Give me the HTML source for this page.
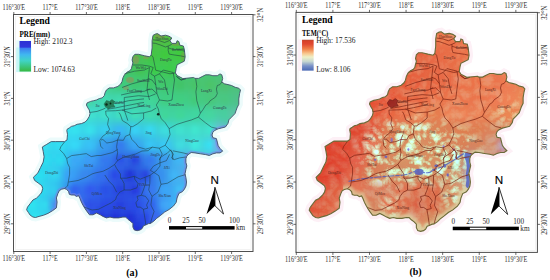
<!DOCTYPE html>
<html><head><meta charset="utf-8"><style>
html,body{margin:0;padding:0;background:#fff;}
svg{display:block;}
.t{font-family:"Liberation Serif",serif;font-size:7.2px;fill:#2a2a2a;}
.t2{font-family:"Liberation Serif",serif;font-size:7.4px;fill:#222;}
.fc rect{width:4px;height:4px;}
.lb{font-family:"Liberation Serif",serif;font-size:3.6px;}
</style></head><body>
<svg width="550" height="280" viewBox="0 0 550 280">
<defs>
<clipPath id="clipS"><rect x="60" y="182" width="140" height="60"/><rect x="170" y="150" width="30" height="40"/></clipPath>
<clipPath id="clipE"><rect x="176" y="125" width="60" height="90"/><rect x="50" y="186" width="40" height="30"/></clipPath>
<clipPath id="clipO"><path d="M153.0,35.4 L155.5,34.0 L157.5,33.6 L161.0,36.0 L165.5,35.2 L169.0,36.2 L171.8,38.0 L170.0,40.7 L171.8,43.4 L176.2,43.4 L177.1,40.7 L178.9,41.6 L179.8,45.2 L183.4,46.0 L184.3,49.6 L185.2,56.8 L184.3,61.2 L180.7,63.0 L177.1,64.8 L176.2,68.4 L175.4,72.9 L177.1,75.5 L182.9,78.6 L193.6,77.5 L195.0,78.4 L198.6,78.4 L202.1,76.6 L205.7,74.8 L209.3,74.8 L212.9,75.7 L217.3,75.7 L220.0,73.9 L221.8,74.8 L222.7,78.4 L221.8,82.0 L224.5,83.8 L228.0,84.6 L231.6,85.5 L235.2,87.3 L238.8,88.2 L240.5,90.0 L239.6,93.6 L238.8,98.9 L238.8,104.3 L237.0,107.9 L236.1,110.5 L235.0,113.6 L231.6,117.1 L228.9,119.8 L228.0,123.4 L225.4,127.0 L221.8,127.9 L218.2,128.8 L214.6,130.5 L212.9,132.3 L212.0,135.0 L212.9,137.7 L216.4,138.6 L217.3,142.1 L218.2,145.7 L220.0,148.4 L222.7,151.1 L220.0,152.9 L216.4,152.9 L212.9,153.8 L209.3,155.5 L205.7,154.6 L200.4,153.8 L195.0,152.9 L191.2,152.5 L188.6,154.3 L186.8,156.1 L185.9,158.8 L185.9,162.3 L186.8,165.9 L185.9,169.5 L185.0,173.9 L185.9,177.5 L186.5,182.0 L186.0,186.0 L184.5,189.0 L182.5,191.6 L178.9,193.4 L177.1,197.9 L176.2,202.3 L173.6,205.9 L169.1,209.5 L164.6,212.1 L160.2,215.7 L156.6,218.4 L153.9,221.1 L150.4,223.5 L148.6,223.6 L145.7,225.0 L143.6,225.7 L142.1,228.6 L140.0,230.0 L137.1,230.7 L134.3,230.0 L132.9,227.1 L132.9,223.6 L130.7,221.4 L127.9,219.3 L125.7,217.1 L122.9,217.1 L118.6,217.9 L113.6,217.9 L110.0,217.1 L106.4,217.9 L102.9,216.4 L100.2,214.8 L96.6,213.0 L93.0,214.8 L89.5,214.8 L86.8,211.2 L85.0,208.6 L82.9,205.0 L81.4,202.1 L80.0,198.6 L78.6,195.7 L76.4,196.4 L74.3,195.0 L71.4,195.0 L69.3,194.3 L68.6,191.4 L66.4,189.3 L64.3,188.6 L61.4,189.3 L59.3,190.7 L57.9,193.6 L56.4,197.9 L57.1,202.1 L56.4,207.9 L52.5,210.7 L48.0,213.4 L43.6,215.2 L39.1,216.4 L35.5,217.5 L32.9,217.0 L30.2,215.2 L28.4,212.5 L26.6,209.8 L27.5,207.1 L30.2,203.6 L32.9,200.0 L36.4,198.2 L40.0,194.6 L41.8,192.0 L42.7,188.4 L41.8,185.7 L38.2,183.0 L34.6,180.4 L33.4,177.3 L37.9,172.9 L40.5,167.5 L43.2,162.1 L44.1,156.8 L43.2,151.4 L42.3,147.0 L46.8,144.3 L51.2,141.6 L55.7,141.6 L64.5,141.6 L67.0,140.0 L67.2,137.9 L67.5,134.3 L66.8,130.7 L67.1,129.3 L69.3,127.9 L71.4,126.4 L74.3,125.7 L77.1,124.3 L81.4,123.6 L85.0,122.1 L87.1,120.0 L89.3,116.4 L90.0,113.6 L89.3,110.0 L87.9,107.9 L86.4,105.0 L87.1,102.9 L90.7,101.4 L93.6,100.7 L96.4,100.0 L99.3,98.6 L102.1,97.9 L104.3,95.7 L105.0,92.9 L106.4,90.0 L109.3,87.9 L113.6,87.9 L117.9,86.4 L120.7,84.0 L122.1,81.4 L122.9,77.9 L124.3,75.0 L127.1,72.1 L130.0,70.7 L131.4,68.6 L132.1,65.7 L132.9,62.9 L132.1,60.0 L132.9,56.4 L135.0,54.3 L138.6,54.3 L144.3,55.7 L149.5,56.8 L151.2,55.0 L152.1,47.9 L152.1,40.7 Z"/></clipPath>
<filter id="bl2" x="-5%" y="-5%" width="110%" height="110%"><feGaussianBlur stdDeviation="1.5"/></filter>
<filter id="tex" filterUnits="userSpaceOnUse" x="20" y="28" width="230" height="210" color-interpolation-filters="sRGB">
<feTurbulence type="turbulence" baseFrequency="0.09" numOctaves="3" seed="11" result="n"/>
<feColorMatrix in="n" type="matrix" values="-0.2 0 0 0 0.03  1.35 0 0 0 -0.25  1.35 0 0 0 -0.26  0 0 0 0 1" result="g"/>
<feComposite in="SourceGraphic" in2="g" operator="arithmetic" k1="0" k2="1" k3="1" k4="0"/>
</filter>
<filter id="bl4" x="-20%" y="-20%" width="140%" height="140%"><feGaussianBlur stdDeviation="12"/></filter>
<filter id="bl6" x="-30%" y="-30%" width="160%" height="160%"><feGaussianBlur stdDeviation="6"/></filter>
<filter id="bl15" x="-10%" y="-10%" width="120%" height="120%"><feGaussianBlur stdDeviation="1.5"/></filter>
<filter id="bl05"><feGaussianBlur stdDeviation="0.35"/></filter>
<mask id="mtex" maskUnits="userSpaceOnUse" x="0" y="0" width="260" height="260">
<rect x="0" y="0" width="260" height="260" fill="#303030"/>
<g filter="url(#bl6)" fill="#fff">
<path d="M80,135 L100,125 L130,120 L160,126 L190,138 L188,178 L160,182 L120,184 L90,184 L75,165 Z"/>
<ellipse cx="108" cy="208" rx="9" ry="14"/><ellipse cx="170" cy="195" rx="9" ry="16"/><ellipse cx="145" cy="226" rx="10" ry="6"/>
<ellipse cx="225" cy="115" rx="12" ry="12" opacity="0.6"/>
</g>
</mask>
<filter id="bl" x="-50%" y="-50%" width="200%" height="200%"><feGaussianBlur stdDeviation="9"/></filter>
<linearGradient id="gPre" x1="0" y1="0" x2="0" y2="1">
<stop offset="0" stop-color="#44bb48"/><stop offset="0.35" stop-color="#44c870"/><stop offset="0.55" stop-color="#40e0c8"/><stop offset="0.7" stop-color="#3090f0"/><stop offset="1" stop-color="#2440e0"/>
</linearGradient>
<linearGradient id="gPreBar" x1="0" y1="0" x2="0" y2="1">
<stop offset="0" stop-color="#2c30d4"/><stop offset="0.2" stop-color="#3038dc"/><stop offset="0.24" stop-color="#3c80f0"/><stop offset="0.45" stop-color="#40b8f0"/><stop offset="0.65" stop-color="#40d4c4"/><stop offset="1" stop-color="#38b840"/>
</linearGradient>
<linearGradient id="gTemBar" x1="0" y1="0" x2="0" y2="1">
<stop offset="0" stop-color="#b04830"/><stop offset="0.04" stop-color="#d84028"/><stop offset="0.14" stop-color="#e04830"/><stop offset="0.3" stop-color="#f08048"/><stop offset="0.45" stop-color="#f8c890"/><stop offset="0.56" stop-color="#eef0c8"/><stop offset="0.7" stop-color="#c8d8d0"/><stop offset="0.85" stop-color="#7890c8"/><stop offset="1" stop-color="#4a68b4"/>
</linearGradient>
</defs>
<rect width="550" height="280" fill="#fff"/>
<g id="L">
<rect x="13.5" y="14.5" width="239.5" height="237" fill="none" stroke="#505050" stroke-width="1"/>
<rect x="15.5" y="16.5" width="235.5" height="233" fill="none" stroke="#ececec" stroke-width="0.6"/>
<line x1="13.8" y1="12" x2="13.8" y2="14.5" stroke="#444" stroke-width="0.8"/>
<line x1="13.8" y1="251" x2="13.8" y2="254" stroke="#444" stroke-width="0.8"/>
<text x="13.8" y="10.2" class="t" text-anchor="middle" textLength="22.5" lengthAdjust="spacingAndGlyphs">116°30'E</text>
<text x="13.8" y="261.3" class="t" text-anchor="middle" textLength="22.5" lengthAdjust="spacingAndGlyphs">116°30'E</text>
<line x1="50.1" y1="12" x2="50.1" y2="14.5" stroke="#444" stroke-width="0.8"/>
<line x1="50.1" y1="251" x2="50.1" y2="254" stroke="#444" stroke-width="0.8"/>
<text x="50.1" y="10.2" class="t" text-anchor="middle" textLength="15" lengthAdjust="spacingAndGlyphs">117°E</text>
<text x="50.1" y="261.3" class="t" text-anchor="middle" textLength="15" lengthAdjust="spacingAndGlyphs">117°E</text>
<line x1="86.4" y1="12" x2="86.4" y2="14.5" stroke="#444" stroke-width="0.8"/>
<line x1="86.4" y1="251" x2="86.4" y2="254" stroke="#444" stroke-width="0.8"/>
<text x="86.4" y="10.2" class="t" text-anchor="middle" textLength="22.5" lengthAdjust="spacingAndGlyphs">117°30'E</text>
<text x="86.4" y="261.3" class="t" text-anchor="middle" textLength="22.5" lengthAdjust="spacingAndGlyphs">117°30'E</text>
<line x1="122.7" y1="12" x2="122.7" y2="14.5" stroke="#444" stroke-width="0.8"/>
<line x1="122.7" y1="251" x2="122.7" y2="254" stroke="#444" stroke-width="0.8"/>
<text x="122.7" y="10.2" class="t" text-anchor="middle" textLength="15" lengthAdjust="spacingAndGlyphs">118°E</text>
<text x="122.7" y="261.3" class="t" text-anchor="middle" textLength="15" lengthAdjust="spacingAndGlyphs">118°E</text>
<line x1="159.0" y1="12" x2="159.0" y2="14.5" stroke="#444" stroke-width="0.8"/>
<line x1="159.0" y1="251" x2="159.0" y2="254" stroke="#444" stroke-width="0.8"/>
<text x="159.0" y="10.2" class="t" text-anchor="middle" textLength="22.5" lengthAdjust="spacingAndGlyphs">118°30'E</text>
<text x="159.0" y="261.3" class="t" text-anchor="middle" textLength="22.5" lengthAdjust="spacingAndGlyphs">118°30'E</text>
<line x1="195.3" y1="12" x2="195.3" y2="14.5" stroke="#444" stroke-width="0.8"/>
<line x1="195.3" y1="251" x2="195.3" y2="254" stroke="#444" stroke-width="0.8"/>
<text x="195.3" y="10.2" class="t" text-anchor="middle" textLength="15" lengthAdjust="spacingAndGlyphs">119°E</text>
<text x="195.3" y="261.3" class="t" text-anchor="middle" textLength="15" lengthAdjust="spacingAndGlyphs">119°E</text>
<line x1="231.6" y1="12" x2="231.6" y2="14.5" stroke="#444" stroke-width="0.8"/>
<line x1="231.6" y1="251" x2="231.6" y2="254" stroke="#444" stroke-width="0.8"/>
<text x="231.6" y="10.2" class="t" text-anchor="middle" textLength="22.5" lengthAdjust="spacingAndGlyphs">119°30'E</text>
<text x="231.6" y="261.3" class="t" text-anchor="middle" textLength="22.5" lengthAdjust="spacingAndGlyphs">119°30'E</text>
<line x1="253" y1="14.8" x2="255.5" y2="14.8" stroke="#444" stroke-width="0.8"/>
<text transform="translate(262.6,14.8) rotate(-90)" class="t" text-anchor="middle" textLength="14" lengthAdjust="spacingAndGlyphs">32°N</text>
<line x1="11" y1="56.6" x2="13.5" y2="56.6" stroke="#444" stroke-width="0.8"/>
<text transform="translate(10.2,56.6) rotate(-90)" class="t" text-anchor="middle" textLength="20.7" lengthAdjust="spacingAndGlyphs">31°30'N</text>
<line x1="253" y1="56.6" x2="255.5" y2="56.6" stroke="#444" stroke-width="0.8"/>
<text transform="translate(262.6,56.6) rotate(-90)" class="t" text-anchor="middle" textLength="20.7" lengthAdjust="spacingAndGlyphs">31°30'N</text>
<line x1="11" y1="98.4" x2="13.5" y2="98.4" stroke="#444" stroke-width="0.8"/>
<text transform="translate(10.2,98.4) rotate(-90)" class="t" text-anchor="middle" textLength="14" lengthAdjust="spacingAndGlyphs">31°N</text>
<line x1="253" y1="98.4" x2="255.5" y2="98.4" stroke="#444" stroke-width="0.8"/>
<text transform="translate(262.6,98.4) rotate(-90)" class="t" text-anchor="middle" textLength="14" lengthAdjust="spacingAndGlyphs">31°N</text>
<line x1="11" y1="140.2" x2="13.5" y2="140.2" stroke="#444" stroke-width="0.8"/>
<text transform="translate(10.2,140.2) rotate(-90)" class="t" text-anchor="middle" textLength="20.7" lengthAdjust="spacingAndGlyphs">30°30'N</text>
<line x1="253" y1="140.2" x2="255.5" y2="140.2" stroke="#444" stroke-width="0.8"/>
<text transform="translate(262.6,140.2) rotate(-90)" class="t" text-anchor="middle" textLength="20.7" lengthAdjust="spacingAndGlyphs">30°30'N</text>
<line x1="11" y1="182.0" x2="13.5" y2="182.0" stroke="#444" stroke-width="0.8"/>
<text transform="translate(10.2,182.0) rotate(-90)" class="t" text-anchor="middle" textLength="14" lengthAdjust="spacingAndGlyphs">30°N</text>
<line x1="253" y1="182.0" x2="255.5" y2="182.0" stroke="#444" stroke-width="0.8"/>
<text transform="translate(262.6,182.0) rotate(-90)" class="t" text-anchor="middle" textLength="14" lengthAdjust="spacingAndGlyphs">30°N</text>
<line x1="11" y1="223.8" x2="13.5" y2="223.8" stroke="#444" stroke-width="0.8"/>
<text transform="translate(10.2,223.8) rotate(-90)" class="t" text-anchor="middle" textLength="20.7" lengthAdjust="spacingAndGlyphs">29°30'N</text>
<line x1="253" y1="223.8" x2="255.5" y2="223.8" stroke="#444" stroke-width="0.8"/>
<text transform="translate(262.6,223.8) rotate(-90)" class="t" text-anchor="middle" textLength="20.7" lengthAdjust="spacingAndGlyphs">29°30'N</text>
<path d="M153.0,35.4 L155.5,34.0 L157.5,33.6 L161.0,36.0 L165.5,35.2 L169.0,36.2 L171.8,38.0 L170.0,40.7 L171.8,43.4 L176.2,43.4 L177.1,40.7 L178.9,41.6 L179.8,45.2 L183.4,46.0 L184.3,49.6 L185.2,56.8 L184.3,61.2 L180.7,63.0 L177.1,64.8 L176.2,68.4 L175.4,72.9 L177.1,75.5 L182.9,78.6 L193.6,77.5 L195.0,78.4 L198.6,78.4 L202.1,76.6 L205.7,74.8 L209.3,74.8 L212.9,75.7 L217.3,75.7 L220.0,73.9 L221.8,74.8 L222.7,78.4 L221.8,82.0 L224.5,83.8 L228.0,84.6 L231.6,85.5 L235.2,87.3 L238.8,88.2 L240.5,90.0 L239.6,93.6 L238.8,98.9 L238.8,104.3 L237.0,107.9 L236.1,110.5 L235.0,113.6 L231.6,117.1 L228.9,119.8 L228.0,123.4 L225.4,127.0 L221.8,127.9 L218.2,128.8 L214.6,130.5 L212.9,132.3 L212.0,135.0 L212.9,137.7 L216.4,138.6 L217.3,142.1 L218.2,145.7 L220.0,148.4 L222.7,151.1 L220.0,152.9 L216.4,152.9 L212.9,153.8 L209.3,155.5 L205.7,154.6 L200.4,153.8 L195.0,152.9 L191.2,152.5 L188.6,154.3 L186.8,156.1 L185.9,158.8 L185.9,162.3 L186.8,165.9 L185.9,169.5 L185.0,173.9 L185.9,177.5 L186.5,182.0 L186.0,186.0 L184.5,189.0 L182.5,191.6 L178.9,193.4 L177.1,197.9 L176.2,202.3 L173.6,205.9 L169.1,209.5 L164.6,212.1 L160.2,215.7 L156.6,218.4 L153.9,221.1 L150.4,223.5 L148.6,223.6 L145.7,225.0 L143.6,225.7 L142.1,228.6 L140.0,230.0 L137.1,230.7 L134.3,230.0 L132.9,227.1 L132.9,223.6 L130.7,221.4 L127.9,219.3 L125.7,217.1 L122.9,217.1 L118.6,217.9 L113.6,217.9 L110.0,217.1 L106.4,217.9 L102.9,216.4 L100.2,214.8 L96.6,213.0 L93.0,214.8 L89.5,214.8 L86.8,211.2 L85.0,208.6 L82.9,205.0 L81.4,202.1 L80.0,198.6 L78.6,195.7 L76.4,196.4 L74.3,195.0 L71.4,195.0 L69.3,194.3 L68.6,191.4 L66.4,189.3 L64.3,188.6 L61.4,189.3 L59.3,190.7 L57.9,193.6 L56.4,197.9 L57.1,202.1 L56.4,207.9 L52.5,210.7 L48.0,213.4 L43.6,215.2 L39.1,216.4 L35.5,217.5 L32.9,217.0 L30.2,215.2 L28.4,212.5 L26.6,209.8 L27.5,207.1 L30.2,203.6 L32.9,200.0 L36.4,198.2 L40.0,194.6 L41.8,192.0 L42.7,188.4 L41.8,185.7 L38.2,183.0 L34.6,180.4 L33.4,177.3 L37.9,172.9 L40.5,167.5 L43.2,162.1 L44.1,156.8 L43.2,151.4 L42.3,147.0 L46.8,144.3 L51.2,141.6 L55.7,141.6 L64.5,141.6 L67.0,140.0 L67.2,137.9 L67.5,134.3 L66.8,130.7 L67.1,129.3 L69.3,127.9 L71.4,126.4 L74.3,125.7 L77.1,124.3 L81.4,123.6 L85.0,122.1 L87.1,120.0 L89.3,116.4 L90.0,113.6 L89.3,110.0 L87.9,107.9 L86.4,105.0 L87.1,102.9 L90.7,101.4 L93.6,100.7 L96.4,100.0 L99.3,98.6 L102.1,97.9 L104.3,95.7 L105.0,92.9 L106.4,90.0 L109.3,87.9 L113.6,87.9 L117.9,86.4 L120.7,84.0 L122.1,81.4 L122.9,77.9 L124.3,75.0 L127.1,72.1 L130.0,70.7 L131.4,68.6 L132.1,65.7 L132.9,62.9 L132.1,60.0 L132.9,56.4 L135.0,54.3 L138.6,54.3 L144.3,55.7 L149.5,56.8 L151.2,55.0 L152.1,47.9 L152.1,40.7 Z" fill="none" stroke="#ecfbfb" stroke-width="8" stroke-linejoin="miter"/>
<g clip-path="url(#clipO)"><g class="fc" shape-rendering="crispEdges" filter="url(#bl2)">
<rect x="148" y="30" fill="#51bd46"/><rect x="152" y="30" fill="#50bd46"/><rect x="156" y="30" fill="#51bd45"/><rect x="160" y="30" fill="#50be45"/><rect x="164" y="30" fill="#4fbf46"/><rect x="168" y="30" fill="#4ec045"/><rect x="172" y="30" fill="#4ec046"/><rect x="148" y="34" fill="#53bc40"/><rect x="152" y="34" fill="#52bc43"/><rect x="156" y="34" fill="#53bc41"/><rect x="160" y="34" fill="#53bc41"/><rect x="164" y="34" fill="#50bf42"/><rect x="168" y="34" fill="#4fc040"/><rect x="172" y="34" fill="#4ec043"/><rect x="176" y="34" fill="#4ec043"/><rect x="180" y="34" fill="#4fc040"/><rect x="148" y="38" fill="#53bc40"/><rect x="152" y="38" fill="#52bd43"/><rect x="156" y="38" fill="#53bc41"/><rect x="160" y="38" fill="#52bc41"/><rect x="164" y="38" fill="#4fbf43"/><rect x="168" y="38" fill="#4fc040"/><rect x="172" y="38" fill="#4ec043"/><rect x="176" y="38" fill="#4ec043"/><rect x="180" y="38" fill="#4fc040"/><rect x="184" y="38" fill="#4ec043"/><rect x="148" y="42" fill="#4ebe47"/><rect x="152" y="42" fill="#4ebf47"/><rect x="156" y="42" fill="#4ebf46"/><rect x="160" y="42" fill="#4dbf46"/><rect x="164" y="42" fill="#4cc146"/><rect x="168" y="42" fill="#4cc145"/><rect x="172" y="42" fill="#4bc247"/><rect x="176" y="42" fill="#4bc247"/><rect x="180" y="42" fill="#4cc246"/><rect x="184" y="42" fill="#4bc249"/><rect x="144" y="46" fill="#48c24c"/><rect x="148" y="46" fill="#48c249"/><rect x="152" y="46" fill="#48c24a"/><rect x="156" y="46" fill="#48c349"/><rect x="160" y="46" fill="#47c447"/><rect x="164" y="46" fill="#46c546"/><rect x="168" y="46" fill="#46c448"/><rect x="172" y="46" fill="#46c548"/><rect x="176" y="46" fill="#45c547"/><rect x="180" y="46" fill="#45c547"/><rect x="184" y="46" fill="#46c54c"/><rect x="188" y="46" fill="#46c453"/><rect x="128" y="50" fill="#4cbb52"/><rect x="132" y="50" fill="#4eb94a"/><rect x="136" y="50" fill="#4dba4c"/><rect x="140" y="50" fill="#49bf4f"/><rect x="144" y="50" fill="#45c448"/><rect x="148" y="50" fill="#44c542"/><rect x="152" y="50" fill="#44c546"/><rect x="156" y="50" fill="#44c548"/><rect x="160" y="50" fill="#41c842"/><rect x="164" y="50" fill="#40c93f"/><rect x="168" y="50" fill="#42c745"/><rect x="172" y="50" fill="#42c746"/><rect x="176" y="50" fill="#41c93f"/><rect x="180" y="50" fill="#40c93f"/><rect x="184" y="50" fill="#42c749"/><rect x="188" y="50" fill="#44c654"/><rect x="128" y="54" fill="#4cbb51"/><rect x="132" y="54" fill="#4fb848"/><rect x="136" y="54" fill="#4eb94a"/><rect x="140" y="54" fill="#48c04f"/><rect x="144" y="54" fill="#44c446"/><rect x="148" y="54" fill="#44c540"/><rect x="152" y="54" fill="#44c545"/><rect x="156" y="54" fill="#42c649"/><rect x="160" y="54" fill="#40c93f"/><rect x="164" y="54" fill="#40c93c"/><rect x="168" y="54" fill="#41c844"/><rect x="172" y="54" fill="#41c846"/><rect x="176" y="54" fill="#40c93d"/><rect x="180" y="54" fill="#40c93d"/><rect x="184" y="54" fill="#41c848"/><rect x="188" y="54" fill="#43c656"/><rect x="128" y="58" fill="#49be5a"/><rect x="132" y="58" fill="#4bbc52"/><rect x="136" y="58" fill="#4abd53"/><rect x="140" y="58" fill="#46c155"/><rect x="144" y="58" fill="#44c44f"/><rect x="148" y="58" fill="#43c54a"/><rect x="152" y="58" fill="#42c64c"/><rect x="156" y="58" fill="#41c74e"/><rect x="160" y="58" fill="#41c849"/><rect x="164" y="58" fill="#40c946"/><rect x="168" y="58" fill="#40c84b"/><rect x="172" y="58" fill="#41c84c"/><rect x="176" y="58" fill="#40c847"/><rect x="180" y="58" fill="#41c847"/><rect x="184" y="58" fill="#42c751"/><rect x="188" y="58" fill="#43c65c"/><rect x="124" y="62" fill="#44c365"/><rect x="128" y="62" fill="#45c262"/><rect x="132" y="62" fill="#46c25d"/><rect x="136" y="62" fill="#45c25a"/><rect x="140" y="62" fill="#44c359"/><rect x="144" y="62" fill="#43c557"/><rect x="148" y="62" fill="#41c753"/><rect x="152" y="62" fill="#3fc851"/><rect x="156" y="62" fill="#3fc951"/><rect x="160" y="62" fill="#40c851"/><rect x="164" y="62" fill="#3fc950"/><rect x="168" y="62" fill="#3ec94f"/><rect x="172" y="62" fill="#3fc951"/><rect x="176" y="62" fill="#40c853"/><rect x="180" y="62" fill="#41c856"/><rect x="184" y="62" fill="#42c75d"/><rect x="188" y="62" fill="#43c665"/><rect x="120" y="66" fill="#43c463"/><rect x="124" y="66" fill="#43c461"/><rect x="128" y="66" fill="#43c464"/><rect x="132" y="66" fill="#44c460"/><rect x="136" y="66" fill="#43c456"/><rect x="140" y="66" fill="#43c456"/><rect x="144" y="66" fill="#42c55a"/><rect x="148" y="66" fill="#3fc953"/><rect x="152" y="66" fill="#3ccb49"/><rect x="156" y="66" fill="#3dcb4d"/><rect x="160" y="66" fill="#3ec954"/><rect x="164" y="66" fill="#3dca4f"/><rect x="168" y="66" fill="#3ccb49"/><rect x="172" y="66" fill="#3dca4f"/><rect x="176" y="66" fill="#40c859"/><rect x="180" y="66" fill="#41c760"/><rect x="184" y="66" fill="#42c766"/><rect x="120" y="70" fill="#43c465"/><rect x="124" y="70" fill="#43c461"/><rect x="128" y="70" fill="#43c467"/><rect x="132" y="70" fill="#43c563"/><rect x="136" y="70" fill="#43c457"/><rect x="140" y="70" fill="#43c457"/><rect x="144" y="70" fill="#41c65d"/><rect x="148" y="70" fill="#3ec956"/><rect x="152" y="70" fill="#3ccb4a"/><rect x="156" y="70" fill="#3dcb4e"/><rect x="160" y="70" fill="#3ec958"/><rect x="164" y="70" fill="#3dca51"/><rect x="168" y="70" fill="#3ccb49"/><rect x="172" y="70" fill="#3dca51"/><rect x="176" y="70" fill="#40c85f"/><rect x="180" y="70" fill="#41c767"/><rect x="188" y="70" fill="#44c670"/><rect x="192" y="70" fill="#45c573"/><rect x="196" y="70" fill="#45c575"/><rect x="200" y="70" fill="#46c577"/><rect x="204" y="70" fill="#47c478"/><rect x="208" y="70" fill="#48c479"/><rect x="212" y="70" fill="#49c47b"/><rect x="216" y="70" fill="#49c37c"/><rect x="220" y="70" fill="#4ac37d"/><rect x="224" y="70" fill="#4bc27e"/><rect x="116" y="74" fill="#41c97c"/><rect x="120" y="74" fill="#42c773"/><rect x="124" y="74" fill="#42c66f"/><rect x="128" y="74" fill="#42c670"/><rect x="132" y="74" fill="#42c66d"/><rect x="136" y="74" fill="#42c666"/><rect x="140" y="74" fill="#42c665"/><rect x="144" y="74" fill="#41c766"/><rect x="148" y="74" fill="#3fc863"/><rect x="152" y="74" fill="#3ec95c"/><rect x="156" y="74" fill="#3ec95e"/><rect x="160" y="74" fill="#3fc961"/><rect x="164" y="74" fill="#3fc95f"/><rect x="168" y="74" fill="#3ec95b"/><rect x="172" y="74" fill="#3fc960"/><rect x="176" y="74" fill="#41c767"/><rect x="180" y="74" fill="#42c66c"/><rect x="184" y="74" fill="#43c670"/><rect x="188" y="74" fill="#44c672"/><rect x="192" y="74" fill="#45c572"/><rect x="196" y="74" fill="#46c574"/><rect x="200" y="74" fill="#47c575"/><rect x="204" y="74" fill="#48c475"/><rect x="208" y="74" fill="#49c475"/><rect x="212" y="74" fill="#4ac477"/><rect x="216" y="74" fill="#4ac379"/><rect x="220" y="74" fill="#4cc27a"/><rect x="224" y="74" fill="#4cc27a"/><rect x="116" y="78" fill="#40cb7f"/><rect x="120" y="78" fill="#40ca7c"/><rect x="124" y="78" fill="#41c97a"/><rect x="128" y="78" fill="#41c877"/><rect x="132" y="78" fill="#40c873"/><rect x="136" y="78" fill="#40c772"/><rect x="140" y="78" fill="#40c770"/><rect x="144" y="78" fill="#40c86d"/><rect x="148" y="78" fill="#40c86b"/><rect x="152" y="78" fill="#3fc86a"/><rect x="156" y="78" fill="#3fc86a"/><rect x="160" y="78" fill="#3fc86a"/><rect x="164" y="78" fill="#40c869"/><rect x="168" y="78" fill="#40c869"/><rect x="172" y="78" fill="#41c76b"/><rect x="176" y="78" fill="#42c56b"/><rect x="180" y="78" fill="#43c56c"/><rect x="184" y="78" fill="#44c570"/><rect x="188" y="78" fill="#45c570"/><rect x="192" y="78" fill="#46c46d"/><rect x="196" y="78" fill="#47c46f"/><rect x="200" y="78" fill="#48c573"/><rect x="204" y="78" fill="#49c471"/><rect x="208" y="78" fill="#4ac46e"/><rect x="212" y="78" fill="#4ac471"/><rect x="216" y="78" fill="#4bc376"/><rect x="220" y="78" fill="#4dc175"/><rect x="224" y="78" fill="#4ec074"/><rect x="228" y="78" fill="#4ec178"/><rect x="232" y="78" fill="#4ec17c"/><rect x="104" y="82" fill="#43cf8c"/><rect x="108" y="82" fill="#43cf88"/><rect x="112" y="82" fill="#42ce87"/><rect x="116" y="82" fill="#40cc7a"/><rect x="120" y="82" fill="#40cb79"/><rect x="124" y="82" fill="#40ca7e"/><rect x="128" y="82" fill="#40c979"/><rect x="132" y="82" fill="#40c870"/><rect x="136" y="82" fill="#40c872"/><rect x="140" y="82" fill="#40c876"/><rect x="144" y="82" fill="#40c86e"/><rect x="148" y="82" fill="#40c868"/><rect x="152" y="82" fill="#40c86c"/><rect x="156" y="82" fill="#40c870"/><rect x="160" y="82" fill="#40c86a"/><rect x="164" y="82" fill="#40c868"/><rect x="168" y="82" fill="#40c86d"/><rect x="172" y="82" fill="#42c66e"/><rect x="176" y="82" fill="#43c469"/><rect x="180" y="82" fill="#43c469"/><rect x="184" y="82" fill="#44c570"/><rect x="188" y="82" fill="#46c56e"/><rect x="192" y="82" fill="#47c468"/><rect x="196" y="82" fill="#47c46a"/><rect x="200" y="82" fill="#48c571"/><rect x="204" y="82" fill="#4ac46c"/><rect x="208" y="82" fill="#4bc468"/><rect x="212" y="82" fill="#4bc46d"/><rect x="216" y="82" fill="#4cc375"/><rect x="220" y="82" fill="#4fc071"/><rect x="224" y="82" fill="#4fc070"/><rect x="228" y="82" fill="#4ec076"/><rect x="232" y="82" fill="#4ec07b"/><rect x="236" y="82" fill="#4fc078"/><rect x="240" y="82" fill="#4fc078"/><rect x="100" y="86" fill="#42cf9c"/><rect x="104" y="86" fill="#42cf90"/><rect x="108" y="86" fill="#43cf8a"/><rect x="112" y="86" fill="#42ce8a"/><rect x="116" y="86" fill="#40cc7f"/><rect x="120" y="86" fill="#40cc7e"/><rect x="124" y="86" fill="#40cc85"/><rect x="128" y="86" fill="#40ca7f"/><rect x="132" y="86" fill="#40c875"/><rect x="136" y="86" fill="#40c978"/><rect x="140" y="86" fill="#40ca7c"/><rect x="144" y="86" fill="#40c974"/><rect x="148" y="86" fill="#40c86c"/><rect x="152" y="86" fill="#40c972"/><rect x="156" y="86" fill="#40c976"/><rect x="160" y="86" fill="#40c86f"/><rect x="164" y="86" fill="#40c86b"/><rect x="168" y="86" fill="#40c872"/><rect x="172" y="86" fill="#42c773"/><rect x="176" y="86" fill="#43c56c"/><rect x="180" y="86" fill="#43c56c"/><rect x="184" y="86" fill="#44c673"/><rect x="188" y="86" fill="#45c672"/><rect x="192" y="86" fill="#47c46b"/><rect x="196" y="86" fill="#47c56e"/><rect x="200" y="86" fill="#47c574"/><rect x="204" y="86" fill="#4ac570"/><rect x="208" y="86" fill="#4bc46b"/><rect x="212" y="86" fill="#4bc471"/><rect x="216" y="86" fill="#4bc377"/><rect x="220" y="86" fill="#4ec174"/><rect x="224" y="86" fill="#4fc072"/><rect x="228" y="86" fill="#4ec178"/><rect x="232" y="86" fill="#4ec17d"/><rect x="236" y="86" fill="#4fc07a"/><rect x="240" y="86" fill="#4fc07a"/><rect x="96" y="90" fill="#42d2aa"/><rect x="100" y="90" fill="#42d2a6"/><rect x="104" y="90" fill="#42d2a0"/><rect x="108" y="90" fill="#42d19a"/><rect x="112" y="90" fill="#41d097"/><rect x="116" y="90" fill="#40d095"/><rect x="120" y="90" fill="#40cf94"/><rect x="124" y="90" fill="#40ce93"/><rect x="128" y="90" fill="#40cd8f"/><rect x="132" y="90" fill="#3fcd8b"/><rect x="136" y="90" fill="#3fcd8a"/><rect x="140" y="90" fill="#3fcd89"/><rect x="144" y="90" fill="#3fcc86"/><rect x="148" y="90" fill="#40cc82"/><rect x="152" y="90" fill="#40cc82"/><rect x="156" y="90" fill="#40cb81"/><rect x="160" y="90" fill="#40cb7d"/><rect x="164" y="90" fill="#40ca7b"/><rect x="168" y="90" fill="#40ca7c"/><rect x="172" y="90" fill="#41ca7c"/><rect x="176" y="90" fill="#42c97a"/><rect x="180" y="90" fill="#42c97a"/><rect x="184" y="90" fill="#43c97c"/><rect x="188" y="90" fill="#44c87b"/><rect x="192" y="90" fill="#45c878"/><rect x="196" y="90" fill="#46c779"/><rect x="200" y="90" fill="#46c77b"/><rect x="204" y="90" fill="#48c67a"/><rect x="208" y="90" fill="#49c678"/><rect x="212" y="90" fill="#49c67a"/><rect x="216" y="90" fill="#4ac57d"/><rect x="220" y="90" fill="#4bc47d"/><rect x="224" y="90" fill="#4cc37d"/><rect x="228" y="90" fill="#4cc380"/><rect x="232" y="90" fill="#4dc282"/><rect x="236" y="90" fill="#4ec182"/><rect x="240" y="90" fill="#4ec182"/><rect x="84" y="94" fill="#46d6a4"/><rect x="88" y="94" fill="#46d6a5"/><rect x="92" y="94" fill="#43d4ab"/><rect x="96" y="94" fill="#42d4ae"/><rect x="100" y="94" fill="#42d7ae"/><rect x="104" y="94" fill="#43d8ad"/><rect x="108" y="94" fill="#41d5a9"/><rect x="112" y="94" fill="#40d4a6"/><rect x="116" y="94" fill="#40d7a9"/><rect x="120" y="94" fill="#3fd7a8"/><rect x="124" y="94" fill="#3fd2a1"/><rect x="128" y="94" fill="#3fd29d"/><rect x="132" y="94" fill="#3fd49d"/><rect x="136" y="94" fill="#3fd39a"/><rect x="140" y="94" fill="#3fd096"/><rect x="144" y="94" fill="#3fd294"/><rect x="148" y="94" fill="#3fd494"/><rect x="152" y="94" fill="#3fd190"/><rect x="156" y="94" fill="#40ce8a"/><rect x="160" y="94" fill="#40ce84"/><rect x="164" y="94" fill="#40ce82"/><rect x="168" y="94" fill="#40cd83"/><rect x="172" y="94" fill="#40cc83"/><rect x="176" y="94" fill="#40cd81"/><rect x="180" y="94" fill="#40cd81"/><rect x="184" y="94" fill="#42cb82"/><rect x="188" y="94" fill="#43ca7f"/><rect x="192" y="94" fill="#44cb7b"/><rect x="196" y="94" fill="#44ca7c"/><rect x="200" y="94" fill="#46c97f"/><rect x="204" y="94" fill="#47c87d"/><rect x="208" y="94" fill="#48c77b"/><rect x="212" y="94" fill="#48c77e"/><rect x="216" y="94" fill="#49c782"/><rect x="220" y="94" fill="#49c782"/><rect x="224" y="94" fill="#49c781"/><rect x="228" y="94" fill="#4ac584"/><rect x="232" y="94" fill="#4dc287"/><rect x="236" y="94" fill="#4fc088"/><rect x="240" y="94" fill="#4fc088"/><rect x="80" y="98" fill="#44d5ab"/><rect x="84" y="98" fill="#47d7a1"/><rect x="88" y="98" fill="#47d7a1"/><rect x="92" y="98" fill="#44d5ab"/><rect x="96" y="98" fill="#42d6b1"/><rect x="100" y="98" fill="#43dab0"/><rect x="104" y="98" fill="#43dbb0"/><rect x="108" y="98" fill="#42d7af"/><rect x="112" y="98" fill="#40d6ae"/><rect x="116" y="98" fill="#3fdbaf"/><rect x="120" y="98" fill="#3fdbaf"/><rect x="124" y="98" fill="#3fd5a9"/><rect x="128" y="98" fill="#3fd4a2"/><rect x="132" y="98" fill="#3fd7a0"/><rect x="136" y="98" fill="#3fd69f"/><rect x="140" y="98" fill="#3fd29d"/><rect x="144" y="98" fill="#3fd599"/><rect x="148" y="98" fill="#3fd798"/><rect x="152" y="98" fill="#3fd496"/><rect x="156" y="98" fill="#3fd08f"/><rect x="160" y="98" fill="#40cf83"/><rect x="164" y="98" fill="#40cf80"/><rect x="168" y="98" fill="#40ce86"/><rect x="172" y="98" fill="#40ce86"/><rect x="176" y="98" fill="#40cf80"/><rect x="180" y="98" fill="#40cf80"/><rect x="184" y="98" fill="#41cd85"/><rect x="188" y="98" fill="#43cc80"/><rect x="192" y="98" fill="#43cb78"/><rect x="196" y="98" fill="#44cb7b"/><rect x="200" y="98" fill="#45ca82"/><rect x="204" y="98" fill="#47c87d"/><rect x="208" y="98" fill="#47c878"/><rect x="212" y="98" fill="#48c87d"/><rect x="216" y="98" fill="#48c885"/><rect x="220" y="98" fill="#48c781"/><rect x="224" y="98" fill="#48c780"/><rect x="228" y="98" fill="#4ac685"/><rect x="232" y="98" fill="#4dc28a"/><rect x="236" y="98" fill="#4fc088"/><rect x="240" y="98" fill="#4fc088"/><rect x="80" y="102" fill="#43d4b3"/><rect x="84" y="102" fill="#45d6a9"/><rect x="88" y="102" fill="#45d6a9"/><rect x="92" y="102" fill="#42d5b3"/><rect x="96" y="102" fill="#41d6b7"/><rect x="100" y="102" fill="#42d8b4"/><rect x="104" y="102" fill="#42d9b3"/><rect x="108" y="102" fill="#41d6b4"/><rect x="112" y="102" fill="#40d5b3"/><rect x="116" y="102" fill="#3fd8b1"/><rect x="120" y="102" fill="#3fd8b0"/><rect x="124" y="102" fill="#3fd4ae"/><rect x="128" y="102" fill="#3fd4a8"/><rect x="132" y="102" fill="#3fd5a3"/><rect x="136" y="102" fill="#3fd4a3"/><rect x="140" y="102" fill="#3fd2a3"/><rect x="144" y="102" fill="#3fd39e"/><rect x="148" y="102" fill="#3fd59b"/><rect x="152" y="102" fill="#3fd39a"/><rect x="156" y="102" fill="#3fd096"/><rect x="160" y="102" fill="#3fcf8b"/><rect x="164" y="102" fill="#40cf87"/><rect x="168" y="102" fill="#40cf8c"/><rect x="172" y="102" fill="#40ce8d"/><rect x="176" y="102" fill="#40cf87"/><rect x="180" y="102" fill="#40cf87"/><rect x="184" y="102" fill="#41ce8b"/><rect x="188" y="102" fill="#42cd88"/><rect x="192" y="102" fill="#43cc80"/><rect x="196" y="102" fill="#44cc83"/><rect x="200" y="102" fill="#45cc89"/><rect x="204" y="102" fill="#46ca85"/><rect x="208" y="102" fill="#47c980"/><rect x="212" y="102" fill="#47c986"/><rect x="216" y="102" fill="#48c98b"/><rect x="220" y="102" fill="#48c888"/><rect x="224" y="102" fill="#49c786"/><rect x="228" y="102" fill="#4bc68c"/><rect x="232" y="102" fill="#4ec38f"/><rect x="236" y="102" fill="#4fc18c"/><rect x="240" y="102" fill="#4fc08b"/><rect x="80" y="106" fill="#40d5c1"/><rect x="84" y="106" fill="#41d8bf"/><rect x="88" y="106" fill="#41d9c1"/><rect x="92" y="106" fill="#40d8c2"/><rect x="96" y="106" fill="#40d7c1"/><rect x="100" y="106" fill="#40d8c0"/><rect x="104" y="106" fill="#40d8bf"/><rect x="108" y="106" fill="#3fd6bd"/><rect x="112" y="106" fill="#3fd5bb"/><rect x="116" y="106" fill="#3fd6b9"/><rect x="120" y="106" fill="#3fd6b8"/><rect x="124" y="106" fill="#3fd4b5"/><rect x="128" y="106" fill="#3fd4b2"/><rect x="132" y="106" fill="#3fd5b0"/><rect x="136" y="106" fill="#3fd4ae"/><rect x="140" y="106" fill="#3fd3ac"/><rect x="144" y="106" fill="#3fd3a9"/><rect x="148" y="106" fill="#3fd4a7"/><rect x="152" y="106" fill="#3fd2a4"/><rect x="156" y="106" fill="#3fd19f"/><rect x="160" y="106" fill="#3fd199"/><rect x="164" y="106" fill="#3fd197"/><rect x="168" y="106" fill="#40d097"/><rect x="172" y="106" fill="#40d097"/><rect x="176" y="106" fill="#40d195"/><rect x="180" y="106" fill="#40d195"/><rect x="184" y="106" fill="#41d095"/><rect x="188" y="106" fill="#42d095"/><rect x="192" y="106" fill="#42d095"/><rect x="196" y="106" fill="#43d095"/><rect x="200" y="106" fill="#44cf95"/><rect x="204" y="106" fill="#45ce95"/><rect x="208" y="106" fill="#46ce94"/><rect x="212" y="106" fill="#47cd95"/><rect x="216" y="106" fill="#48cb96"/><rect x="220" y="106" fill="#49ca96"/><rect x="224" y="106" fill="#4bc997"/><rect x="228" y="106" fill="#4fc699"/><rect x="232" y="106" fill="#53c39b"/><rect x="236" y="106" fill="#53c299"/><rect x="240" y="106" fill="#52c296"/><rect x="84" y="110" fill="#3fddcd"/><rect x="88" y="110" fill="#3fe1ce"/><rect x="92" y="110" fill="#3fddcc"/><rect x="96" y="110" fill="#3fd9c9"/><rect x="100" y="110" fill="#3fdeca"/><rect x="104" y="110" fill="#3fe0ca"/><rect x="108" y="110" fill="#3fd9c6"/><rect x="112" y="110" fill="#3ed6c2"/><rect x="116" y="110" fill="#3fdbc0"/><rect x="120" y="110" fill="#3fdbbf"/><rect x="124" y="110" fill="#3ed5bc"/><rect x="128" y="110" fill="#3ed7b9"/><rect x="132" y="110" fill="#3fdcb7"/><rect x="136" y="110" fill="#3fdab7"/><rect x="140" y="110" fill="#3ed4b4"/><rect x="144" y="110" fill="#3fd6b0"/><rect x="148" y="110" fill="#3fd9af"/><rect x="152" y="110" fill="#3fd6ad"/><rect x="156" y="110" fill="#3fd3a6"/><rect x="160" y="110" fill="#3fd59d"/><rect x="164" y="110" fill="#3fd69a"/><rect x="168" y="110" fill="#3fd39d"/><rect x="172" y="110" fill="#40d39d"/><rect x="176" y="110" fill="#40d59a"/><rect x="180" y="110" fill="#40d599"/><rect x="184" y="110" fill="#40d39d"/><rect x="188" y="110" fill="#41d39e"/><rect x="192" y="110" fill="#40d69f"/><rect x="196" y="110" fill="#41d59f"/><rect x="200" y="110" fill="#43d29f"/><rect x="204" y="110" fill="#44d39f"/><rect x="208" y="110" fill="#44d69f"/><rect x="212" y="110" fill="#46d29f"/><rect x="216" y="110" fill="#48ce9f"/><rect x="220" y="110" fill="#49cd9f"/><rect x="224" y="110" fill="#49ce9f"/><rect x="228" y="110" fill="#52c7a1"/><rect x="232" y="110" fill="#5cc1a6"/><rect x="236" y="110" fill="#5bc1a4"/><rect x="240" y="110" fill="#56c2a0"/><rect x="80" y="114" fill="#3cd8d3"/><rect x="84" y="114" fill="#3fdfd0"/><rect x="88" y="114" fill="#3fe3d0"/><rect x="92" y="114" fill="#3fdecf"/><rect x="96" y="114" fill="#3ed9ce"/><rect x="100" y="114" fill="#3fe0cc"/><rect x="104" y="114" fill="#3fe3cc"/><rect x="108" y="114" fill="#3edacb"/><rect x="112" y="114" fill="#3ed6c6"/><rect x="116" y="114" fill="#3fdec0"/><rect x="120" y="114" fill="#3fdec0"/><rect x="124" y="114" fill="#3ed5c1"/><rect x="128" y="114" fill="#3ed7bd"/><rect x="132" y="114" fill="#3fdfb8"/><rect x="136" y="114" fill="#3fdcb9"/><rect x="140" y="114" fill="#3ed5ba"/><rect x="144" y="114" fill="#3fd7b3"/><rect x="148" y="114" fill="#3fdbb0"/><rect x="152" y="114" fill="#3fd7b1"/><rect x="156" y="114" fill="#3fd3ac"/><rect x="160" y="114" fill="#3fd69d"/><rect x="164" y="114" fill="#3fd798"/><rect x="168" y="114" fill="#3fd4a1"/><rect x="172" y="114" fill="#3fd4a2"/><rect x="176" y="114" fill="#40d799"/><rect x="180" y="114" fill="#40d799"/><rect x="184" y="114" fill="#40d4a1"/><rect x="188" y="114" fill="#40d5a3"/><rect x="192" y="114" fill="#40d7a0"/><rect x="196" y="114" fill="#40d6a1"/><rect x="200" y="114" fill="#43d4a5"/><rect x="204" y="114" fill="#44d5a2"/><rect x="208" y="114" fill="#44d7a0"/><rect x="212" y="114" fill="#45d4a2"/><rect x="216" y="114" fill="#49cea5"/><rect x="220" y="114" fill="#49cea1"/><rect x="224" y="114" fill="#48cfa0"/><rect x="228" y="114" fill="#52c7a4"/><rect x="232" y="114" fill="#5fc0a7"/><rect x="236" y="114" fill="#5ec0a7"/><rect x="72" y="118" fill="#38d6e3"/><rect x="76" y="118" fill="#39d5df"/><rect x="80" y="118" fill="#3bd6db"/><rect x="84" y="118" fill="#3cdad6"/><rect x="88" y="118" fill="#3ddcd4"/><rect x="92" y="118" fill="#3dd9d5"/><rect x="96" y="118" fill="#3cd5d4"/><rect x="100" y="118" fill="#3dd8d2"/><rect x="104" y="118" fill="#3dd9d1"/><rect x="108" y="118" fill="#3dd3d1"/><rect x="112" y="118" fill="#3dcfce"/><rect x="116" y="118" fill="#3dd3ca"/><rect x="120" y="118" fill="#3dd2c9"/><rect x="124" y="118" fill="#3dceca"/><rect x="128" y="118" fill="#3dd0c7"/><rect x="132" y="118" fill="#3ed5c2"/><rect x="136" y="118" fill="#3dd4c3"/><rect x="140" y="118" fill="#3dd1c4"/><rect x="144" y="118" fill="#3dd3bf"/><rect x="148" y="118" fill="#3ed5ba"/><rect x="152" y="118" fill="#3ed4bb"/><rect x="156" y="118" fill="#3ed2b7"/><rect x="160" y="118" fill="#3ed4ae"/><rect x="164" y="118" fill="#3fd4a9"/><rect x="168" y="118" fill="#3fd3ae"/><rect x="172" y="118" fill="#3fd4ad"/><rect x="176" y="118" fill="#40d5a7"/><rect x="180" y="118" fill="#40d6a7"/><rect x="184" y="118" fill="#40d5ac"/><rect x="188" y="118" fill="#41d5ac"/><rect x="192" y="118" fill="#41d6a9"/><rect x="196" y="118" fill="#41d6ab"/><rect x="200" y="118" fill="#43d5ae"/><rect x="204" y="118" fill="#45d5ac"/><rect x="208" y="118" fill="#45d5aa"/><rect x="212" y="118" fill="#49d2ad"/><rect x="216" y="118" fill="#4dccb0"/><rect x="220" y="118" fill="#4dcbaa"/><rect x="224" y="118" fill="#4dcba7"/><rect x="228" y="118" fill="#53c7a7"/><rect x="232" y="118" fill="#59c2a8"/><rect x="236" y="118" fill="#5ac2a7"/><rect x="64" y="122" fill="#35dcee"/><rect x="68" y="122" fill="#36dbec"/><rect x="72" y="122" fill="#36dcea"/><rect x="76" y="122" fill="#37dae8"/><rect x="80" y="122" fill="#38d7e3"/><rect x="84" y="122" fill="#39d8e1"/><rect x="88" y="122" fill="#3adae1"/><rect x="92" y="122" fill="#3ad6df"/><rect x="96" y="122" fill="#3ad1de"/><rect x="100" y="122" fill="#3ad0e0"/><rect x="104" y="122" fill="#3acfe1"/><rect x="108" y="122" fill="#3acbdd"/><rect x="112" y="122" fill="#3ac5dc"/><rect x="116" y="122" fill="#3ac2df"/><rect x="120" y="122" fill="#3ac2de"/><rect x="124" y="122" fill="#3ac5d9"/><rect x="128" y="122" fill="#3acad9"/><rect x="132" y="122" fill="#3acedd"/><rect x="136" y="122" fill="#3aced9"/><rect x="140" y="122" fill="#3bced4"/><rect x="144" y="122" fill="#3bd1d4"/><rect x="148" y="122" fill="#3bd3d7"/><rect x="152" y="122" fill="#3bd2d1"/><rect x="156" y="122" fill="#3cd2c9"/><rect x="160" y="122" fill="#3dd5c8"/><rect x="164" y="122" fill="#3dd6c7"/><rect x="168" y="122" fill="#3ed5c2"/><rect x="172" y="122" fill="#3fd5be"/><rect x="176" y="122" fill="#3fd8be"/><rect x="180" y="122" fill="#40d9be"/><rect x="184" y="122" fill="#40d7bb"/><rect x="188" y="122" fill="#41d9bc"/><rect x="192" y="122" fill="#41dcbf"/><rect x="196" y="122" fill="#42dabd"/><rect x="200" y="122" fill="#43d8bb"/><rect x="204" y="122" fill="#44d8bd"/><rect x="208" y="122" fill="#46d9c0"/><rect x="212" y="122" fill="#4dd1c0"/><rect x="216" y="122" fill="#58c7c3"/><rect x="220" y="122" fill="#5bc3c1"/><rect x="224" y="122" fill="#56c5b8"/><rect x="228" y="122" fill="#54c5b1"/><rect x="232" y="122" fill="#55c4ad"/><rect x="60" y="126" fill="#34e1f2"/><rect x="64" y="126" fill="#34e3f3"/><rect x="68" y="126" fill="#35dfef"/><rect x="72" y="126" fill="#36e2ef"/><rect x="76" y="126" fill="#36e0ed"/><rect x="80" y="126" fill="#37d8e8"/><rect x="84" y="126" fill="#38dce8"/><rect x="88" y="126" fill="#38e2eb"/><rect x="92" y="126" fill="#38dae7"/><rect x="96" y="126" fill="#39cfe6"/><rect x="100" y="126" fill="#38d0ee"/><rect x="104" y="126" fill="#38d2f1"/><rect x="108" y="126" fill="#39c9e9"/><rect x="112" y="126" fill="#39bee7"/><rect x="116" y="126" fill="#38b9f3"/><rect x="120" y="126" fill="#38b9f3"/><rect x="124" y="126" fill="#39bee6"/><rect x="128" y="126" fill="#39c8e8"/><rect x="132" y="126" fill="#38d2f4"/><rect x="136" y="126" fill="#38d0ef"/><rect x="140" y="126" fill="#39cce1"/><rect x="144" y="126" fill="#39d4e7"/><rect x="148" y="126" fill="#38daf1"/><rect x="152" y="126" fill="#39d5e5"/><rect x="156" y="126" fill="#3bd3d7"/><rect x="160" y="126" fill="#3cdbda"/><rect x="164" y="126" fill="#3cdedd"/><rect x="168" y="126" fill="#3dd8d2"/><rect x="172" y="126" fill="#3fd8ca"/><rect x="176" y="126" fill="#3fe1cd"/><rect x="180" y="126" fill="#40e1cd"/><rect x="184" y="126" fill="#40dbc7"/><rect x="188" y="126" fill="#40dec8"/><rect x="192" y="126" fill="#40e6ce"/><rect x="196" y="126" fill="#40e3cb"/><rect x="200" y="126" fill="#43dcc6"/><rect x="204" y="126" fill="#43dfca"/><rect x="208" y="126" fill="#41e6cf"/><rect x="212" y="126" fill="#4dd7cd"/><rect x="216" y="126" fill="#69bcd4"/><rect x="220" y="126" fill="#6bbad4"/><rect x="224" y="126" fill="#60c0c8"/><rect x="228" y="126" fill="#58c3bc"/><rect x="60" y="130" fill="#34e0f2"/><rect x="64" y="130" fill="#34e2f3"/><rect x="68" y="130" fill="#35def0"/><rect x="72" y="130" fill="#36e2ef"/><rect x="76" y="130" fill="#36dfee"/><rect x="80" y="130" fill="#37d7ea"/><rect x="84" y="130" fill="#38dbea"/><rect x="88" y="130" fill="#38e2eb"/><rect x="92" y="130" fill="#38d8e9"/><rect x="96" y="130" fill="#38cbe9"/><rect x="100" y="130" fill="#38ceef"/><rect x="104" y="130" fill="#38d1f2"/><rect x="108" y="130" fill="#38c5eb"/><rect x="112" y="130" fill="#38b9ea"/><rect x="116" y="130" fill="#38b7f4"/><rect x="120" y="130" fill="#38b7f4"/><rect x="124" y="130" fill="#38b9ea"/><rect x="128" y="130" fill="#38c4eb"/><rect x="132" y="130" fill="#38d1f5"/><rect x="136" y="130" fill="#38cef1"/><rect x="140" y="130" fill="#39c9e6"/><rect x="144" y="130" fill="#38d2ea"/><rect x="148" y="130" fill="#38daf2"/><rect x="152" y="130" fill="#39d4e8"/><rect x="156" y="130" fill="#3bd1dc"/><rect x="160" y="130" fill="#3cdadd"/><rect x="164" y="130" fill="#3cdede"/><rect x="168" y="130" fill="#3dd7d6"/><rect x="172" y="130" fill="#3ed8cf"/><rect x="176" y="130" fill="#3fe1cf"/><rect x="180" y="130" fill="#40e1cf"/><rect x="184" y="130" fill="#40dbcb"/><rect x="188" y="130" fill="#40decc"/><rect x="192" y="130" fill="#40e6cf"/><rect x="196" y="130" fill="#40e3ce"/><rect x="200" y="130" fill="#43dccb"/><rect x="204" y="130" fill="#43dfcd"/><rect x="208" y="130" fill="#41e5cf"/><rect x="212" y="130" fill="#4dd6cf"/><rect x="216" y="130" fill="#6abbd5"/><rect x="220" y="130" fill="#6cbad5"/><rect x="224" y="130" fill="#62becd"/><rect x="228" y="130" fill="#5ac1c4"/><rect x="48" y="134" fill="#35d5ec"/><rect x="52" y="134" fill="#34d5ed"/><rect x="56" y="134" fill="#33d8ef"/><rect x="60" y="134" fill="#34daf0"/><rect x="64" y="134" fill="#34dbf0"/><rect x="68" y="134" fill="#35d9ef"/><rect x="72" y="134" fill="#36d9ef"/><rect x="76" y="134" fill="#36d6ee"/><rect x="80" y="134" fill="#37d0ec"/><rect x="84" y="134" fill="#37cfeb"/><rect x="88" y="134" fill="#38d0eb"/><rect x="92" y="134" fill="#38c9ea"/><rect x="96" y="134" fill="#38c1e9"/><rect x="100" y="134" fill="#38beeb"/><rect x="104" y="134" fill="#38bdeb"/><rect x="108" y="134" fill="#38b5e9"/><rect x="112" y="134" fill="#37aee9"/><rect x="116" y="134" fill="#37abeb"/><rect x="120" y="134" fill="#37abeb"/><rect x="124" y="134" fill="#37aee8"/><rect x="128" y="134" fill="#38b6e9"/><rect x="132" y="134" fill="#38beec"/><rect x="136" y="134" fill="#38bfea"/><rect x="140" y="134" fill="#38c0e6"/><rect x="144" y="134" fill="#39c6e7"/><rect x="148" y="134" fill="#39cbe8"/><rect x="152" y="134" fill="#39cae5"/><rect x="156" y="134" fill="#3acae0"/><rect x="160" y="134" fill="#3bcfde"/><rect x="164" y="134" fill="#3cd1dd"/><rect x="168" y="134" fill="#3dd0d9"/><rect x="172" y="134" fill="#3ed3d4"/><rect x="176" y="134" fill="#3fd8d2"/><rect x="180" y="134" fill="#40d9d1"/><rect x="184" y="134" fill="#40d8d0"/><rect x="188" y="134" fill="#41dacf"/><rect x="192" y="134" fill="#41ded0"/><rect x="196" y="134" fill="#42ddd0"/><rect x="200" y="134" fill="#43d9d0"/><rect x="204" y="134" fill="#44d9d2"/><rect x="208" y="134" fill="#47d7d4"/><rect x="212" y="134" fill="#51cdd5"/><rect x="216" y="134" fill="#5fc1d5"/><rect x="220" y="134" fill="#63bdd4"/><rect x="40" y="138" fill="#36daee"/><rect x="44" y="138" fill="#36dbee"/><rect x="48" y="138" fill="#35d8ee"/><rect x="52" y="138" fill="#33d7ef"/><rect x="56" y="138" fill="#32daf1"/><rect x="60" y="138" fill="#32daf1"/><rect x="64" y="138" fill="#33d6f0"/><rect x="68" y="138" fill="#35d5f1"/><rect x="72" y="138" fill="#36d5f3"/><rect x="76" y="138" fill="#36d2f1"/><rect x="80" y="138" fill="#37caef"/><rect x="84" y="138" fill="#37c5f0"/><rect x="88" y="138" fill="#37c3f1"/><rect x="92" y="138" fill="#37beee"/><rect x="96" y="138" fill="#37b4eb"/><rect x="100" y="138" fill="#37a8ec"/><rect x="104" y="138" fill="#37a3ec"/><rect x="108" y="138" fill="#37a3ea"/><rect x="112" y="138" fill="#369ce9"/><rect x="116" y="138" fill="#3590eb"/><rect x="120" y="138" fill="#3590eb"/><rect x="124" y="138" fill="#369de9"/><rect x="128" y="138" fill="#37a8eb"/><rect x="132" y="138" fill="#37abef"/><rect x="136" y="138" fill="#38aeed"/><rect x="140" y="138" fill="#38b5e9"/><rect x="144" y="138" fill="#38beeb"/><rect x="148" y="138" fill="#38c3ee"/><rect x="152" y="138" fill="#39c3ea"/><rect x="156" y="138" fill="#3ac4e6"/><rect x="160" y="138" fill="#3ac8e9"/><rect x="164" y="138" fill="#3acaea"/><rect x="168" y="138" fill="#3ccbe2"/><rect x="172" y="138" fill="#3ed0db"/><rect x="176" y="138" fill="#3fd6da"/><rect x="180" y="138" fill="#40d8d9"/><rect x="184" y="138" fill="#41d6d6"/><rect x="188" y="138" fill="#41dbd6"/><rect x="192" y="138" fill="#41e1d9"/><rect x="196" y="138" fill="#41dfd8"/><rect x="200" y="138" fill="#42d9d8"/><rect x="204" y="138" fill="#41d8df"/><rect x="208" y="138" fill="#43d6e5"/><rect x="212" y="138" fill="#55c6e2"/><rect x="216" y="138" fill="#69b3e0"/><rect x="220" y="138" fill="#68b4dc"/><rect x="36" y="142" fill="#36d8ed"/><rect x="40" y="142" fill="#37deef"/><rect x="44" y="142" fill="#37dfef"/><rect x="48" y="142" fill="#36dbef"/><rect x="52" y="142" fill="#32d9f0"/><rect x="56" y="142" fill="#30def3"/><rect x="60" y="142" fill="#30def3"/><rect x="64" y="142" fill="#33d6f1"/><rect x="68" y="142" fill="#35d5f3"/><rect x="72" y="142" fill="#36dbf7"/><rect x="76" y="142" fill="#36d7f6"/><rect x="80" y="142" fill="#37c8f1"/><rect x="84" y="142" fill="#37c2f4"/><rect x="88" y="142" fill="#37c3f7"/><rect x="92" y="142" fill="#37bdf3"/><rect x="96" y="142" fill="#37aced"/><rect x="100" y="142" fill="#379bee"/><rect x="104" y="142" fill="#3798ef"/><rect x="108" y="142" fill="#3799ec"/><rect x="112" y="142" fill="#358eeb"/><rect x="116" y="142" fill="#347bef"/><rect x="120" y="142" fill="#347bef"/><rect x="124" y="142" fill="#358feb"/><rect x="128" y="142" fill="#37a1ef"/><rect x="132" y="142" fill="#37a7f7"/><rect x="136" y="142" fill="#37a7f4"/><rect x="140" y="142" fill="#37aeed"/><rect x="144" y="142" fill="#38bff1"/><rect x="148" y="142" fill="#38c7f7"/><rect x="152" y="142" fill="#38c2f1"/><rect x="156" y="142" fill="#39c0eb"/><rect x="160" y="142" fill="#38c9f3"/><rect x="164" y="142" fill="#38cbf7"/><rect x="168" y="142" fill="#3ac8eb"/><rect x="172" y="142" fill="#3ecfe0"/><rect x="176" y="142" fill="#3fdddf"/><rect x="180" y="142" fill="#40dedf"/><rect x="184" y="142" fill="#41d6db"/><rect x="188" y="142" fill="#41dedc"/><rect x="192" y="142" fill="#40ebdf"/><rect x="196" y="142" fill="#40e7de"/><rect x="200" y="142" fill="#41dbde"/><rect x="204" y="142" fill="#3bdceb"/><rect x="208" y="142" fill="#34e3f3"/><rect x="212" y="142" fill="#58c2ea"/><rect x="216" y="142" fill="#7fa0e7"/><rect x="220" y="142" fill="#74a9e3"/><rect x="36" y="146" fill="#35d8ed"/><rect x="40" y="146" fill="#36ddef"/><rect x="44" y="146" fill="#37deef"/><rect x="48" y="146" fill="#35d9ef"/><rect x="52" y="146" fill="#32d8f0"/><rect x="56" y="146" fill="#30dcf2"/><rect x="60" y="146" fill="#30dbf2"/><rect x="64" y="146" fill="#33d2f1"/><rect x="68" y="146" fill="#35d0f3"/><rect x="72" y="146" fill="#36d6f6"/><rect x="76" y="146" fill="#36d1f5"/><rect x="80" y="146" fill="#37c2f2"/><rect x="84" y="146" fill="#37bef3"/><rect x="88" y="146" fill="#37c0f6"/><rect x="92" y="146" fill="#37b7f2"/><rect x="96" y="146" fill="#37a6ee"/><rect x="100" y="146" fill="#379bee"/><rect x="104" y="146" fill="#3798ee"/><rect x="108" y="146" fill="#3694eb"/><rect x="112" y="146" fill="#358aea"/><rect x="116" y="146" fill="#347eed"/><rect x="120" y="146" fill="#347ded"/><rect x="124" y="146" fill="#348aea"/><rect x="128" y="146" fill="#3598ed"/><rect x="132" y="146" fill="#37a3f4"/><rect x="136" y="146" fill="#37a2f1"/><rect x="140" y="146" fill="#36a5ec"/><rect x="144" y="146" fill="#37b6ef"/><rect x="148" y="146" fill="#37c1f4"/><rect x="152" y="146" fill="#38bbef"/><rect x="156" y="146" fill="#39b9eb"/><rect x="160" y="146" fill="#39c3f1"/><rect x="164" y="146" fill="#38c7f3"/><rect x="168" y="146" fill="#3bc4ea"/><rect x="172" y="146" fill="#3ecae2"/><rect x="176" y="146" fill="#40d7e0"/><rect x="180" y="146" fill="#40d8df"/><rect x="184" y="146" fill="#42d0de"/><rect x="188" y="146" fill="#42d8dd"/><rect x="192" y="146" fill="#40e6df"/><rect x="196" y="146" fill="#41e2de"/><rect x="200" y="146" fill="#42d8df"/><rect x="204" y="146" fill="#3dd9e9"/><rect x="208" y="146" fill="#3addf0"/><rect x="212" y="146" fill="#57c2e9"/><rect x="216" y="146" fill="#77a6e6"/><rect x="220" y="146" fill="#71abe3"/><rect x="224" y="146" fill="#64b4db"/><rect x="36" y="150" fill="#32d6ed"/><rect x="40" y="150" fill="#32d8ee"/><rect x="44" y="150" fill="#32d9ee"/><rect x="48" y="150" fill="#32d6ee"/><rect x="52" y="150" fill="#31d4ef"/><rect x="56" y="150" fill="#31d4f0"/><rect x="60" y="150" fill="#31d2f0"/><rect x="64" y="150" fill="#33cbf0"/><rect x="68" y="150" fill="#35c4f1"/><rect x="72" y="150" fill="#37c1f3"/><rect x="76" y="150" fill="#37bdf2"/><rect x="80" y="150" fill="#37b6f1"/><rect x="84" y="150" fill="#38b1f1"/><rect x="88" y="150" fill="#38aef2"/><rect x="92" y="150" fill="#37a8f0"/><rect x="96" y="150" fill="#369ded"/><rect x="100" y="150" fill="#3694ec"/><rect x="104" y="150" fill="#3590ec"/><rect x="108" y="150" fill="#358bea"/><rect x="112" y="150" fill="#3383e9"/><rect x="116" y="150" fill="#327be9"/><rect x="120" y="150" fill="#327ae8"/><rect x="124" y="150" fill="#327fe7"/><rect x="128" y="150" fill="#3283e8"/><rect x="132" y="150" fill="#3386e9"/><rect x="136" y="150" fill="#338ae9"/><rect x="140" y="150" fill="#3493e8"/><rect x="144" y="150" fill="#369dea"/><rect x="148" y="150" fill="#36a3ec"/><rect x="152" y="150" fill="#37a6eb"/><rect x="156" y="150" fill="#39abea"/><rect x="160" y="150" fill="#3ab1eb"/><rect x="164" y="150" fill="#3bb4eb"/><rect x="168" y="150" fill="#3db7e8"/><rect x="172" y="150" fill="#3fbde6"/><rect x="176" y="150" fill="#41c3e5"/><rect x="180" y="150" fill="#44c3e4"/><rect x="184" y="150" fill="#48c1e2"/><rect x="188" y="150" fill="#48c6e0"/><rect x="192" y="150" fill="#45d0de"/><rect x="196" y="150" fill="#44d2dd"/><rect x="200" y="150" fill="#44d0de"/><rect x="204" y="150" fill="#44d0e2"/><rect x="208" y="150" fill="#47cee5"/><rect x="212" y="150" fill="#54c3e4"/><rect x="216" y="150" fill="#62b6e2"/><rect x="220" y="150" fill="#63b4de"/><rect x="224" y="150" fill="#5db7d9"/><rect x="36" y="154" fill="#30d6ee"/><rect x="40" y="154" fill="#2edbef"/><rect x="44" y="154" fill="#2ddcef"/><rect x="48" y="154" fill="#2fd7ef"/><rect x="52" y="154" fill="#30d4ef"/><rect x="56" y="154" fill="#2fd6ef"/><rect x="60" y="154" fill="#30d4ef"/><rect x="64" y="154" fill="#33c7f0"/><rect x="68" y="154" fill="#37b8f2"/><rect x="72" y="154" fill="#3aaef5"/><rect x="76" y="154" fill="#39adf4"/><rect x="80" y="154" fill="#38abf2"/><rect x="84" y="154" fill="#39a3f3"/><rect x="88" y="154" fill="#3a9ff5"/><rect x="92" y="154" fill="#399cf2"/><rect x="96" y="154" fill="#3693ee"/><rect x="100" y="154" fill="#3484ed"/><rect x="104" y="154" fill="#347fed"/><rect x="108" y="154" fill="#337feb"/><rect x="112" y="154" fill="#3175e8"/><rect x="116" y="154" fill="#2e62e7"/><rect x="120" y="154" fill="#2e61e7"/><rect x="124" y="154" fill="#2f6de5"/><rect x="128" y="154" fill="#2e68e3"/><rect x="132" y="154" fill="#2b57e2"/><rect x="136" y="154" fill="#2d62e3"/><rect x="140" y="154" fill="#327ce6"/><rect x="144" y="154" fill="#3485ea"/><rect x="148" y="154" fill="#3483ed"/><rect x="152" y="154" fill="#368eeb"/><rect x="156" y="154" fill="#399cea"/><rect x="160" y="154" fill="#3b9fec"/><rect x="164" y="154" fill="#3c9fed"/><rect x="168" y="154" fill="#3da9ea"/><rect x="172" y="154" fill="#40b4eb"/><rect x="176" y="154" fill="#42b7ef"/><rect x="180" y="154" fill="#47b6ee"/><rect x="184" y="154" fill="#54b0e8"/><rect x="188" y="154" fill="#53b3e5"/><rect x="192" y="154" fill="#4cbde1"/><rect x="196" y="154" fill="#48c4df"/><rect x="200" y="154" fill="#46c7de"/><rect x="204" y="154" fill="#47c8de"/><rect x="208" y="154" fill="#4ac6df"/><rect x="212" y="154" fill="#50c2de"/><rect x="216" y="154" fill="#56bcdd"/><rect x="220" y="154" fill="#58bada"/><rect x="224" y="154" fill="#56bad6"/><rect x="36" y="158" fill="#2ed7ee"/><rect x="40" y="158" fill="#2cdeef"/><rect x="44" y="158" fill="#2cdfef"/><rect x="48" y="158" fill="#2ed9ef"/><rect x="52" y="158" fill="#2fd4ef"/><rect x="56" y="158" fill="#2edaef"/><rect x="60" y="158" fill="#2edaef"/><rect x="64" y="158" fill="#32c7f0"/><rect x="68" y="158" fill="#38b1f4"/><rect x="72" y="158" fill="#3ba8f7"/><rect x="76" y="158" fill="#3ba8f6"/><rect x="80" y="158" fill="#39a5f3"/><rect x="84" y="158" fill="#3a9df5"/><rect x="88" y="158" fill="#3b9cf7"/><rect x="92" y="158" fill="#3a99f4"/><rect x="96" y="158" fill="#368cef"/><rect x="100" y="158" fill="#347bef"/><rect x="104" y="158" fill="#3478ef"/><rect x="108" y="158" fill="#3379ec"/><rect x="112" y="158" fill="#306ae8"/><rect x="116" y="158" fill="#2c52e7"/><rect x="120" y="158" fill="#2c52e7"/><rect x="124" y="158" fill="#2e61e5"/><rect x="128" y="158" fill="#2b57e2"/><rect x="132" y="158" fill="#2840e0"/><rect x="136" y="158" fill="#294be0"/><rect x="140" y="158" fill="#306ee5"/><rect x="144" y="158" fill="#337bec"/><rect x="148" y="158" fill="#3478ef"/><rect x="152" y="158" fill="#3581ed"/><rect x="156" y="158" fill="#3894eb"/><rect x="160" y="158" fill="#3b99ee"/><rect x="164" y="158" fill="#3c98ef"/><rect x="168" y="158" fill="#3da2ec"/><rect x="172" y="158" fill="#40b0ee"/><rect x="176" y="158" fill="#40b7f6"/><rect x="180" y="158" fill="#42b6f5"/><rect x="184" y="158" fill="#5fa8e8"/><rect x="188" y="158" fill="#5baae7"/><rect x="200" y="158" fill="#48bfde"/><rect x="204" y="158" fill="#48c1dd"/><rect x="208" y="158" fill="#4ac1dc"/><rect x="212" y="158" fill="#4dbfdb"/><rect x="36" y="162" fill="#2ed6ee"/><rect x="40" y="162" fill="#2ddaef"/><rect x="44" y="162" fill="#2ddbef"/><rect x="48" y="162" fill="#2ed5ef"/><rect x="52" y="162" fill="#30d1ef"/><rect x="56" y="162" fill="#2fd4ef"/><rect x="60" y="162" fill="#30d1ef"/><rect x="64" y="162" fill="#33c0f0"/><rect x="68" y="162" fill="#37aff3"/><rect x="72" y="162" fill="#3aa9f5"/><rect x="76" y="162" fill="#39a6f4"/><rect x="80" y="162" fill="#38a0f2"/><rect x="84" y="162" fill="#399bf3"/><rect x="88" y="162" fill="#3a99f4"/><rect x="92" y="162" fill="#3894f1"/><rect x="96" y="162" fill="#3588ee"/><rect x="100" y="162" fill="#347ded"/><rect x="104" y="162" fill="#3379ed"/><rect x="108" y="162" fill="#3275ea"/><rect x="112" y="162" fill="#306ae7"/><rect x="116" y="162" fill="#2d5ce7"/><rect x="120" y="162" fill="#2d5ae6"/><rect x="124" y="162" fill="#2d5fe4"/><rect x="128" y="162" fill="#2c5ae1"/><rect x="132" y="162" fill="#2a4fe0"/><rect x="136" y="162" fill="#2b57e1"/><rect x="140" y="162" fill="#2f6be4"/><rect x="144" y="162" fill="#3277e9"/><rect x="148" y="162" fill="#347bec"/><rect x="152" y="162" fill="#3584eb"/><rect x="156" y="162" fill="#3891ea"/><rect x="160" y="162" fill="#3b98ec"/><rect x="164" y="162" fill="#3c9bed"/><rect x="168" y="162" fill="#3da3ec"/><rect x="172" y="162" fill="#40adee"/><rect x="176" y="162" fill="#42b3f1"/><rect x="180" y="162" fill="#47b2f0"/><rect x="184" y="162" fill="#55ace9"/><rect x="188" y="162" fill="#55ade7"/><rect x="32" y="166" fill="#2ed4ed"/><rect x="36" y="166" fill="#2ed7ee"/><rect x="40" y="166" fill="#2ed7ee"/><rect x="44" y="166" fill="#2ed5ee"/><rect x="48" y="166" fill="#30d1ee"/><rect x="52" y="166" fill="#30cfef"/><rect x="56" y="166" fill="#31cbef"/><rect x="60" y="166" fill="#33c2f0"/><rect x="64" y="166" fill="#35b4f1"/><rect x="68" y="166" fill="#37aaf2"/><rect x="72" y="166" fill="#38a5f2"/><rect x="76" y="166" fill="#389ff1"/><rect x="80" y="166" fill="#3797f0"/><rect x="84" y="166" fill="#3792f0"/><rect x="88" y="166" fill="#3790ef"/><rect x="92" y="166" fill="#3689ee"/><rect x="96" y="166" fill="#347fed"/><rect x="100" y="166" fill="#337aec"/><rect x="104" y="166" fill="#3276eb"/><rect x="108" y="166" fill="#306de9"/><rect x="112" y="166" fill="#2f62e7"/><rect x="116" y="166" fill="#2e5fe6"/><rect x="120" y="166" fill="#2d5de4"/><rect x="124" y="166" fill="#2b59e1"/><rect x="128" y="166" fill="#2954df"/><rect x="132" y="166" fill="#2a57e0"/><rect x="136" y="166" fill="#2c5ee1"/><rect x="140" y="166" fill="#2e63e3"/><rect x="144" y="166" fill="#2f69e4"/><rect x="148" y="166" fill="#3276e7"/><rect x="152" y="166" fill="#3584e9"/><rect x="156" y="166" fill="#388feb"/><rect x="160" y="166" fill="#3996eb"/><rect x="164" y="166" fill="#3b9dec"/><rect x="168" y="166" fill="#3ea6ed"/><rect x="172" y="166" fill="#41adef"/><rect x="176" y="166" fill="#44afef"/><rect x="180" y="166" fill="#49afed"/><rect x="184" y="166" fill="#4eadeb"/><rect x="188" y="166" fill="#4fade9"/><rect x="28" y="170" fill="#2fd2ed"/><rect x="32" y="170" fill="#2dd8ee"/><rect x="36" y="170" fill="#2cddef"/><rect x="40" y="170" fill="#2cdcef"/><rect x="44" y="170" fill="#2ed5ef"/><rect x="48" y="170" fill="#30d2ef"/><rect x="52" y="170" fill="#30d4ef"/><rect x="56" y="170" fill="#31cfef"/><rect x="60" y="170" fill="#34bcf0"/><rect x="64" y="170" fill="#38a9f4"/><rect x="68" y="170" fill="#3aa1f6"/><rect x="72" y="170" fill="#399ff4"/><rect x="76" y="170" fill="#3797f0"/><rect x="80" y="170" fill="#378cef"/><rect x="84" y="170" fill="#3789ef"/><rect x="88" y="170" fill="#3688ee"/><rect x="92" y="170" fill="#347fed"/><rect x="96" y="170" fill="#3474ee"/><rect x="100" y="170" fill="#3372ee"/><rect x="104" y="170" fill="#326feb"/><rect x="108" y="170" fill="#2f5fe8"/><rect x="112" y="170" fill="#2c4ee7"/><rect x="116" y="170" fill="#2c52e6"/><rect x="120" y="170" fill="#2b56e2"/><rect x="124" y="170" fill="#2647dd"/><rect x="128" y="170" fill="#2238d9"/><rect x="132" y="170" fill="#2647dc"/><rect x="136" y="170" fill="#2b56e0"/><rect x="140" y="170" fill="#2a4fe1"/><rect x="144" y="170" fill="#2a4ae1"/><rect x="148" y="170" fill="#2f65e4"/><rect x="152" y="170" fill="#3581e9"/><rect x="156" y="170" fill="#378eee"/><rect x="160" y="170" fill="#3891ee"/><rect x="164" y="170" fill="#3b9bed"/><rect x="168" y="170" fill="#3eaaf0"/><rect x="172" y="170" fill="#40b4f5"/><rect x="176" y="170" fill="#42b2f3"/><rect x="180" y="170" fill="#4dacef"/><rect x="184" y="170" fill="#55a9ef"/><rect x="188" y="170" fill="#52aaed"/><rect x="28" y="174" fill="#2fd2ed"/><rect x="32" y="174" fill="#2dd9ee"/><rect x="36" y="174" fill="#2cdfef"/><rect x="40" y="174" fill="#2cdeef"/><rect x="44" y="174" fill="#2ed5ef"/><rect x="48" y="174" fill="#30d2ef"/><rect x="52" y="174" fill="#30d7ef"/><rect x="56" y="174" fill="#30d2ef"/><rect x="60" y="174" fill="#34baf0"/><rect x="64" y="174" fill="#39a4f5"/><rect x="68" y="174" fill="#3ba0f7"/><rect x="72" y="174" fill="#399df5"/><rect x="76" y="174" fill="#3792f0"/><rect x="80" y="174" fill="#3789ef"/><rect x="84" y="174" fill="#3787ef"/><rect x="88" y="174" fill="#3684ee"/><rect x="92" y="174" fill="#3479ed"/><rect x="96" y="174" fill="#3370ef"/><rect x="100" y="174" fill="#3370ef"/><rect x="104" y="174" fill="#316beb"/><rect x="108" y="174" fill="#2e59e8"/><rect x="112" y="174" fill="#2c48e7"/><rect x="116" y="174" fill="#2c4ce7"/><rect x="120" y="174" fill="#2a52e2"/><rect x="124" y="174" fill="#243fdb"/><rect x="128" y="174" fill="#2030d8"/><rect x="132" y="174" fill="#243fdb"/><rect x="136" y="174" fill="#2a52e0"/><rect x="140" y="174" fill="#2948e0"/><rect x="144" y="174" fill="#2841e0"/><rect x="148" y="174" fill="#2e5de3"/><rect x="152" y="174" fill="#3581ea"/><rect x="156" y="174" fill="#378fef"/><rect x="160" y="174" fill="#3890ef"/><rect x="164" y="174" fill="#3a9aee"/><rect x="168" y="174" fill="#3eacf2"/><rect x="172" y="174" fill="#40b7f7"/><rect x="176" y="174" fill="#41b4f5"/><rect x="180" y="174" fill="#4fabef"/><rect x="184" y="174" fill="#57a8ef"/><rect x="188" y="174" fill="#53a9ee"/><rect x="28" y="178" fill="#2fd1ed"/><rect x="32" y="178" fill="#2ed6ee"/><rect x="36" y="178" fill="#2dd9ef"/><rect x="40" y="178" fill="#2dd8ef"/><rect x="44" y="178" fill="#2fd2ee"/><rect x="48" y="178" fill="#30ceef"/><rect x="52" y="178" fill="#31ceef"/><rect x="56" y="178" fill="#31c8ef"/><rect x="60" y="178" fill="#34b6f0"/><rect x="64" y="178" fill="#37a4f2"/><rect x="68" y="178" fill="#389cf4"/><rect x="72" y="178" fill="#3794f2"/><rect x="76" y="178" fill="#358bef"/><rect x="80" y="178" fill="#3586ee"/><rect x="84" y="178" fill="#3583ee"/><rect x="88" y="178" fill="#347ced"/><rect x="92" y="178" fill="#3375ec"/><rect x="96" y="178" fill="#3271ed"/><rect x="100" y="178" fill="#326dec"/><rect x="104" y="178" fill="#3067e9"/><rect x="108" y="178" fill="#2e5de7"/><rect x="112" y="178" fill="#2d53e6"/><rect x="116" y="178" fill="#2c53e5"/><rect x="120" y="178" fill="#2b53e2"/><rect x="124" y="178" fill="#284ade"/><rect x="128" y="178" fill="#2543dc"/><rect x="132" y="178" fill="#284bde"/><rect x="136" y="178" fill="#2b55e1"/><rect x="140" y="178" fill="#2c55e2"/><rect x="144" y="178" fill="#2c57e3"/><rect x="148" y="178" fill="#316ae6"/><rect x="152" y="178" fill="#357fea"/><rect x="156" y="178" fill="#378ced"/><rect x="160" y="178" fill="#3892ee"/><rect x="164" y="178" fill="#3b9bee"/><rect x="168" y="178" fill="#3da7f0"/><rect x="172" y="178" fill="#40aff3"/><rect x="176" y="178" fill="#42b0f2"/><rect x="180" y="178" fill="#49adef"/><rect x="184" y="178" fill="#4faaee"/><rect x="188" y="178" fill="#4eaaed"/><rect x="28" y="182" fill="#2fd1ed"/><rect x="32" y="182" fill="#2ed5ee"/><rect x="36" y="182" fill="#2ed8ef"/><rect x="40" y="182" fill="#2ed6ef"/><rect x="44" y="182" fill="#30d0ee"/><rect x="48" y="182" fill="#32ccef"/><rect x="52" y="182" fill="#32c8ef"/><rect x="56" y="182" fill="#33c0ee"/><rect x="60" y="182" fill="#34b0ef"/><rect x="64" y="182" fill="#349eef"/><rect x="68" y="182" fill="#348cf0"/><rect x="72" y="182" fill="#337cef"/><rect x="76" y="182" fill="#337aee"/><rect x="80" y="182" fill="#337aee"/><rect x="84" y="182" fill="#3273ed"/><rect x="88" y="182" fill="#316bed"/><rect x="92" y="182" fill="#316bec"/><rect x="96" y="182" fill="#3069ea"/><rect x="100" y="182" fill="#2f62e9"/><rect x="104" y="182" fill="#2e5de7"/><rect x="108" y="182" fill="#2d5be6"/><rect x="112" y="182" fill="#2c56e4"/><rect x="116" y="182" fill="#2b50e2"/><rect x="120" y="182" fill="#2a4fe1"/><rect x="124" y="182" fill="#2a4fe0"/><rect x="128" y="182" fill="#2a4de0"/><rect x="132" y="182" fill="#2a4be0"/><rect x="136" y="182" fill="#2b52e1"/><rect x="140" y="182" fill="#2e5ee4"/><rect x="144" y="182" fill="#326ae7"/><rect x="148" y="182" fill="#3474ea"/><rect x="152" y="182" fill="#367eeb"/><rect x="156" y="182" fill="#388ced"/><rect x="160" y="182" fill="#3a98f0"/><rect x="164" y="182" fill="#3b9ff1"/><rect x="168" y="182" fill="#3da4f1"/><rect x="172" y="182" fill="#3facf1"/><rect x="176" y="182" fill="#40b2f2"/><rect x="180" y="182" fill="#43b3f2"/><rect x="184" y="182" fill="#46afef"/><rect x="188" y="182" fill="#47adec"/><rect x="32" y="186" fill="#2ed8ee"/><rect x="36" y="186" fill="#2cdeef"/><rect x="40" y="186" fill="#2cddef"/><rect x="44" y="186" fill="#30d2ef"/><rect x="48" y="186" fill="#33ceef"/><rect x="52" y="186" fill="#33cdef"/><rect x="56" y="186" fill="#33c1ee"/><rect x="60" y="186" fill="#34adee"/><rect x="64" y="186" fill="#3395ee"/><rect x="68" y="186" fill="#3177ef"/><rect x="72" y="186" fill="#3063ef"/><rect x="76" y="186" fill="#3067ef"/><rect x="80" y="186" fill="#316fed"/><rect x="84" y="186" fill="#3063ee"/><rect x="88" y="186" fill="#3059ef"/><rect x="92" y="186" fill="#305fed"/><rect x="96" y="186" fill="#2f61e9"/><rect x="100" y="186" fill="#2c55e8"/><rect x="104" y="186" fill="#2c51e7"/><rect x="108" y="186" fill="#2c56e6"/><rect x="112" y="186" fill="#2b51e3"/><rect x="116" y="186" fill="#2844e0"/><rect x="120" y="186" fill="#2843e0"/><rect x="124" y="186" fill="#2a4ce1"/><rect x="128" y="186" fill="#2a47e0"/><rect x="132" y="186" fill="#283be0"/><rect x="136" y="186" fill="#2942e1"/><rect x="140" y="186" fill="#2f5de5"/><rect x="144" y="186" fill="#3572ec"/><rect x="148" y="186" fill="#3777ef"/><rect x="152" y="186" fill="#377cee"/><rect x="156" y="186" fill="#388def"/><rect x="160" y="186" fill="#3ba1f5"/><rect x="164" y="186" fill="#3ba6f7"/><rect x="168" y="186" fill="#3ca5f3"/><rect x="172" y="186" fill="#3eaff3"/><rect x="176" y="186" fill="#3fbcf6"/><rect x="180" y="186" fill="#40bdf6"/><rect x="184" y="186" fill="#41b5f2"/><rect x="188" y="186" fill="#43afed"/><rect x="32" y="190" fill="#2ed8ee"/><rect x="36" y="190" fill="#2cddef"/><rect x="40" y="190" fill="#2cddef"/><rect x="44" y="190" fill="#31d1ef"/><rect x="48" y="190" fill="#33ceef"/><rect x="52" y="190" fill="#34cdef"/><rect x="56" y="190" fill="#34beee"/><rect x="60" y="190" fill="#34aaed"/><rect x="64" y="190" fill="#3391ed"/><rect x="68" y="190" fill="#3174ee"/><rect x="72" y="190" fill="#3062ef"/><rect x="76" y="190" fill="#3066ef"/><rect x="80" y="190" fill="#316bed"/><rect x="84" y="190" fill="#3060ee"/><rect x="88" y="190" fill="#3059ef"/><rect x="92" y="190" fill="#2f5ded"/><rect x="96" y="190" fill="#2e5de9"/><rect x="100" y="190" fill="#2c54e7"/><rect x="104" y="190" fill="#2c51e7"/><rect x="108" y="190" fill="#2c54e6"/><rect x="112" y="190" fill="#2b4fe2"/><rect x="116" y="190" fill="#2843e0"/><rect x="120" y="190" fill="#2843e0"/><rect x="124" y="190" fill="#2a4be1"/><rect x="128" y="190" fill="#2a47e1"/><rect x="132" y="190" fill="#283be0"/><rect x="136" y="190" fill="#2942e1"/><rect x="140" y="190" fill="#2f5de6"/><rect x="144" y="190" fill="#3572ec"/><rect x="148" y="190" fill="#3777ef"/><rect x="152" y="190" fill="#377bee"/><rect x="156" y="190" fill="#388def"/><rect x="160" y="190" fill="#3ba1f5"/><rect x="164" y="190" fill="#3ba6f7"/><rect x="168" y="190" fill="#3ca5f4"/><rect x="172" y="190" fill="#3eaff3"/><rect x="176" y="190" fill="#3fbcf6"/><rect x="180" y="190" fill="#3fbdf6"/><rect x="184" y="190" fill="#40b5f2"/><rect x="188" y="190" fill="#41afee"/><rect x="28" y="194" fill="#2fd6ee"/><rect x="32" y="194" fill="#2fd7ee"/><rect x="36" y="194" fill="#2ed7ef"/><rect x="40" y="194" fill="#2fd4ef"/><rect x="44" y="194" fill="#32cdee"/><rect x="48" y="194" fill="#34c5ee"/><rect x="52" y="194" fill="#36beee"/><rect x="56" y="194" fill="#37b3ed"/><rect x="60" y="194" fill="#36a6ed"/><rect x="64" y="194" fill="#3494ec"/><rect x="68" y="194" fill="#327fed"/><rect x="72" y="194" fill="#3171ed"/><rect x="76" y="194" fill="#316eed"/><rect x="80" y="194" fill="#316ceb"/><rect x="84" y="194" fill="#3064eb"/><rect x="88" y="194" fill="#305feb"/><rect x="92" y="194" fill="#2f5eea"/><rect x="96" y="194" fill="#2e5ce8"/><rect x="100" y="194" fill="#2d57e7"/><rect x="104" y="194" fill="#2c55e6"/><rect x="108" y="194" fill="#2c54e5"/><rect x="112" y="194" fill="#2b51e3"/><rect x="116" y="194" fill="#2a4ce1"/><rect x="120" y="194" fill="#2a4be1"/><rect x="124" y="194" fill="#2b4ee1"/><rect x="128" y="194" fill="#2b4ee2"/><rect x="132" y="194" fill="#2b4be2"/><rect x="136" y="194" fill="#2c51e4"/><rect x="140" y="194" fill="#2f5fe6"/><rect x="144" y="194" fill="#336cea"/><rect x="148" y="194" fill="#3573ec"/><rect x="152" y="194" fill="#367bed"/><rect x="156" y="194" fill="#3889ef"/><rect x="160" y="194" fill="#3a98f2"/><rect x="164" y="194" fill="#3ba0f3"/><rect x="168" y="194" fill="#3ca4f3"/><rect x="172" y="194" fill="#3dabf3"/><rect x="176" y="194" fill="#3eb2f3"/><rect x="180" y="194" fill="#3fb4f3"/><rect x="184" y="194" fill="#3fb0f0"/><rect x="24" y="198" fill="#2fd9ee"/><rect x="28" y="198" fill="#2eddef"/><rect x="32" y="198" fill="#2fdcef"/><rect x="36" y="198" fill="#30d6ee"/><rect x="40" y="198" fill="#31d3ef"/><rect x="44" y="198" fill="#32cfee"/><rect x="48" y="198" fill="#38bced"/><rect x="52" y="198" fill="#3fa5ec"/><rect x="56" y="198" fill="#3ea1ec"/><rect x="60" y="198" fill="#3aa1ec"/><rect x="64" y="198" fill="#3697ec"/><rect x="68" y="198" fill="#3389eb"/><rect x="72" y="198" fill="#327deb"/><rect x="76" y="198" fill="#3174eb"/><rect x="80" y="198" fill="#306ae9"/><rect x="84" y="198" fill="#305ee9"/><rect x="88" y="198" fill="#2f58e8"/><rect x="92" y="198" fill="#2f59e8"/><rect x="96" y="198" fill="#2d58e7"/><rect x="100" y="198" fill="#2c52e6"/><rect x="104" y="198" fill="#2c4fe6"/><rect x="108" y="198" fill="#2b50e4"/><rect x="112" y="198" fill="#2a4ee2"/><rect x="116" y="198" fill="#2949e1"/><rect x="120" y="198" fill="#2949e1"/><rect x="124" y="198" fill="#2a4de2"/><rect x="128" y="198" fill="#2b4fe4"/><rect x="132" y="198" fill="#2c4ee5"/><rect x="136" y="198" fill="#2d52e6"/><rect x="140" y="198" fill="#2f5de7"/><rect x="144" y="198" fill="#3165eb"/><rect x="148" y="198" fill="#3168ed"/><rect x="152" y="198" fill="#3372ed"/><rect x="156" y="198" fill="#3886ef"/><rect x="160" y="198" fill="#3c99f3"/><rect x="164" y="198" fill="#3da1f4"/><rect x="168" y="198" fill="#3da6f4"/><rect x="172" y="198" fill="#3eaff5"/><rect x="176" y="198" fill="#3eb0f4"/><rect x="180" y="198" fill="#3eaef2"/><rect x="24" y="202" fill="#2eddef"/><rect x="28" y="202" fill="#2ee3ef"/><rect x="32" y="202" fill="#2ee2ef"/><rect x="36" y="202" fill="#2fd9ef"/><rect x="40" y="202" fill="#30d9ef"/><rect x="44" y="202" fill="#30dbef"/><rect x="48" y="202" fill="#3ab8ed"/><rect x="52" y="202" fill="#4791ec"/><rect x="56" y="202" fill="#4595ec"/><rect x="60" y="202" fill="#3d9dec"/><rect x="76" y="202" fill="#3174e9"/><rect x="80" y="202" fill="#3065e8"/><rect x="84" y="202" fill="#2f56e8"/><rect x="88" y="202" fill="#2f50e7"/><rect x="92" y="202" fill="#2f53e7"/><rect x="96" y="202" fill="#2d53e6"/><rect x="100" y="202" fill="#2c4ae7"/><rect x="104" y="202" fill="#2b48e7"/><rect x="108" y="202" fill="#2b4ce5"/><rect x="112" y="202" fill="#2949e1"/><rect x="116" y="202" fill="#2841e0"/><rect x="120" y="202" fill="#2841e0"/><rect x="124" y="202" fill="#2949e1"/><rect x="128" y="202" fill="#2b4ce5"/><rect x="132" y="202" fill="#2c48e7"/><rect x="136" y="202" fill="#2c4be7"/><rect x="140" y="202" fill="#2e59e8"/><rect x="144" y="202" fill="#3061ed"/><rect x="148" y="202" fill="#3060ef"/><rect x="152" y="202" fill="#3168ee"/><rect x="156" y="202" fill="#3885f0"/><rect x="160" y="202" fill="#3ea2f6"/><rect x="164" y="202" fill="#3fa7f7"/><rect x="168" y="202" fill="#3eaaf5"/><rect x="172" y="202" fill="#3fb7f7"/><rect x="176" y="202" fill="#3fb5f6"/><rect x="180" y="202" fill="#3eadf3"/><rect x="24" y="206" fill="#2fdcee"/><rect x="28" y="206" fill="#2ee1ef"/><rect x="32" y="206" fill="#2ee0ef"/><rect x="36" y="206" fill="#2fd9ef"/><rect x="40" y="206" fill="#30d7ef"/><rect x="44" y="206" fill="#31d6ef"/><rect x="48" y="206" fill="#39baed"/><rect x="52" y="206" fill="#4498ec"/><rect x="56" y="206" fill="#4399ec"/><rect x="60" y="206" fill="#3d9feb"/><rect x="76" y="206" fill="#3175e8"/><rect x="80" y="206" fill="#3066e7"/><rect x="84" y="206" fill="#2f57e7"/><rect x="88" y="206" fill="#2f51e7"/><rect x="92" y="206" fill="#2e53e6"/><rect x="96" y="206" fill="#2b4fe4"/><rect x="100" y="206" fill="#2b4ae5"/><rect x="104" y="206" fill="#2b49e6"/><rect x="108" y="206" fill="#2a4ae3"/><rect x="112" y="206" fill="#2847e0"/><rect x="116" y="206" fill="#2843e0"/><rect x="120" y="206" fill="#2843e0"/><rect x="124" y="206" fill="#2948e0"/><rect x="128" y="206" fill="#2a4ae3"/><rect x="132" y="206" fill="#2b49e6"/><rect x="136" y="206" fill="#2c4de6"/><rect x="140" y="206" fill="#2e57e7"/><rect x="144" y="206" fill="#305feb"/><rect x="148" y="206" fill="#3061ee"/><rect x="152" y="206" fill="#3269ee"/><rect x="156" y="206" fill="#3780ef"/><rect x="160" y="206" fill="#3d9cf4"/><rect x="164" y="206" fill="#3fa4f6"/><rect x="168" y="206" fill="#3ea8f5"/><rect x="172" y="206" fill="#3fb3f6"/><rect x="176" y="206" fill="#3fb2f6"/><rect x="24" y="210" fill="#2fd9ee"/><rect x="28" y="210" fill="#2fdcef"/><rect x="32" y="210" fill="#2fddef"/><rect x="36" y="210" fill="#2fdaef"/><rect x="40" y="210" fill="#31d5ee"/><rect x="44" y="210" fill="#32d1ee"/><rect x="48" y="210" fill="#34c7ee"/><rect x="52" y="210" fill="#3ab4ed"/><rect x="56" y="210" fill="#3ba9ec"/><rect x="60" y="210" fill="#39a5eb"/><rect x="80" y="210" fill="#2f69e6"/><rect x="84" y="210" fill="#2e5de6"/><rect x="88" y="210" fill="#2d56e5"/><rect x="92" y="210" fill="#2a4ee2"/><rect x="96" y="210" fill="#2745df"/><rect x="100" y="210" fill="#2744df"/><rect x="104" y="210" fill="#2847e1"/><rect x="108" y="210" fill="#2745df"/><rect x="112" y="210" fill="#2540dd"/><rect x="116" y="210" fill="#2641dd"/><rect x="120" y="210" fill="#2744de"/><rect x="124" y="210" fill="#2643de"/><rect x="128" y="210" fill="#2642de"/><rect x="132" y="210" fill="#2847e1"/><rect x="136" y="210" fill="#2b4de3"/><rect x="140" y="210" fill="#2d52e5"/><rect x="144" y="210" fill="#2e56e7"/><rect x="148" y="210" fill="#3160ea"/><rect x="152" y="210" fill="#3469ed"/><rect x="156" y="210" fill="#3674ee"/><rect x="160" y="210" fill="#3988f0"/><rect x="164" y="210" fill="#3b96f2"/><rect x="168" y="210" fill="#3c9ef2"/><rect x="172" y="210" fill="#3da6f3"/><rect x="24" y="214" fill="#2fd8ee"/><rect x="28" y="214" fill="#2edeef"/><rect x="32" y="214" fill="#2ee3ef"/><rect x="36" y="214" fill="#2ee0ef"/><rect x="40" y="214" fill="#30d8ef"/><rect x="44" y="214" fill="#30d9ef"/><rect x="48" y="214" fill="#30d8ef"/><rect x="52" y="214" fill="#33c9ee"/><rect x="80" y="214" fill="#2f6de5"/><rect x="84" y="214" fill="#2d61e4"/><rect x="88" y="214" fill="#2a55e1"/><rect x="92" y="214" fill="#2644dd"/><rect x="96" y="214" fill="#2134d9"/><rect x="100" y="214" fill="#2133d9"/><rect x="104" y="214" fill="#243fdc"/><rect x="108" y="214" fill="#233cdb"/><rect x="112" y="214" fill="#2032d8"/><rect x="116" y="214" fill="#2136d9"/><rect x="120" y="214" fill="#243fdc"/><rect x="124" y="214" fill="#2339da"/><rect x="128" y="214" fill="#2031d8"/><rect x="132" y="214" fill="#243bdb"/><rect x="136" y="214" fill="#2948e1"/><rect x="140" y="214" fill="#2c48e4"/><rect x="144" y="214" fill="#2c46e4"/><rect x="148" y="214" fill="#315ae9"/><rect x="152" y="214" fill="#3767ef"/><rect x="156" y="214" fill="#376aee"/><rect x="160" y="214" fill="#3778ee"/><rect x="164" y="214" fill="#3987ee"/><rect x="168" y="214" fill="#3a92ef"/><rect x="24" y="218" fill="#2fd8ee"/><rect x="28" y="218" fill="#2edeef"/><rect x="32" y="218" fill="#2ee3ef"/><rect x="36" y="218" fill="#2ee0ef"/><rect x="40" y="218" fill="#30d8ef"/><rect x="44" y="218" fill="#30daef"/><rect x="84" y="218" fill="#2c63e2"/><rect x="88" y="218" fill="#2954e0"/><rect x="92" y="218" fill="#2442dc"/><rect x="96" y="218" fill="#2033d8"/><rect x="100" y="218" fill="#2033d8"/><rect x="104" y="218" fill="#233ddb"/><rect x="108" y="218" fill="#233ada"/><rect x="112" y="218" fill="#2031d8"/><rect x="116" y="218" fill="#2135d9"/><rect x="120" y="218" fill="#243edb"/><rect x="124" y="218" fill="#2238da"/><rect x="128" y="218" fill="#2031d8"/><rect x="132" y="218" fill="#2339da"/><rect x="136" y="218" fill="#2845df"/><rect x="140" y="218" fill="#2b47e3"/><rect x="144" y="218" fill="#2c46e4"/><rect x="148" y="218" fill="#3158e9"/><rect x="152" y="218" fill="#3767ef"/><rect x="156" y="218" fill="#3769ee"/><rect x="160" y="218" fill="#3672ed"/><rect x="164" y="218" fill="#377eec"/><rect x="124" y="222" fill="#243fdb"/><rect x="128" y="222" fill="#233bda"/><rect x="132" y="222" fill="#233bdb"/><rect x="136" y="222" fill="#243cdb"/><rect x="140" y="222" fill="#2845e0"/><rect x="144" y="222" fill="#2c4de3"/><rect x="148" y="222" fill="#3059e7"/><rect x="152" y="222" fill="#3464eb"/><rect x="156" y="222" fill="#356aec"/><rect x="128" y="226" fill="#243edb"/><rect x="132" y="226" fill="#2133d8"/><rect x="136" y="226" fill="#2030d8"/><rect x="140" y="226" fill="#243cdb"/><rect x="144" y="226" fill="#2a4de1"/><rect x="148" y="226" fill="#2e59e5"/><rect x="152" y="226" fill="#3263e7"/><rect x="128" y="230" fill="#2440db"/><rect x="132" y="230" fill="#2136d9"/><rect x="136" y="230" fill="#2133d8"/><rect x="140" y="230" fill="#243ddb"/><rect x="144" y="230" fill="#294ddf"/>
</g>
<g clip-path="url(#clipE)"><path d="M153.0,35.4 L155.5,34.0 L157.5,33.6 L161.0,36.0 L165.5,35.2 L169.0,36.2 L171.8,38.0 L170.0,40.7 L171.8,43.4 L176.2,43.4 L177.1,40.7 L178.9,41.6 L179.8,45.2 L183.4,46.0 L184.3,49.6 L185.2,56.8 L184.3,61.2 L180.7,63.0 L177.1,64.8 L176.2,68.4 L175.4,72.9 L177.1,75.5 L182.9,78.6 L193.6,77.5 L195.0,78.4 L198.6,78.4 L202.1,76.6 L205.7,74.8 L209.3,74.8 L212.9,75.7 L217.3,75.7 L220.0,73.9 L221.8,74.8 L222.7,78.4 L221.8,82.0 L224.5,83.8 L228.0,84.6 L231.6,85.5 L235.2,87.3 L238.8,88.2 L240.5,90.0 L239.6,93.6 L238.8,98.9 L238.8,104.3 L237.0,107.9 L236.1,110.5 L235.0,113.6 L231.6,117.1 L228.9,119.8 L228.0,123.4 L225.4,127.0 L221.8,127.9 L218.2,128.8 L214.6,130.5 L212.9,132.3 L212.0,135.0 L212.9,137.7 L216.4,138.6 L217.3,142.1 L218.2,145.7 L220.0,148.4 L222.7,151.1 L220.0,152.9 L216.4,152.9 L212.9,153.8 L209.3,155.5 L205.7,154.6 L200.4,153.8 L195.0,152.9 L191.2,152.5 L188.6,154.3 L186.8,156.1 L185.9,158.8 L185.9,162.3 L186.8,165.9 L185.9,169.5 L185.0,173.9 L185.9,177.5 L186.5,182.0 L186.0,186.0 L184.5,189.0 L182.5,191.6 L178.9,193.4 L177.1,197.9 L176.2,202.3 L173.6,205.9 L169.1,209.5 L164.6,212.1 L160.2,215.7 L156.6,218.4 L153.9,221.1 L150.4,223.5 L148.6,223.6 L145.7,225.0 L143.6,225.7 L142.1,228.6 L140.0,230.0 L137.1,230.7 L134.3,230.0 L132.9,227.1 L132.9,223.6 L130.7,221.4 L127.9,219.3 L125.7,217.1 L122.9,217.1 L118.6,217.9 L113.6,217.9 L110.0,217.1 L106.4,217.9 L102.9,216.4 L100.2,214.8 L96.6,213.0 L93.0,214.8 L89.5,214.8 L86.8,211.2 L85.0,208.6 L82.9,205.0 L81.4,202.1 L80.0,198.6 L78.6,195.7 L76.4,196.4 L74.3,195.0 L71.4,195.0 L69.3,194.3 L68.6,191.4 L66.4,189.3 L64.3,188.6 L61.4,189.3 L59.3,190.7 L57.9,193.6 L56.4,197.9 L57.1,202.1 L56.4,207.9 L52.5,210.7 L48.0,213.4 L43.6,215.2 L39.1,216.4 L35.5,217.5 L32.9,217.0 L30.2,215.2 L28.4,212.5 L26.6,209.8 L27.5,207.1 L30.2,203.6 L32.9,200.0 L36.4,198.2 L40.0,194.6 L41.8,192.0 L42.7,188.4 L41.8,185.7 L38.2,183.0 L34.6,180.4 L33.4,177.3 L37.9,172.9 L40.5,167.5 L43.2,162.1 L44.1,156.8 L43.2,151.4 L42.3,147.0 L46.8,144.3 L51.2,141.6 L55.7,141.6 L64.5,141.6 L67.0,140.0 L67.2,137.9 L67.5,134.3 L66.8,130.7 L67.1,129.3 L69.3,127.9 L71.4,126.4 L74.3,125.7 L77.1,124.3 L81.4,123.6 L85.0,122.1 L87.1,120.0 L89.3,116.4 L90.0,113.6 L89.3,110.0 L87.9,107.9 L86.4,105.0 L87.1,102.9 L90.7,101.4 L93.6,100.7 L96.4,100.0 L99.3,98.6 L102.1,97.9 L104.3,95.7 L105.0,92.9 L106.4,90.0 L109.3,87.9 L113.6,87.9 L117.9,86.4 L120.7,84.0 L122.1,81.4 L122.9,77.9 L124.3,75.0 L127.1,72.1 L130.0,70.7 L131.4,68.6 L132.1,65.7 L132.9,62.9 L132.1,60.0 L132.9,56.4 L135.0,54.3 L138.6,54.3 L144.3,55.7 L149.5,56.8 L151.2,55.0 L152.1,47.9 L152.1,40.7 Z" fill="none" stroke="#7a84e4" stroke-width="4" opacity="0.55" filter="url(#bl05)"/></g>
<g filter="url(#bl05)">
<path d="M104,104 L106.5,100.5 L109.5,101.5 L112,99.5 L114.5,101.5 L113.5,104.5 L115,107 L111,107.5 L108.5,109 L105.5,107 Z" fill="#1c5a34" opacity="0.7" stroke="#0a2a18" stroke-width="0.4"/>
<circle cx="106.5" cy="104.5" r="1.2" fill="#0a2a18"/><circle cx="110.5" cy="103.5" r="0.9" fill="#0a2a18"/>
<circle cx="158.2" cy="114.3" r="1.3" fill="#102a20"/>
<ellipse cx="130" cy="80" rx="4" ry="3" fill="#a08858" opacity="0.55"/>
<ellipse cx="126" cy="88" rx="3" ry="2" fill="#a08858" opacity="0.45"/>
<ellipse cx="136" cy="60" rx="3" ry="4" fill="#98905a" opacity="0.5"/>
<ellipse cx="146" cy="57.5" rx="3" ry="1.6" fill="#98905a" opacity="0.45"/>
<ellipse cx="160" cy="36" rx="5" ry="2.2" fill="#889048" opacity="0.5"/>
<ellipse cx="176" cy="44" rx="4" ry="2" fill="#889048" opacity="0.45"/>
<ellipse cx="183" cy="57" rx="2" ry="5" fill="#889048" opacity="0.4"/>
</g>

</g>
<path d="M153.0,39.8 L159.3,40.7 L164.6,42.5 L169.1,40.7 L171.8,38.0 M152.5,43.0 L155.7,43.4 L161.0,45.2 L165.5,47.0 L168.2,46.0 L171.8,44.3 M168.2,46.0 L168.2,47.9 L173.6,49.6 L178.9,49.6 L183.6,48.8 M168.2,47.9 L168.2,50.5 L169.1,54.1 L174.5,55.0 L180.7,55.9 L184.8,56.8 M151.2,55.0 L153.0,56.8 L154.8,65.7 L155.7,70.2 M155.7,70.2 L162.9,72.0 L170.0,73.8 L175.4,72.9 M132.5,65.0 L142.0,65.0 L149.5,66.2 L153.2,67.5 M124.5,73.8 L134.5,71.2 L144.5,70.0 L149.5,67.5 M122.0,87.5 L132.0,83.8 L142.0,81.2 L149.5,78.8 M121.0,95.0 L132.0,92.5 L144.5,91.2 L149.5,88.8 M149.5,67.5 L148.2,78.8 L147.0,90.0 L149.5,100.0 M153.2,67.5 L150.8,73.8 L154.5,76.2 L159.5,73.8 L163.2,70.0 L173.2,72.5 M154.5,76.2 L155.8,85.0 L157.0,93.8 L159.5,100.0 M159.5,73.8 L164.5,80.0 L165.8,87.5 L168.2,95.0 M173.2,72.5 L174.5,80.0 L173.2,90.0 L172.0,100.0 L167.5,101.0 L159.5,100.0 L156.3,105.0 M147.0,90.0 L152.0,89.0 L157.0,93.8 M148.2,78.8 L152.0,80.0 L155.8,85.0 M176.4,76.4 L181.0,80.0 L186.0,78.6 M124.3,97.5 L138.6,95.7 L149.0,96.5 L155.6,93.9 M124.3,97.5 L124.3,110.0 L127.9,120.7 M176.4,76.4 L181.0,80.0 L186.0,78.6 M195.7,78.4 L196.8,86.4 L195.9,91.8 L196.8,100.7 L199.5,109.6 L200.4,113.2 M221.8,82.0 L220.0,84.6 L217.3,85.5 L216.4,89.1 L217.3,93.6 L215.5,97.1 L212.9,98.9 L210.2,100.7 L208.4,103.4 L205.7,105.2 L203.0,109.6 L200.4,113.2 M198.4,117.1 L202.0,120.0 L205.6,122.9 L211.3,127.1 L217.0,128.5 M89.5,112.5 L97.1,111.4 L102.9,109.3 L105.5,108.0 M107.1,109.3 L115.7,107.9 L122.9,106.4 L130.0,105.0 L140.0,103.0 L144.0,102.5 M105.7,111.0 L115.7,110.7 L122.9,110.0 L130.0,108.6 L140.0,106.4 L144.0,105.5 M114.3,103.6 L122.9,102.1 L128.6,100.7 L140.0,99.3 L144.0,98.9 M105.7,111.0 L106.0,115.0 L108.6,118.6 L107.6,124.5 L109.6,129.4 L106.7,133.4 L102.7,136.3 L99.8,140.3 L100.7,146.2 L103.0,148.7 M119.0,112.5 L120.4,114.7 L122.4,120.6 L127.3,123.5 L130.8,126.6 M129.8,134.5 L125.4,136.3 L123.4,140.3 L117.6,140.0 M130.8,126.6 L129.8,134.5 L131.8,139.4 L135.7,143.3 L138.7,147.2 L145.5,149.2 L152.4,147.2 L159.3,148.2 L165.2,145.3 L168.1,139.4 L170.1,134.5 L169.1,128.6 L165.2,122.7 L161.3,118.8 L159.3,113.8 L158.3,108.9 L156.3,105.0 M122.0,110.0 L131.8,113.8 L143.6,112.9 L151.4,110.9 L156.3,108.0 M143.6,112.9 L143.6,118.8 L137.7,123.7 L132.8,126.6 L130.8,126.6 M169.1,128.6 L177.0,124.3 L186.0,121.5 L191.3,120.0 L198.4,117.1 L200.4,113.2 M159.3,148.2 L162.2,154.1 L159.3,160.0 M165.2,145.3 L172.1,152.2 L173.0,160.0 M64.5,142.0 L60.8,146.8 L59.8,149.7 L63.7,153.6 L66.7,158.5 L67.6,163.4 L69.6,167.4 L69.6,174.2 L68.6,180.1 L67.6,186.0 L64.3,188.6 M66.7,158.5 L71.6,155.6 L79.4,154.6 L86.3,153.6 L91.2,156.6 L97.1,155.5 L100.9,155.5 L106.8,154.0 L112.7,152.5 L117.6,149.5 M101.0,140.0 L102.9,139.5 L106.8,143.0 L112.7,142.0 L117.6,140.0 L119.6,135.0 M117.6,139.9 L116.6,146.8 L117.6,152.7 L116.6,158.6 L117.6,160.5 M68.6,182.0 L78.0,180.5 L86.0,177.3 L92.0,174.0 L95.0,173.0 L102.9,171.3 L108.8,168.4 L114.6,164.5 L117.6,160.5 L124.0,157.0 L130.0,155.5 L135.7,154.0 L142.0,151.0 L148.0,150.7 L152.4,147.2 M114.6,164.5 L116.6,168.4 L120.5,174.0 L120.5,178.2 L126.4,178.2 L134.3,176.3 L140.2,179.2 L145.1,177.2 L150.0,175.3 L156.0,171.0 L160.0,166.0 L160.0,157.9 M104.8,175.0 L109.1,181.4 L113.4,185.7 L116.6,192.1 M84.0,207.0 L92.0,210.0 L98.4,209.3 L104.8,206.0 L111.3,202.8 L115.6,199.6 L116.6,196.4 L119.8,192.1 L124.1,190.0 L124.1,183.6 L122.0,179.3 L120.5,178.2 M124.1,190.0 L130.5,190.0 L137.0,187.8 L138.0,183.6 L134.8,179.3 L134.3,176.3 M137.0,196.4 L141.3,195.3 L145.5,196.4 L148.7,200.7 L146.6,205.0 L147.7,208.2 L143.4,209.3 L140.2,207.1 L137.0,207.1 L135.9,202.8 L138.0,199.6 L137.0,196.4 M141.3,195.3 L143.4,190.0 L145.5,183.6 L145.1,177.2 M150.0,175.3 L149.8,183.6 L148.7,190.0 L152.0,196.4 L150.9,205.0 L154.1,211.4 L152.0,217.8 L150.4,223.5 M143.4,209.3 L144.5,215.7 L145.5,222.1 L145.7,225.0 M160.0,157.9 L164.0,155.0 L167.1,153.4 L170.7,149.8 L172.1,152.2 M172.1,152.2 L173.4,154.3 L171.6,157.9 L174.3,159.6 L179.6,157.9 L185.9,157.0 M158.9,175.7 L161.0,184.3 L167.5,183.2 L172.8,180.0 L178.2,176.8 L185.5,174.6 M150.3,170.3 L155.7,173.6 L158.9,175.7 M150.3,170.3 L153.6,166.0 L160.0,162.8 L166.4,160.7 L169.6,154.3 M161.0,184.3 L158.0,192.0 L152.0,196.4 M172.8,150.8 L183.1,152.9 L188.6,154.3" fill="none" stroke="#1e3a40" stroke-width="0.55" stroke-linejoin="round"/>
<path d="M153.0,35.4 L155.5,34.0 L157.5,33.6 L161.0,36.0 L165.5,35.2 L169.0,36.2 L171.8,38.0 L170.0,40.7 L171.8,43.4 L176.2,43.4 L177.1,40.7 L178.9,41.6 L179.8,45.2 L183.4,46.0 L184.3,49.6 L185.2,56.8 L184.3,61.2 L180.7,63.0 L177.1,64.8 L176.2,68.4 L175.4,72.9 L177.1,75.5 L182.9,78.6 L193.6,77.5 L195.0,78.4 L198.6,78.4 L202.1,76.6 L205.7,74.8 L209.3,74.8 L212.9,75.7 L217.3,75.7 L220.0,73.9 L221.8,74.8 L222.7,78.4 L221.8,82.0 L224.5,83.8 L228.0,84.6 L231.6,85.5 L235.2,87.3 L238.8,88.2 L240.5,90.0 L239.6,93.6 L238.8,98.9 L238.8,104.3 L237.0,107.9 L236.1,110.5 L235.0,113.6 L231.6,117.1 L228.9,119.8 L228.0,123.4 L225.4,127.0 L221.8,127.9 L218.2,128.8 L214.6,130.5 L212.9,132.3 L212.0,135.0 L212.9,137.7 L216.4,138.6 L217.3,142.1 L218.2,145.7 L220.0,148.4 L222.7,151.1 L220.0,152.9 L216.4,152.9 L212.9,153.8 L209.3,155.5 L205.7,154.6 L200.4,153.8 L195.0,152.9 L191.2,152.5 L188.6,154.3 L186.8,156.1 L185.9,158.8 L185.9,162.3 L186.8,165.9 L185.9,169.5 L185.0,173.9 L185.9,177.5 L186.5,182.0 L186.0,186.0 L184.5,189.0 L182.5,191.6 L178.9,193.4 L177.1,197.9 L176.2,202.3 L173.6,205.9 L169.1,209.5 L164.6,212.1 L160.2,215.7 L156.6,218.4 L153.9,221.1 L150.4,223.5 L148.6,223.6 L145.7,225.0 L143.6,225.7 L142.1,228.6 L140.0,230.0 L137.1,230.7 L134.3,230.0 L132.9,227.1 L132.9,223.6 L130.7,221.4 L127.9,219.3 L125.7,217.1 L122.9,217.1 L118.6,217.9 L113.6,217.9 L110.0,217.1 L106.4,217.9 L102.9,216.4 L100.2,214.8 L96.6,213.0 L93.0,214.8 L89.5,214.8 L86.8,211.2 L85.0,208.6 L82.9,205.0 L81.4,202.1 L80.0,198.6 L78.6,195.7 L76.4,196.4 L74.3,195.0 L71.4,195.0 L69.3,194.3 L68.6,191.4 L66.4,189.3 L64.3,188.6 L61.4,189.3 L59.3,190.7 L57.9,193.6 L56.4,197.9 L57.1,202.1 L56.4,207.9 L52.5,210.7 L48.0,213.4 L43.6,215.2 L39.1,216.4 L35.5,217.5 L32.9,217.0 L30.2,215.2 L28.4,212.5 L26.6,209.8 L27.5,207.1 L30.2,203.6 L32.9,200.0 L36.4,198.2 L40.0,194.6 L41.8,192.0 L42.7,188.4 L41.8,185.7 L38.2,183.0 L34.6,180.4 L33.4,177.3 L37.9,172.9 L40.5,167.5 L43.2,162.1 L44.1,156.8 L43.2,151.4 L42.3,147.0 L46.8,144.3 L51.2,141.6 L55.7,141.6 L64.5,141.6 L67.0,140.0 L67.2,137.9 L67.5,134.3 L66.8,130.7 L67.1,129.3 L69.3,127.9 L71.4,126.4 L74.3,125.7 L77.1,124.3 L81.4,123.6 L85.0,122.1 L87.1,120.0 L89.3,116.4 L90.0,113.6 L89.3,110.0 L87.9,107.9 L86.4,105.0 L87.1,102.9 L90.7,101.4 L93.6,100.7 L96.4,100.0 L99.3,98.6 L102.1,97.9 L104.3,95.7 L105.0,92.9 L106.4,90.0 L109.3,87.9 L113.6,87.9 L117.9,86.4 L120.7,84.0 L122.1,81.4 L122.9,77.9 L124.3,75.0 L127.1,72.1 L130.0,70.7 L131.4,68.6 L132.1,65.7 L132.9,62.9 L132.1,60.0 L132.9,56.4 L135.0,54.3 L138.6,54.3 L144.3,55.7 L149.5,56.8 L151.2,55.0 L152.1,47.9 L152.1,40.7 Z" fill="none" stroke="#405068" stroke-width="0.9"/>
<text x="165.75" y="61" class="lb" text-anchor="middle" fill="#303848">DangTu</text><text x="176" y="106" class="lb" text-anchor="middle" fill="#303848">XuanZhou</text><text x="206.4" y="92" class="lb" text-anchor="middle" fill="#303848">LangXi</text><text x="220" y="108.8" class="lb" text-anchor="middle" fill="#303848">GuangDe</text><text x="192" y="142" class="lb" text-anchor="middle" fill="#303848">NingGuo</text><text x="144" y="107" class="lb" text-anchor="middle" fill="#303848">NanLing</text><text x="134.5" y="92.3" class="lb" text-anchor="middle" fill="#303848">FanChang</text><text x="119" y="103.6" class="lb" text-anchor="middle" fill="#303848">WuHu</text><text x="97.5" y="107" class="lb" text-anchor="middle" fill="#303848">Jiu</text><text x="148.5" y="133.7" class="lb" text-anchor="middle" fill="#303848">Jing</text><text x="113.3" y="133.7" class="lb" text-anchor="middle" fill="#303848">QingYang</text><text x="84.5" y="140.3" class="lb" text-anchor="middle" fill="#303848">GuiChi</text><text x="51.7" y="174" class="lb" text-anchor="middle" fill="#303848">DongZhi</text><text x="88.7" y="166.6" class="lb" text-anchor="middle" fill="#303848">ShiTai</text><text x="131" y="157.6" class="lb" text-anchor="middle" fill="#303848">HuangShan</text><text x="155.6" y="156.3" class="lb" text-anchor="middle" fill="#303848">JingDe</text><text x="166.7" y="169.1" class="lb" text-anchor="middle" fill="#303848">JiXi</text><text x="96.9" y="194.5" class="lb" text-anchor="middle" fill="#303848">QiMen</text><text x="144" y="186.3" class="lb" text-anchor="middle" fill="#303848">YiXian</text><text x="164.6" y="196.6" class="lb" text-anchor="middle" fill="#303848">SheXian</text><text x="119.5" y="208.9" class="lb" text-anchor="middle" fill="#303848">XiuNing</text><text x="162" y="89.5" class="lb" text-anchor="middle" fill="#303848">WanZhi</text><text x="160.75" y="83" class="lb" text-anchor="middle" fill="#303848">Wu</text><text x="162" y="40" class="lb" text-anchor="middle" fill="#303848">HanShan</text><text x="178.25" y="50.8" class="lb" text-anchor="middle" fill="#303848">BoWang</text><text x="140.75" y="68.5" class="lb" text-anchor="middle" fill="#303848">WuWei</text><text x="143.25" y="82" class="lb" text-anchor="middle" fill="#303848">SanShan</text>
<text x="19.5" y="23.6" font-family='"Liberation Serif", serif' font-weight="bold" font-size="9.6">Legend</text>
<text x="19.5" y="36.6" font-family='"Liberation Serif", serif' font-weight="bold" font-size="7.3" textLength="30.5" lengthAdjust="spacingAndGlyphs">PRE(mm)</text>
<rect x="16.3" y="40.3" width="15" height="32" fill="#e4fafa"/><rect x="16.3" y="47.5" width="15" height="24.5" fill="#c4f6f6"/>
<rect x="19.5" y="41" width="11.5" height="30.5" fill="url(#gPreBar)"/>
<text x="33.5" y="43.8" class="t2">High: 2102.3</text>
<text x="33.5" y="71.8" class="t2">Low: 1074.63</text>
<text x="214.8" y="183.6" font-family="Liberation Sans, sans-serif" font-size="11.6" text-anchor="middle" stroke="#000" stroke-width="0.12">N</text>
<path d="M214.9,187.2 L206.6,214 L215,205.8 Z" fill="#000"/>
<path d="M214.9,187.2 L223.5,214 L215,205.8 Z" fill="#fff" stroke="#000" stroke-width="0.8"/>
<rect x="169" y="226.1" width="65.6" height="3.5" fill="#000"/>
<rect x="186" y="227.1" width="16.2" height="1.6" fill="#fff"/>
<text x="169.5" y="223.3" class="t" text-anchor="middle">0</text>
<text x="185.9" y="223.3" class="t" text-anchor="middle">25</text>
<text x="202" y="223.3" class="t" text-anchor="middle">50</text>
<text x="234.4" y="223.3" class="t" text-anchor="middle">100</text>
<text x="236" y="230.3" class="t">km</text>
</g>
<g transform="translate(296,12.4) scale(1.008,1.0127) translate(-13.5,-14.5)">
<rect x="13.5" y="14.5" width="239.5" height="237" fill="none" stroke="#505050" stroke-width="1"/>
<rect x="15.5" y="16.5" width="235.5" height="233" fill="none" stroke="#ececec" stroke-width="0.6"/>
<line x1="13.8" y1="12" x2="13.8" y2="14.5" stroke="#444" stroke-width="0.8"/>
<line x1="13.8" y1="251" x2="13.8" y2="254" stroke="#444" stroke-width="0.8"/>
<text x="13.8" y="10.2" class="t" text-anchor="middle" textLength="22.5" lengthAdjust="spacingAndGlyphs">116°30'E</text>
<text x="13.8" y="261.3" class="t" text-anchor="middle" textLength="22.5" lengthAdjust="spacingAndGlyphs">116°30'E</text>
<line x1="50.1" y1="12" x2="50.1" y2="14.5" stroke="#444" stroke-width="0.8"/>
<line x1="50.1" y1="251" x2="50.1" y2="254" stroke="#444" stroke-width="0.8"/>
<text x="50.1" y="10.2" class="t" text-anchor="middle" textLength="15" lengthAdjust="spacingAndGlyphs">117°E</text>
<text x="50.1" y="261.3" class="t" text-anchor="middle" textLength="15" lengthAdjust="spacingAndGlyphs">117°E</text>
<line x1="86.4" y1="12" x2="86.4" y2="14.5" stroke="#444" stroke-width="0.8"/>
<line x1="86.4" y1="251" x2="86.4" y2="254" stroke="#444" stroke-width="0.8"/>
<text x="86.4" y="10.2" class="t" text-anchor="middle" textLength="22.5" lengthAdjust="spacingAndGlyphs">117°30'E</text>
<text x="86.4" y="261.3" class="t" text-anchor="middle" textLength="22.5" lengthAdjust="spacingAndGlyphs">117°30'E</text>
<line x1="122.7" y1="12" x2="122.7" y2="14.5" stroke="#444" stroke-width="0.8"/>
<line x1="122.7" y1="251" x2="122.7" y2="254" stroke="#444" stroke-width="0.8"/>
<text x="122.7" y="10.2" class="t" text-anchor="middle" textLength="15" lengthAdjust="spacingAndGlyphs">118°E</text>
<text x="122.7" y="261.3" class="t" text-anchor="middle" textLength="15" lengthAdjust="spacingAndGlyphs">118°E</text>
<line x1="159.0" y1="12" x2="159.0" y2="14.5" stroke="#444" stroke-width="0.8"/>
<line x1="159.0" y1="251" x2="159.0" y2="254" stroke="#444" stroke-width="0.8"/>
<text x="159.0" y="10.2" class="t" text-anchor="middle" textLength="22.5" lengthAdjust="spacingAndGlyphs">118°30'E</text>
<text x="159.0" y="261.3" class="t" text-anchor="middle" textLength="22.5" lengthAdjust="spacingAndGlyphs">118°30'E</text>
<line x1="195.3" y1="12" x2="195.3" y2="14.5" stroke="#444" stroke-width="0.8"/>
<line x1="195.3" y1="251" x2="195.3" y2="254" stroke="#444" stroke-width="0.8"/>
<text x="195.3" y="10.2" class="t" text-anchor="middle" textLength="15" lengthAdjust="spacingAndGlyphs">119°E</text>
<text x="195.3" y="261.3" class="t" text-anchor="middle" textLength="15" lengthAdjust="spacingAndGlyphs">119°E</text>
<line x1="231.6" y1="12" x2="231.6" y2="14.5" stroke="#444" stroke-width="0.8"/>
<line x1="231.6" y1="251" x2="231.6" y2="254" stroke="#444" stroke-width="0.8"/>
<text x="231.6" y="10.2" class="t" text-anchor="middle" textLength="22.5" lengthAdjust="spacingAndGlyphs">119°30'E</text>
<text x="231.6" y="261.3" class="t" text-anchor="middle" textLength="22.5" lengthAdjust="spacingAndGlyphs">119°30'E</text>
<line x1="253" y1="14.8" x2="255.5" y2="14.8" stroke="#444" stroke-width="0.8"/>
<text transform="translate(262.6,14.8) rotate(-90)" class="t" text-anchor="middle" textLength="14" lengthAdjust="spacingAndGlyphs">32°N</text>
<line x1="11" y1="56.6" x2="13.5" y2="56.6" stroke="#444" stroke-width="0.8"/>
<text transform="translate(10.2,56.6) rotate(-90)" class="t" text-anchor="middle" textLength="20.7" lengthAdjust="spacingAndGlyphs">31°30'N</text>
<line x1="253" y1="56.6" x2="255.5" y2="56.6" stroke="#444" stroke-width="0.8"/>
<text transform="translate(262.6,56.6) rotate(-90)" class="t" text-anchor="middle" textLength="20.7" lengthAdjust="spacingAndGlyphs">31°30'N</text>
<line x1="11" y1="98.4" x2="13.5" y2="98.4" stroke="#444" stroke-width="0.8"/>
<text transform="translate(10.2,98.4) rotate(-90)" class="t" text-anchor="middle" textLength="14" lengthAdjust="spacingAndGlyphs">31°N</text>
<line x1="253" y1="98.4" x2="255.5" y2="98.4" stroke="#444" stroke-width="0.8"/>
<text transform="translate(262.6,98.4) rotate(-90)" class="t" text-anchor="middle" textLength="14" lengthAdjust="spacingAndGlyphs">31°N</text>
<line x1="11" y1="140.2" x2="13.5" y2="140.2" stroke="#444" stroke-width="0.8"/>
<text transform="translate(10.2,140.2) rotate(-90)" class="t" text-anchor="middle" textLength="20.7" lengthAdjust="spacingAndGlyphs">30°30'N</text>
<line x1="253" y1="140.2" x2="255.5" y2="140.2" stroke="#444" stroke-width="0.8"/>
<text transform="translate(262.6,140.2) rotate(-90)" class="t" text-anchor="middle" textLength="20.7" lengthAdjust="spacingAndGlyphs">30°30'N</text>
<line x1="11" y1="182.0" x2="13.5" y2="182.0" stroke="#444" stroke-width="0.8"/>
<text transform="translate(10.2,182.0) rotate(-90)" class="t" text-anchor="middle" textLength="14" lengthAdjust="spacingAndGlyphs">30°N</text>
<line x1="253" y1="182.0" x2="255.5" y2="182.0" stroke="#444" stroke-width="0.8"/>
<text transform="translate(262.6,182.0) rotate(-90)" class="t" text-anchor="middle" textLength="14" lengthAdjust="spacingAndGlyphs">30°N</text>
<line x1="11" y1="223.8" x2="13.5" y2="223.8" stroke="#444" stroke-width="0.8"/>
<text transform="translate(10.2,223.8) rotate(-90)" class="t" text-anchor="middle" textLength="20.7" lengthAdjust="spacingAndGlyphs">29°30'N</text>
<line x1="253" y1="223.8" x2="255.5" y2="223.8" stroke="#444" stroke-width="0.8"/>
<text transform="translate(262.6,223.8) rotate(-90)" class="t" text-anchor="middle" textLength="20.7" lengthAdjust="spacingAndGlyphs">29°30'N</text>
<path d="M153.0,35.4 L155.5,34.0 L157.5,33.6 L161.0,36.0 L165.5,35.2 L169.0,36.2 L171.8,38.0 L170.0,40.7 L171.8,43.4 L176.2,43.4 L177.1,40.7 L178.9,41.6 L179.8,45.2 L183.4,46.0 L184.3,49.6 L185.2,56.8 L184.3,61.2 L180.7,63.0 L177.1,64.8 L176.2,68.4 L175.4,72.9 L177.1,75.5 L182.9,78.6 L193.6,77.5 L195.0,78.4 L198.6,78.4 L202.1,76.6 L205.7,74.8 L209.3,74.8 L212.9,75.7 L217.3,75.7 L220.0,73.9 L221.8,74.8 L222.7,78.4 L221.8,82.0 L224.5,83.8 L228.0,84.6 L231.6,85.5 L235.2,87.3 L238.8,88.2 L240.5,90.0 L239.6,93.6 L238.8,98.9 L238.8,104.3 L237.0,107.9 L236.1,110.5 L235.0,113.6 L231.6,117.1 L228.9,119.8 L228.0,123.4 L225.4,127.0 L221.8,127.9 L218.2,128.8 L214.6,130.5 L212.9,132.3 L212.0,135.0 L212.9,137.7 L216.4,138.6 L217.3,142.1 L218.2,145.7 L220.0,148.4 L222.7,151.1 L220.0,152.9 L216.4,152.9 L212.9,153.8 L209.3,155.5 L205.7,154.6 L200.4,153.8 L195.0,152.9 L191.2,152.5 L188.6,154.3 L186.8,156.1 L185.9,158.8 L185.9,162.3 L186.8,165.9 L185.9,169.5 L185.0,173.9 L185.9,177.5 L186.5,182.0 L186.0,186.0 L184.5,189.0 L182.5,191.6 L178.9,193.4 L177.1,197.9 L176.2,202.3 L173.6,205.9 L169.1,209.5 L164.6,212.1 L160.2,215.7 L156.6,218.4 L153.9,221.1 L150.4,223.5 L148.6,223.6 L145.7,225.0 L143.6,225.7 L142.1,228.6 L140.0,230.0 L137.1,230.7 L134.3,230.0 L132.9,227.1 L132.9,223.6 L130.7,221.4 L127.9,219.3 L125.7,217.1 L122.9,217.1 L118.6,217.9 L113.6,217.9 L110.0,217.1 L106.4,217.9 L102.9,216.4 L100.2,214.8 L96.6,213.0 L93.0,214.8 L89.5,214.8 L86.8,211.2 L85.0,208.6 L82.9,205.0 L81.4,202.1 L80.0,198.6 L78.6,195.7 L76.4,196.4 L74.3,195.0 L71.4,195.0 L69.3,194.3 L68.6,191.4 L66.4,189.3 L64.3,188.6 L61.4,189.3 L59.3,190.7 L57.9,193.6 L56.4,197.9 L57.1,202.1 L56.4,207.9 L52.5,210.7 L48.0,213.4 L43.6,215.2 L39.1,216.4 L35.5,217.5 L32.9,217.0 L30.2,215.2 L28.4,212.5 L26.6,209.8 L27.5,207.1 L30.2,203.6 L32.9,200.0 L36.4,198.2 L40.0,194.6 L41.8,192.0 L42.7,188.4 L41.8,185.7 L38.2,183.0 L34.6,180.4 L33.4,177.3 L37.9,172.9 L40.5,167.5 L43.2,162.1 L44.1,156.8 L43.2,151.4 L42.3,147.0 L46.8,144.3 L51.2,141.6 L55.7,141.6 L64.5,141.6 L67.0,140.0 L67.2,137.9 L67.5,134.3 L66.8,130.7 L67.1,129.3 L69.3,127.9 L71.4,126.4 L74.3,125.7 L77.1,124.3 L81.4,123.6 L85.0,122.1 L87.1,120.0 L89.3,116.4 L90.0,113.6 L89.3,110.0 L87.9,107.9 L86.4,105.0 L87.1,102.9 L90.7,101.4 L93.6,100.7 L96.4,100.0 L99.3,98.6 L102.1,97.9 L104.3,95.7 L105.0,92.9 L106.4,90.0 L109.3,87.9 L113.6,87.9 L117.9,86.4 L120.7,84.0 L122.1,81.4 L122.9,77.9 L124.3,75.0 L127.1,72.1 L130.0,70.7 L131.4,68.6 L132.1,65.7 L132.9,62.9 L132.1,60.0 L132.9,56.4 L135.0,54.3 L138.6,54.3 L144.3,55.7 L149.5,56.8 L151.2,55.0 L152.1,47.9 L152.1,40.7 Z" fill="none" stroke="#fdf0f6" stroke-width="8" stroke-linejoin="miter"/>
<g clip-path="url(#clipO)"><g id="temf" class="fc" shape-rendering="crispEdges" filter="url(#bl2)">
<rect x="148" y="30" fill="#ec764d"/><rect x="152" y="30" fill="#ec764d"/><rect x="156" y="30" fill="#ec764d"/><rect x="160" y="30" fill="#ec754d"/><rect x="164" y="30" fill="#ec744d"/><rect x="168" y="30" fill="#ec744c"/><rect x="172" y="30" fill="#ec734c"/><rect x="148" y="34" fill="#ec774e"/><rect x="152" y="34" fill="#ec764e"/><rect x="156" y="34" fill="#ec774e"/><rect x="160" y="34" fill="#ec774e"/><rect x="164" y="34" fill="#ec744d"/><rect x="168" y="34" fill="#ec744c"/><rect x="172" y="34" fill="#ec734c"/><rect x="176" y="34" fill="#ec734c"/><rect x="180" y="34" fill="#ec734c"/><rect x="148" y="38" fill="#ec774e"/><rect x="152" y="38" fill="#ec764e"/><rect x="156" y="38" fill="#ec774e"/><rect x="160" y="38" fill="#ec774e"/><rect x="164" y="38" fill="#ec744d"/><rect x="168" y="38" fill="#ec734c"/><rect x="172" y="38" fill="#ec734c"/><rect x="176" y="38" fill="#ec734c"/><rect x="180" y="38" fill="#ec734c"/><rect x="184" y="38" fill="#ec734c"/><rect x="148" y="42" fill="#eb734c"/><rect x="152" y="42" fill="#eb734c"/><rect x="156" y="42" fill="#eb744c"/><rect x="160" y="42" fill="#eb744c"/><rect x="164" y="42" fill="#eb734c"/><rect x="168" y="42" fill="#eb734c"/><rect x="172" y="42" fill="#eb734c"/><rect x="176" y="42" fill="#eb734c"/><rect x="180" y="42" fill="#ec734c"/><rect x="184" y="42" fill="#eb734c"/><rect x="144" y="46" fill="#e96c47"/><rect x="148" y="46" fill="#e96d48"/><rect x="152" y="46" fill="#e96f49"/><rect x="156" y="46" fill="#e97049"/><rect x="160" y="46" fill="#e97049"/><rect x="164" y="46" fill="#e97049"/><rect x="168" y="46" fill="#ea714a"/><rect x="172" y="46" fill="#eb724b"/><rect x="176" y="46" fill="#eb734c"/><rect x="180" y="46" fill="#eb734c"/><rect x="184" y="46" fill="#eb734c"/><rect x="188" y="46" fill="#ea734c"/><rect x="128" y="50" fill="#e76340"/><rect x="132" y="50" fill="#e7613f"/><rect x="136" y="50" fill="#e86340"/><rect x="140" y="50" fill="#e86744"/><rect x="144" y="50" fill="#e86946"/><rect x="148" y="50" fill="#e86946"/><rect x="152" y="50" fill="#e86b47"/><rect x="156" y="50" fill="#e86d47"/><rect x="160" y="50" fill="#e86d47"/><rect x="164" y="50" fill="#e86d46"/><rect x="168" y="50" fill="#e96f48"/><rect x="172" y="50" fill="#ea714b"/><rect x="176" y="50" fill="#ec734c"/><rect x="180" y="50" fill="#ec734c"/><rect x="184" y="50" fill="#eb734c"/><rect x="188" y="50" fill="#ea734c"/><rect x="128" y="54" fill="#e76240"/><rect x="132" y="54" fill="#e7613f"/><rect x="136" y="54" fill="#e7623f"/><rect x="140" y="54" fill="#e86643"/><rect x="144" y="54" fill="#e86945"/><rect x="148" y="54" fill="#e86946"/><rect x="152" y="54" fill="#e86a46"/><rect x="156" y="54" fill="#e86c47"/><rect x="160" y="54" fill="#e86d46"/><rect x="164" y="54" fill="#e86d46"/><rect x="168" y="54" fill="#e86e47"/><rect x="172" y="54" fill="#ea714a"/><rect x="176" y="54" fill="#ec734c"/><rect x="180" y="54" fill="#ec734c"/><rect x="184" y="54" fill="#eb734c"/><rect x="188" y="54" fill="#ea734c"/><rect x="128" y="58" fill="#e76340"/><rect x="132" y="58" fill="#e76340"/><rect x="136" y="58" fill="#e76441"/><rect x="140" y="58" fill="#e76643"/><rect x="144" y="58" fill="#e86845"/><rect x="148" y="58" fill="#e86946"/><rect x="152" y="58" fill="#e86a46"/><rect x="156" y="58" fill="#e86c47"/><rect x="160" y="58" fill="#e86d47"/><rect x="164" y="58" fill="#e86d47"/><rect x="168" y="58" fill="#e86e48"/><rect x="172" y="58" fill="#ea704a"/><rect x="176" y="58" fill="#eb724b"/><rect x="180" y="58" fill="#eb734c"/><rect x="184" y="58" fill="#eb734c"/><rect x="188" y="58" fill="#ea734c"/><rect x="124" y="62" fill="#e7613e"/><rect x="128" y="62" fill="#e7623f"/><rect x="132" y="62" fill="#e76440"/><rect x="136" y="62" fill="#e76441"/><rect x="140" y="62" fill="#e76542"/><rect x="144" y="62" fill="#e76844"/><rect x="148" y="62" fill="#e86945"/><rect x="152" y="62" fill="#e86a46"/><rect x="156" y="62" fill="#e86b46"/><rect x="160" y="62" fill="#e86c47"/><rect x="164" y="62" fill="#e86d47"/><rect x="168" y="62" fill="#e86e47"/><rect x="172" y="62" fill="#e86f48"/><rect x="176" y="62" fill="#e9714a"/><rect x="180" y="62" fill="#ea724b"/><rect x="184" y="62" fill="#ea724c"/><rect x="188" y="62" fill="#e9734c"/><rect x="120" y="66" fill="#e75f3c"/><rect x="124" y="66" fill="#e75e3b"/><rect x="128" y="66" fill="#e7613d"/><rect x="132" y="66" fill="#e76340"/><rect x="136" y="66" fill="#e7633f"/><rect x="140" y="66" fill="#e7633f"/><rect x="144" y="66" fill="#e76642"/><rect x="148" y="66" fill="#e76945"/><rect x="152" y="66" fill="#e76946"/><rect x="156" y="66" fill="#e86946"/><rect x="160" y="66" fill="#e86c47"/><rect x="164" y="66" fill="#e86d46"/><rect x="168" y="66" fill="#e86d46"/><rect x="172" y="66" fill="#e86e47"/><rect x="176" y="66" fill="#e97049"/><rect x="180" y="66" fill="#e9714a"/><rect x="184" y="66" fill="#e9724b"/><rect x="120" y="70" fill="#e75e3b"/><rect x="124" y="70" fill="#e75e3b"/><rect x="128" y="70" fill="#e7613d"/><rect x="132" y="70" fill="#e76340"/><rect x="136" y="70" fill="#e7633f"/><rect x="140" y="70" fill="#e7633f"/><rect x="144" y="70" fill="#e76642"/><rect x="148" y="70" fill="#e76945"/><rect x="152" y="70" fill="#e76946"/><rect x="156" y="70" fill="#e86946"/><rect x="160" y="70" fill="#e86c47"/><rect x="164" y="70" fill="#e86d46"/><rect x="168" y="70" fill="#e86d46"/><rect x="172" y="70" fill="#e86e47"/><rect x="176" y="70" fill="#e97049"/><rect x="180" y="70" fill="#e9714a"/><rect x="188" y="70" fill="#ea734c"/><rect x="192" y="70" fill="#ea744c"/><rect x="196" y="70" fill="#ea754d"/><rect x="200" y="70" fill="#ea754e"/><rect x="204" y="70" fill="#ea764e"/><rect x="208" y="70" fill="#ea774f"/><rect x="212" y="70" fill="#ea7850"/><rect x="216" y="70" fill="#ea7951"/><rect x="220" y="70" fill="#eb7a52"/><rect x="224" y="70" fill="#eb7b52"/><rect x="116" y="74" fill="#e75f3d"/><rect x="120" y="74" fill="#e75f3d"/><rect x="124" y="74" fill="#e7603d"/><rect x="128" y="74" fill="#e7623f"/><rect x="132" y="74" fill="#e76440"/><rect x="136" y="74" fill="#e76441"/><rect x="140" y="74" fill="#e76542"/><rect x="144" y="74" fill="#e76743"/><rect x="148" y="74" fill="#e76945"/><rect x="152" y="74" fill="#e76946"/><rect x="156" y="74" fill="#e86a46"/><rect x="160" y="74" fill="#e86c47"/><rect x="164" y="74" fill="#e86d47"/><rect x="168" y="74" fill="#e86d47"/><rect x="172" y="74" fill="#e86f48"/><rect x="176" y="74" fill="#e97049"/><rect x="180" y="74" fill="#ea724a"/><rect x="184" y="74" fill="#ea734b"/><rect x="188" y="74" fill="#ea734b"/><rect x="192" y="74" fill="#ea744c"/><rect x="196" y="74" fill="#ea744c"/><rect x="200" y="74" fill="#ea754d"/><rect x="204" y="74" fill="#eb764e"/><rect x="208" y="74" fill="#eb764f"/><rect x="212" y="74" fill="#eb7750"/><rect x="216" y="74" fill="#eb7951"/><rect x="220" y="74" fill="#ec7b52"/><rect x="224" y="74" fill="#ec7c53"/><rect x="116" y="78" fill="#e75c3a"/><rect x="120" y="78" fill="#e75d3b"/><rect x="124" y="78" fill="#e7603e"/><rect x="128" y="78" fill="#e76240"/><rect x="132" y="78" fill="#e76340"/><rect x="136" y="78" fill="#e76441"/><rect x="140" y="78" fill="#e76643"/><rect x="144" y="78" fill="#e76743"/><rect x="148" y="78" fill="#e76743"/><rect x="152" y="78" fill="#e76945"/><rect x="156" y="78" fill="#e86b46"/><rect x="160" y="78" fill="#e86b47"/><rect x="164" y="78" fill="#e86b47"/><rect x="168" y="78" fill="#e86d48"/><rect x="172" y="78" fill="#e97049"/><rect x="176" y="78" fill="#eb7149"/><rect x="180" y="78" fill="#eb724a"/><rect x="184" y="78" fill="#eb734a"/><rect x="188" y="78" fill="#eb734b"/><rect x="192" y="78" fill="#ec734a"/><rect x="196" y="78" fill="#eb734b"/><rect x="200" y="78" fill="#eb754d"/><rect x="204" y="78" fill="#eb754d"/><rect x="208" y="78" fill="#ec754e"/><rect x="212" y="78" fill="#ec764f"/><rect x="216" y="78" fill="#ec7951"/><rect x="220" y="78" fill="#ed7b53"/><rect x="224" y="78" fill="#ed7c53"/><rect x="228" y="78" fill="#ec7d53"/><rect x="232" y="78" fill="#eb8053"/><rect x="104" y="82" fill="#e75839"/><rect x="108" y="82" fill="#e75638"/><rect x="112" y="82" fill="#e75939"/><rect x="116" y="82" fill="#e75a38"/><rect x="120" y="82" fill="#e75a38"/><rect x="124" y="82" fill="#e75f3d"/><rect x="128" y="82" fill="#e7623f"/><rect x="132" y="82" fill="#e7613f"/><rect x="136" y="82" fill="#e7623f"/><rect x="140" y="82" fill="#e76643"/><rect x="144" y="82" fill="#e76643"/><rect x="148" y="82" fill="#e86542"/><rect x="152" y="82" fill="#e86743"/><rect x="156" y="82" fill="#e86b46"/><rect x="160" y="82" fill="#e86a46"/><rect x="164" y="82" fill="#e86946"/><rect x="168" y="82" fill="#e86c47"/><rect x="172" y="82" fill="#ea7049"/><rect x="176" y="82" fill="#ec7249"/><rect x="180" y="82" fill="#ec7249"/><rect x="184" y="82" fill="#eb734a"/><rect x="188" y="82" fill="#ec734a"/><rect x="192" y="82" fill="#ec7249"/><rect x="196" y="82" fill="#ec7249"/><rect x="200" y="82" fill="#eb744c"/><rect x="204" y="82" fill="#ec744d"/><rect x="208" y="82" fill="#ec744d"/><rect x="212" y="82" fill="#ec754e"/><rect x="216" y="82" fill="#ec7951"/><rect x="220" y="82" fill="#ee7b53"/><rect x="224" y="82" fill="#ee7c53"/><rect x="228" y="82" fill="#ed7d54"/><rect x="232" y="82" fill="#eb8153"/><rect x="236" y="82" fill="#ea8353"/><rect x="240" y="82" fill="#ea8353"/><rect x="100" y="86" fill="#e75b3c"/><rect x="104" y="86" fill="#e7593a"/><rect x="108" y="86" fill="#e75738"/><rect x="112" y="86" fill="#e75a3a"/><rect x="116" y="86" fill="#e75b39"/><rect x="120" y="86" fill="#e75c3a"/><rect x="124" y="86" fill="#e7603e"/><rect x="128" y="86" fill="#e76340"/><rect x="132" y="86" fill="#e8623f"/><rect x="136" y="86" fill="#e86341"/><rect x="140" y="86" fill="#e86743"/><rect x="144" y="86" fill="#e86744"/><rect x="148" y="86" fill="#e86643"/><rect x="152" y="86" fill="#e86945"/><rect x="156" y="86" fill="#e86c47"/><rect x="160" y="86" fill="#e86b47"/><rect x="164" y="86" fill="#e86a46"/><rect x="168" y="86" fill="#e86e48"/><rect x="172" y="86" fill="#ea714a"/><rect x="176" y="86" fill="#ec7249"/><rect x="180" y="86" fill="#ec7249"/><rect x="184" y="86" fill="#eb734b"/><rect x="188" y="86" fill="#eb734b"/><rect x="192" y="86" fill="#ec7249"/><rect x="196" y="86" fill="#ec734a"/><rect x="200" y="86" fill="#eb754d"/><rect x="204" y="86" fill="#ec754e"/><rect x="208" y="86" fill="#ec744d"/><rect x="212" y="86" fill="#ec764f"/><rect x="216" y="86" fill="#ec7a52"/><rect x="220" y="86" fill="#ee7c53"/><rect x="224" y="86" fill="#ee7c54"/><rect x="228" y="86" fill="#ed7e54"/><rect x="232" y="86" fill="#eb8154"/><rect x="236" y="86" fill="#ea8353"/><rect x="240" y="86" fill="#ea8353"/><rect x="96" y="90" fill="#e65a3c"/><rect x="100" y="90" fill="#e75a3c"/><rect x="104" y="90" fill="#e75a3b"/><rect x="108" y="90" fill="#e75b3b"/><rect x="112" y="90" fill="#e75d3c"/><rect x="116" y="90" fill="#e75f3d"/><rect x="120" y="90" fill="#e7603e"/><rect x="124" y="90" fill="#e76340"/><rect x="128" y="90" fill="#e86642"/><rect x="132" y="90" fill="#e86743"/><rect x="136" y="90" fill="#e86844"/><rect x="140" y="90" fill="#e86a46"/><rect x="144" y="90" fill="#e86c47"/><rect x="148" y="90" fill="#e96c47"/><rect x="152" y="90" fill="#e96d48"/><rect x="156" y="90" fill="#e96f49"/><rect x="160" y="90" fill="#e96f4a"/><rect x="164" y="90" fill="#e9704a"/><rect x="168" y="90" fill="#e9714b"/><rect x="172" y="90" fill="#ea724b"/><rect x="176" y="90" fill="#eb734c"/><rect x="180" y="90" fill="#eb744c"/><rect x="184" y="90" fill="#eb744c"/><rect x="188" y="90" fill="#eb744d"/><rect x="192" y="90" fill="#eb744c"/><rect x="196" y="90" fill="#eb754d"/><rect x="200" y="90" fill="#eb764f"/><rect x="204" y="90" fill="#ec7750"/><rect x="208" y="90" fill="#ec7850"/><rect x="212" y="90" fill="#ec7951"/><rect x="216" y="90" fill="#ec7c53"/><rect x="220" y="90" fill="#ed7e54"/><rect x="224" y="90" fill="#ed7f55"/><rect x="228" y="90" fill="#ec8055"/><rect x="232" y="90" fill="#eb8355"/><rect x="236" y="90" fill="#ea8455"/><rect x="240" y="90" fill="#ea8455"/><rect x="84" y="94" fill="#e74e33"/><rect x="88" y="94" fill="#e74f33"/><rect x="92" y="94" fill="#e65538"/><rect x="96" y="94" fill="#e6583b"/><rect x="100" y="94" fill="#e7563a"/><rect x="104" y="94" fill="#e75539"/><rect x="108" y="94" fill="#e75a3c"/><rect x="112" y="94" fill="#e75f3d"/><rect x="116" y="94" fill="#e75f3d"/><rect x="120" y="94" fill="#e7603d"/><rect x="124" y="94" fill="#e86441"/><rect x="128" y="94" fill="#e96843"/><rect x="132" y="94" fill="#eb6944"/><rect x="136" y="94" fill="#ea6a45"/><rect x="140" y="94" fill="#e96d47"/><rect x="144" y="94" fill="#ea7049"/><rect x="148" y="94" fill="#eb714a"/><rect x="152" y="94" fill="#ea714a"/><rect x="156" y="94" fill="#e9724b"/><rect x="160" y="94" fill="#eb734c"/><rect x="164" y="94" fill="#eb734c"/><rect x="168" y="94" fill="#ea734d"/><rect x="172" y="94" fill="#ea744d"/><rect x="176" y="94" fill="#eb744d"/><rect x="180" y="94" fill="#eb744d"/><rect x="184" y="94" fill="#eb754d"/><rect x="188" y="94" fill="#eb754e"/><rect x="192" y="94" fill="#ec754d"/><rect x="196" y="94" fill="#ec754e"/><rect x="200" y="94" fill="#eb7750"/><rect x="204" y="94" fill="#ec7952"/><rect x="208" y="94" fill="#ed7a53"/><rect x="212" y="94" fill="#ed7b53"/><rect x="216" y="94" fill="#ed7d54"/><rect x="220" y="94" fill="#ee8156"/><rect x="224" y="94" fill="#ef8257"/><rect x="228" y="94" fill="#ed8256"/><rect x="232" y="94" fill="#eb8657"/><rect x="236" y="94" fill="#ea8958"/><rect x="240" y="94" fill="#ea8757"/><rect x="80" y="98" fill="#e65135"/><rect x="84" y="98" fill="#e74b31"/><rect x="88" y="98" fill="#e74b31"/><rect x="92" y="98" fill="#e75337"/><rect x="96" y="98" fill="#e7573a"/><rect x="100" y="98" fill="#e75339"/><rect x="104" y="98" fill="#e75238"/><rect x="108" y="98" fill="#e7593b"/><rect x="112" y="98" fill="#e75f3e"/><rect x="116" y="98" fill="#e75e3b"/><rect x="120" y="98" fill="#e75e3b"/><rect x="124" y="98" fill="#e86541"/><rect x="128" y="98" fill="#ea6944"/><rect x="132" y="98" fill="#ec6944"/><rect x="136" y="98" fill="#ec6a44"/><rect x="140" y="98" fill="#ea6e48"/><rect x="144" y="98" fill="#eb714a"/><rect x="148" y="98" fill="#ec724b"/><rect x="152" y="98" fill="#eb724b"/><rect x="156" y="98" fill="#ea734c"/><rect x="160" y="98" fill="#ec744d"/><rect x="164" y="98" fill="#ec744d"/><rect x="168" y="98" fill="#eb744d"/><rect x="172" y="98" fill="#eb754e"/><rect x="176" y="98" fill="#ec744d"/><rect x="180" y="98" fill="#ec744d"/><rect x="184" y="98" fill="#eb764e"/><rect x="188" y="98" fill="#eb754e"/><rect x="192" y="98" fill="#ec744d"/><rect x="196" y="98" fill="#ec744d"/><rect x="200" y="98" fill="#eb7850"/><rect x="204" y="98" fill="#ed7a53"/><rect x="208" y="98" fill="#ee7a53"/><rect x="212" y="98" fill="#ed7b54"/><rect x="216" y="98" fill="#ed7e55"/><rect x="220" y="98" fill="#f08257"/><rect x="224" y="98" fill="#f08257"/><rect x="228" y="98" fill="#ee8357"/><rect x="232" y="98" fill="#eb8858"/><rect x="236" y="98" fill="#ea8a58"/><rect x="240" y="98" fill="#ea8958"/><rect x="80" y="102" fill="#e65337"/><rect x="84" y="102" fill="#e74f34"/><rect x="88" y="102" fill="#e75034"/><rect x="92" y="102" fill="#e65639"/><rect x="96" y="102" fill="#e65a3c"/><rect x="100" y="102" fill="#e7583b"/><rect x="104" y="102" fill="#e7573a"/><rect x="108" y="102" fill="#e75d3e"/><rect x="112" y="102" fill="#e76240"/><rect x="116" y="102" fill="#e7623e"/><rect x="120" y="102" fill="#e7633f"/><rect x="124" y="102" fill="#e86844"/><rect x="128" y="102" fill="#e96c46"/><rect x="132" y="102" fill="#eb6b46"/><rect x="136" y="102" fill="#ea6d47"/><rect x="140" y="102" fill="#e9714a"/><rect x="144" y="102" fill="#ea734b"/><rect x="148" y="102" fill="#eb734b"/><rect x="152" y="102" fill="#ea744c"/><rect x="156" y="102" fill="#e9764e"/><rect x="160" y="102" fill="#eb754e"/><rect x="164" y="102" fill="#eb754e"/><rect x="168" y="102" fill="#ea764f"/><rect x="172" y="102" fill="#ea774f"/><rect x="176" y="102" fill="#eb764e"/><rect x="180" y="102" fill="#eb764e"/><rect x="184" y="102" fill="#ea774f"/><rect x="188" y="102" fill="#eb774f"/><rect x="192" y="102" fill="#ec764e"/><rect x="196" y="102" fill="#eb774f"/><rect x="200" y="102" fill="#eb7a51"/><rect x="204" y="102" fill="#ec7b53"/><rect x="208" y="102" fill="#ed7b53"/><rect x="212" y="102" fill="#ec7c54"/><rect x="216" y="102" fill="#ec7f55"/><rect x="220" y="102" fill="#ee8256"/><rect x="224" y="102" fill="#ef8257"/><rect x="228" y="102" fill="#ec8457"/><rect x="232" y="102" fill="#eb8758"/><rect x="236" y="102" fill="#ea8958"/><rect x="240" y="102" fill="#ea8858"/><rect x="80" y="106" fill="#e55739"/><rect x="84" y="106" fill="#e65638"/><rect x="88" y="106" fill="#e65638"/><rect x="92" y="106" fill="#e6593a"/><rect x="96" y="106" fill="#e65d3d"/><rect x="100" y="106" fill="#e75f3f"/><rect x="104" y="106" fill="#e7603f"/><rect x="108" y="106" fill="#e76342"/><rect x="112" y="106" fill="#e76744"/><rect x="116" y="106" fill="#e86a45"/><rect x="120" y="106" fill="#e86c46"/><rect x="124" y="106" fill="#e86e48"/><rect x="128" y="106" fill="#e9724a"/><rect x="132" y="106" fill="#ea744c"/><rect x="136" y="106" fill="#e9754c"/><rect x="140" y="106" fill="#e8764d"/><rect x="144" y="106" fill="#e8774d"/><rect x="148" y="106" fill="#e8784e"/><rect x="152" y="106" fill="#e8794f"/><rect x="156" y="106" fill="#e87950"/><rect x="160" y="106" fill="#ea7a51"/><rect x="164" y="106" fill="#ea7b52"/><rect x="168" y="106" fill="#ea7a52"/><rect x="172" y="106" fill="#ea7a51"/><rect x="176" y="106" fill="#ea7b51"/><rect x="180" y="106" fill="#eb7b51"/><rect x="184" y="106" fill="#ea7b52"/><rect x="188" y="106" fill="#ea7b52"/><rect x="192" y="106" fill="#eb7c53"/><rect x="196" y="106" fill="#ea7c53"/><rect x="200" y="106" fill="#ea7c53"/><rect x="204" y="106" fill="#ea7d53"/><rect x="208" y="106" fill="#ea7e53"/><rect x="212" y="106" fill="#ea7f53"/><rect x="216" y="106" fill="#ea8154"/><rect x="220" y="106" fill="#eb8355"/><rect x="224" y="106" fill="#eb8455"/><rect x="228" y="106" fill="#ea8456"/><rect x="232" y="106" fill="#ea8557"/><rect x="236" y="106" fill="#e98658"/><rect x="240" y="106" fill="#e98658"/><rect x="84" y="110" fill="#e65637"/><rect x="88" y="110" fill="#e75535"/><rect x="92" y="110" fill="#e65838"/><rect x="96" y="110" fill="#e75f3e"/><rect x="100" y="110" fill="#e9613f"/><rect x="104" y="110" fill="#ea623f"/><rect x="108" y="110" fill="#e86643"/><rect x="112" y="110" fill="#e86c47"/><rect x="116" y="110" fill="#eb704a"/><rect x="120" y="110" fill="#eb714a"/><rect x="124" y="110" fill="#e9734b"/><rect x="128" y="110" fill="#ea784e"/><rect x="132" y="110" fill="#ed7d51"/><rect x="136" y="110" fill="#eb7c50"/><rect x="140" y="110" fill="#e87a4f"/><rect x="144" y="110" fill="#e77c4f"/><rect x="148" y="110" fill="#e77e4f"/><rect x="152" y="110" fill="#e77d50"/><rect x="156" y="110" fill="#e87d52"/><rect x="160" y="110" fill="#ec8055"/><rect x="164" y="110" fill="#ed8156"/><rect x="168" y="110" fill="#ea7e54"/><rect x="172" y="110" fill="#ea7e53"/><rect x="176" y="110" fill="#ed7f53"/><rect x="180" y="110" fill="#ed7f53"/><rect x="184" y="110" fill="#ea7e53"/><rect x="188" y="110" fill="#eb7f55"/><rect x="192" y="110" fill="#ed8157"/><rect x="196" y="110" fill="#ec8156"/><rect x="200" y="110" fill="#e97f54"/><rect x="204" y="110" fill="#e97f51"/><rect x="208" y="110" fill="#ea7f50"/><rect x="212" y="110" fill="#e98052"/><rect x="216" y="110" fill="#e98254"/><rect x="220" y="110" fill="#ea8654"/><rect x="224" y="110" fill="#ea8753"/><rect x="228" y="110" fill="#e98655"/><rect x="232" y="110" fill="#e88556"/><rect x="236" y="110" fill="#e88558"/><rect x="240" y="110" fill="#e78458"/><rect x="80" y="114" fill="#e4593a"/><rect x="84" y="114" fill="#e65636"/><rect x="88" y="114" fill="#e75434"/><rect x="92" y="114" fill="#e75838"/><rect x="96" y="114" fill="#e6603f"/><rect x="100" y="114" fill="#e96240"/><rect x="104" y="114" fill="#ea613f"/><rect x="108" y="114" fill="#e86743"/><rect x="112" y="114" fill="#e86f49"/><rect x="116" y="114" fill="#ec714b"/><rect x="120" y="114" fill="#ec724b"/><rect x="124" y="114" fill="#e8754d"/><rect x="128" y="114" fill="#ea7b50"/><rect x="132" y="114" fill="#ee7e51"/><rect x="136" y="114" fill="#ec7e51"/><rect x="140" y="114" fill="#e77c51"/><rect x="144" y="114" fill="#e77e4f"/><rect x="148" y="114" fill="#e77f4f"/><rect x="152" y="114" fill="#e77e50"/><rect x="156" y="114" fill="#e77e53"/><rect x="160" y="114" fill="#ec8157"/><rect x="164" y="114" fill="#ee8257"/><rect x="168" y="114" fill="#ea8055"/><rect x="172" y="114" fill="#ea7f54"/><rect x="176" y="114" fill="#ee8054"/><rect x="180" y="114" fill="#ee8054"/><rect x="184" y="114" fill="#ea7f54"/><rect x="188" y="114" fill="#eb8056"/><rect x="192" y="114" fill="#ee8257"/><rect x="196" y="114" fill="#ed8257"/><rect x="200" y="114" fill="#e98055"/><rect x="204" y="114" fill="#e98051"/><rect x="208" y="114" fill="#ea804f"/><rect x="212" y="114" fill="#e98051"/><rect x="216" y="114" fill="#e78355"/><rect x="220" y="114" fill="#ea8753"/><rect x="224" y="114" fill="#ea8753"/><rect x="228" y="114" fill="#e98655"/><rect x="232" y="114" fill="#e78557"/><rect x="236" y="114" fill="#e68458"/><rect x="72" y="118" fill="#e15238"/><rect x="76" y="118" fill="#e2553a"/><rect x="80" y="118" fill="#e3583b"/><rect x="84" y="118" fill="#e4593a"/><rect x="88" y="118" fill="#e55939"/><rect x="92" y="118" fill="#e55d3d"/><rect x="96" y="118" fill="#e46442"/><rect x="100" y="118" fill="#e66744"/><rect x="104" y="118" fill="#e76844"/><rect x="108" y="118" fill="#e56d48"/><rect x="112" y="118" fill="#e5724c"/><rect x="116" y="118" fill="#e7744d"/><rect x="120" y="118" fill="#e7754e"/><rect x="124" y="118" fill="#e57850"/><rect x="128" y="118" fill="#e67c52"/><rect x="132" y="118" fill="#e87e52"/><rect x="136" y="118" fill="#e77e52"/><rect x="140" y="118" fill="#e47e52"/><rect x="144" y="118" fill="#e47e52"/><rect x="148" y="118" fill="#e47f51"/><rect x="152" y="118" fill="#e47f52"/><rect x="156" y="118" fill="#e47f54"/><rect x="160" y="118" fill="#e78055"/><rect x="164" y="118" fill="#e88056"/><rect x="168" y="118" fill="#e67f55"/><rect x="172" y="118" fill="#e67f54"/><rect x="176" y="118" fill="#e97f54"/><rect x="180" y="118" fill="#e97f54"/><rect x="184" y="118" fill="#e77f54"/><rect x="188" y="118" fill="#e78055"/><rect x="192" y="118" fill="#e98156"/><rect x="196" y="118" fill="#e88156"/><rect x="200" y="118" fill="#e68056"/><rect x="204" y="118" fill="#e68155"/><rect x="208" y="118" fill="#e68153"/><rect x="212" y="118" fill="#e58256"/><rect x="216" y="118" fill="#e48458"/><rect x="220" y="118" fill="#e68657"/><rect x="224" y="118" fill="#e78656"/><rect x="228" y="118" fill="#e68657"/><rect x="232" y="118" fill="#e58559"/><rect x="236" y="118" fill="#e4845a"/><rect x="64" y="122" fill="#e04630"/><rect x="68" y="122" fill="#e04a32"/><rect x="72" y="122" fill="#e04b33"/><rect x="76" y="122" fill="#e04f36"/><rect x="80" y="122" fill="#e1563b"/><rect x="84" y="122" fill="#e25a3e"/><rect x="88" y="122" fill="#e25b3f"/><rect x="92" y="122" fill="#e26042"/><rect x="96" y="122" fill="#e26947"/><rect x="100" y="122" fill="#e1714b"/><rect x="104" y="122" fill="#e1744e"/><rect x="108" y="122" fill="#e1754e"/><rect x="112" y="122" fill="#e07951"/><rect x="116" y="122" fill="#df7d54"/><rect x="120" y="122" fill="#df7e54"/><rect x="124" y="122" fill="#e07e54"/><rect x="128" y="122" fill="#e08055"/><rect x="132" y="122" fill="#df8257"/><rect x="136" y="122" fill="#df8256"/><rect x="140" y="122" fill="#e08155"/><rect x="144" y="122" fill="#df8155"/><rect x="148" y="122" fill="#de8155"/><rect x="152" y="122" fill="#df8155"/><rect x="156" y="122" fill="#e08055"/><rect x="160" y="122" fill="#df7f55"/><rect x="164" y="122" fill="#df7f55"/><rect x="168" y="122" fill="#e17f55"/><rect x="172" y="122" fill="#e27f54"/><rect x="176" y="122" fill="#e27f52"/><rect x="180" y="122" fill="#e27f52"/><rect x="184" y="122" fill="#e37f54"/><rect x="188" y="122" fill="#e37f54"/><rect x="192" y="122" fill="#e27f54"/><rect x="196" y="122" fill="#e27f55"/><rect x="200" y="122" fill="#e18157"/><rect x="204" y="122" fill="#e08259"/><rect x="208" y="122" fill="#df835a"/><rect x="212" y="122" fill="#df845b"/><rect x="216" y="122" fill="#de875d"/><rect x="220" y="122" fill="#df875d"/><rect x="224" y="122" fill="#e1875c"/><rect x="228" y="122" fill="#e2865b"/><rect x="232" y="122" fill="#e2855c"/><rect x="60" y="126" fill="#e0402c"/><rect x="64" y="126" fill="#e03f2a"/><rect x="68" y="126" fill="#e0452f"/><rect x="72" y="126" fill="#e0452e"/><rect x="76" y="126" fill="#e04831"/><rect x="80" y="126" fill="#e1543a"/><rect x="84" y="126" fill="#e1583e"/><rect x="88" y="126" fill="#e1563e"/><rect x="92" y="126" fill="#e15d41"/><rect x="96" y="126" fill="#e06d4a"/><rect x="100" y="126" fill="#de7a52"/><rect x="104" y="126" fill="#de7d54"/><rect x="108" y="126" fill="#de7b53"/><rect x="112" y="126" fill="#dd7f55"/><rect x="116" y="126" fill="#da865a"/><rect x="120" y="126" fill="#da875a"/><rect x="124" y="126" fill="#dc8358"/><rect x="128" y="126" fill="#dc8459"/><rect x="132" y="126" fill="#d9885b"/><rect x="136" y="126" fill="#da865a"/><rect x="140" y="126" fill="#dc8358"/><rect x="144" y="126" fill="#db8357"/><rect x="148" y="126" fill="#d98457"/><rect x="152" y="126" fill="#db8357"/><rect x="156" y="126" fill="#dc8156"/><rect x="160" y="126" fill="#da7f55"/><rect x="164" y="126" fill="#d97f55"/><rect x="168" y="126" fill="#dc7f55"/><rect x="172" y="126" fill="#df7f53"/><rect x="176" y="126" fill="#e07f4f"/><rect x="180" y="126" fill="#e07f4f"/><rect x="184" y="126" fill="#e07f53"/><rect x="188" y="126" fill="#e07e53"/><rect x="192" y="126" fill="#e07d50"/><rect x="196" y="126" fill="#e07e52"/><rect x="200" y="126" fill="#df8158"/><rect x="204" y="126" fill="#dc845b"/><rect x="208" y="126" fill="#db845c"/><rect x="212" y="126" fill="#db865e"/><rect x="216" y="126" fill="#db8a61"/><rect x="220" y="126" fill="#db8b61"/><rect x="224" y="126" fill="#dd8861"/><rect x="228" y="126" fill="#de8660"/><rect x="60" y="130" fill="#e0412c"/><rect x="64" y="130" fill="#e03f2a"/><rect x="68" y="130" fill="#e0452f"/><rect x="72" y="130" fill="#e0452e"/><rect x="76" y="130" fill="#e04831"/><rect x="80" y="130" fill="#e0553b"/><rect x="84" y="130" fill="#e1593f"/><rect x="88" y="130" fill="#e1573e"/><rect x="92" y="130" fill="#e15e43"/><rect x="96" y="130" fill="#df6f4c"/><rect x="100" y="130" fill="#de7b53"/><rect x="104" y="130" fill="#de7e54"/><rect x="108" y="130" fill="#dd7d54"/><rect x="112" y="130" fill="#dc8157"/><rect x="116" y="130" fill="#d9875b"/><rect x="120" y="130" fill="#d9875b"/><rect x="124" y="130" fill="#db8459"/><rect x="128" y="130" fill="#db855a"/><rect x="132" y="130" fill="#d9885b"/><rect x="136" y="130" fill="#da875b"/><rect x="140" y="130" fill="#db8559"/><rect x="144" y="130" fill="#da8458"/><rect x="148" y="130" fill="#d98458"/><rect x="152" y="130" fill="#da8458"/><rect x="156" y="130" fill="#db8257"/><rect x="160" y="130" fill="#da7f55"/><rect x="164" y="130" fill="#d97f55"/><rect x="168" y="130" fill="#db8056"/><rect x="172" y="130" fill="#dd8054"/><rect x="176" y="130" fill="#df7f4f"/><rect x="180" y="130" fill="#df7f4f"/><rect x="184" y="130" fill="#de8054"/><rect x="188" y="130" fill="#de7f54"/><rect x="192" y="130" fill="#df7d50"/><rect x="196" y="130" fill="#df7e53"/><rect x="200" y="130" fill="#dd825a"/><rect x="204" y="130" fill="#db845d"/><rect x="208" y="130" fill="#db855c"/><rect x="212" y="130" fill="#da8660"/><rect x="216" y="130" fill="#da8b62"/><rect x="220" y="130" fill="#da8b62"/><rect x="224" y="130" fill="#da8964"/><rect x="228" y="130" fill="#db8764"/><rect x="48" y="134" fill="#e04932"/><rect x="52" y="134" fill="#e04932"/><rect x="56" y="134" fill="#e04831"/><rect x="60" y="134" fill="#e04630"/><rect x="64" y="134" fill="#e04730"/><rect x="68" y="134" fill="#e04b33"/><rect x="72" y="134" fill="#e04d35"/><rect x="76" y="134" fill="#e05138"/><rect x="80" y="134" fill="#e05a40"/><rect x="84" y="134" fill="#e16145"/><rect x="88" y="134" fill="#e16347"/><rect x="92" y="134" fill="#e0694a"/><rect x="96" y="134" fill="#df724f"/><rect x="100" y="134" fill="#dd7a53"/><rect x="104" y="134" fill="#dd7d54"/><rect x="108" y="134" fill="#dc7e56"/><rect x="112" y="134" fill="#db8158"/><rect x="116" y="134" fill="#da845a"/><rect x="120" y="134" fill="#da855a"/><rect x="124" y="134" fill="#da855a"/><rect x="128" y="134" fill="#da865b"/><rect x="132" y="134" fill="#da875c"/><rect x="136" y="134" fill="#da875c"/><rect x="140" y="134" fill="#da865b"/><rect x="144" y="134" fill="#da865a"/><rect x="148" y="134" fill="#da855a"/><rect x="152" y="134" fill="#da855a"/><rect x="156" y="134" fill="#da8359"/><rect x="160" y="134" fill="#da8258"/><rect x="164" y="134" fill="#da8158"/><rect x="168" y="134" fill="#da8158"/><rect x="172" y="134" fill="#db8157"/><rect x="176" y="134" fill="#dc8055"/><rect x="180" y="134" fill="#dc8055"/><rect x="184" y="134" fill="#dc8157"/><rect x="188" y="134" fill="#dc8158"/><rect x="192" y="134" fill="#dc8057"/><rect x="196" y="134" fill="#dc8159"/><rect x="200" y="134" fill="#db835e"/><rect x="204" y="134" fill="#d98561"/><rect x="208" y="134" fill="#d88664"/><rect x="212" y="134" fill="#d6876a"/><rect x="216" y="134" fill="#d5896d"/><rect x="220" y="134" fill="#d6896d"/><rect x="40" y="138" fill="#e0432d"/><rect x="44" y="138" fill="#e0422d"/><rect x="48" y="138" fill="#e0452f"/><rect x="52" y="138" fill="#e04630"/><rect x="56" y="138" fill="#e0442e"/><rect x="60" y="138" fill="#e0452f"/><rect x="64" y="138" fill="#e04a33"/><rect x="68" y="138" fill="#e04e37"/><rect x="72" y="138" fill="#e15038"/><rect x="76" y="138" fill="#e1543b"/><rect x="80" y="138" fill="#e15f44"/><rect x="84" y="138" fill="#e16c4e"/><rect x="88" y="138" fill="#e27354"/><rect x="92" y="138" fill="#e07453"/><rect x="96" y="138" fill="#de7854"/><rect x="100" y="138" fill="#db7f57"/><rect x="104" y="138" fill="#da8258"/><rect x="108" y="138" fill="#db8258"/><rect x="112" y="138" fill="#da845a"/><rect x="116" y="138" fill="#d9895d"/><rect x="120" y="138" fill="#d98a5e"/><rect x="124" y="138" fill="#d9885d"/><rect x="128" y="138" fill="#d98a5e"/><rect x="132" y="138" fill="#d88d61"/><rect x="136" y="138" fill="#d88c60"/><rect x="140" y="138" fill="#d9895e"/><rect x="144" y="138" fill="#d98a5e"/><rect x="148" y="138" fill="#d88b5e"/><rect x="152" y="138" fill="#d8895d"/><rect x="156" y="138" fill="#d9865c"/><rect x="160" y="138" fill="#d9845b"/><rect x="164" y="138" fill="#d9845b"/><rect x="168" y="138" fill="#d9835b"/><rect x="172" y="138" fill="#d9825a"/><rect x="176" y="138" fill="#d98258"/><rect x="180" y="138" fill="#d98258"/><rect x="184" y="138" fill="#d9825b"/><rect x="188" y="138" fill="#d9835c"/><rect x="192" y="138" fill="#d9845c"/><rect x="196" y="138" fill="#d9845e"/><rect x="200" y="138" fill="#d88562"/><rect x="204" y="138" fill="#d78867"/><rect x="208" y="138" fill="#d5896d"/><rect x="212" y="138" fill="#ce8a7c"/><rect x="216" y="138" fill="#c78a8f"/><rect x="220" y="138" fill="#ca8a88"/><rect x="36" y="142" fill="#df442f"/><rect x="40" y="142" fill="#df3f2b"/><rect x="44" y="142" fill="#df3e2a"/><rect x="48" y="142" fill="#e0422d"/><rect x="52" y="142" fill="#e0442e"/><rect x="56" y="142" fill="#e03f2a"/><rect x="60" y="142" fill="#e03f2b"/><rect x="64" y="142" fill="#e04933"/><rect x="68" y="142" fill="#e14f37"/><rect x="72" y="142" fill="#e14c36"/><rect x="76" y="142" fill="#e14f38"/><rect x="80" y="142" fill="#e16146"/><rect x="84" y="142" fill="#e27457"/><rect x="88" y="142" fill="#e37b5d"/><rect x="92" y="142" fill="#e17959"/><rect x="96" y="142" fill="#dd7c57"/><rect x="100" y="142" fill="#d9865a"/><rect x="104" y="142" fill="#d9885b"/><rect x="108" y="142" fill="#d9855a"/><rect x="112" y="142" fill="#d9885c"/><rect x="116" y="142" fill="#d78e61"/><rect x="120" y="142" fill="#d78f61"/><rect x="124" y="142" fill="#d88b5f"/><rect x="128" y="142" fill="#d88e61"/><rect x="132" y="142" fill="#d79365"/><rect x="136" y="142" fill="#d79164"/><rect x="140" y="142" fill="#d88c60"/><rect x="144" y="142" fill="#d78d60"/><rect x="148" y="142" fill="#d78f61"/><rect x="152" y="142" fill="#d78c60"/><rect x="156" y="142" fill="#d8875d"/><rect x="160" y="142" fill="#d8855c"/><rect x="164" y="142" fill="#d8855c"/><rect x="168" y="142" fill="#d8855c"/><rect x="172" y="142" fill="#d7835b"/><rect x="176" y="142" fill="#d88156"/><rect x="180" y="142" fill="#d88156"/><rect x="184" y="142" fill="#d6835d"/><rect x="188" y="142" fill="#d7845f"/><rect x="192" y="142" fill="#d8845c"/><rect x="196" y="142" fill="#d8855d"/><rect x="200" y="142" fill="#d78664"/><rect x="204" y="142" fill="#d68a6a"/><rect x="208" y="142" fill="#d68b69"/><rect x="212" y="142" fill="#ca8b87"/><rect x="216" y="142" fill="#ba8cad"/><rect x="220" y="142" fill="#c08b9f"/><rect x="36" y="146" fill="#df452f"/><rect x="40" y="146" fill="#df402c"/><rect x="44" y="146" fill="#df3f2b"/><rect x="48" y="146" fill="#df432e"/><rect x="52" y="146" fill="#e0452f"/><rect x="56" y="146" fill="#e0412c"/><rect x="60" y="146" fill="#e0422d"/><rect x="64" y="146" fill="#e04b35"/><rect x="68" y="146" fill="#e15139"/><rect x="72" y="146" fill="#e14f38"/><rect x="76" y="146" fill="#e1533b"/><rect x="80" y="146" fill="#e06448"/><rect x="84" y="146" fill="#e17355"/><rect x="88" y="146" fill="#e27a5b"/><rect x="92" y="146" fill="#e07959"/><rect x="96" y="146" fill="#dc7d58"/><rect x="100" y="146" fill="#da845a"/><rect x="104" y="146" fill="#d9875b"/><rect x="108" y="146" fill="#d9855b"/><rect x="112" y="146" fill="#d8885d"/><rect x="116" y="146" fill="#d78d60"/><rect x="120" y="146" fill="#d78d60"/><rect x="124" y="146" fill="#d88b5f"/><rect x="128" y="146" fill="#d88d61"/><rect x="132" y="146" fill="#d79164"/><rect x="136" y="146" fill="#d79063"/><rect x="140" y="146" fill="#d78c60"/><rect x="144" y="146" fill="#d78d60"/><rect x="148" y="146" fill="#d78e61"/><rect x="152" y="146" fill="#d78c60"/><rect x="156" y="146" fill="#d7895f"/><rect x="160" y="146" fill="#d8865d"/><rect x="164" y="146" fill="#d8855d"/><rect x="168" y="146" fill="#d6865f"/><rect x="172" y="146" fill="#d5855f"/><rect x="176" y="146" fill="#d6825a"/><rect x="180" y="146" fill="#d6825b"/><rect x="184" y="146" fill="#d18564"/><rect x="188" y="146" fill="#d38664"/><rect x="192" y="146" fill="#d7855e"/><rect x="196" y="146" fill="#d78560"/><rect x="200" y="146" fill="#d58766"/><rect x="204" y="146" fill="#d58a6b"/><rect x="208" y="146" fill="#d58b6c"/><rect x="212" y="146" fill="#ca8b86"/><rect x="216" y="146" fill="#bd8ca4"/><rect x="220" y="146" fill="#c18b9b"/><rect x="224" y="146" fill="#c98989"/><rect x="36" y="150" fill="#df4730"/><rect x="40" y="150" fill="#df442e"/><rect x="44" y="150" fill="#df442e"/><rect x="48" y="150" fill="#df4630"/><rect x="52" y="150" fill="#e04832"/><rect x="56" y="150" fill="#e04832"/><rect x="60" y="150" fill="#e04a33"/><rect x="64" y="150" fill="#e05039"/><rect x="68" y="150" fill="#e0563e"/><rect x="72" y="150" fill="#e15a41"/><rect x="76" y="150" fill="#e05e45"/><rect x="80" y="150" fill="#df684b"/><rect x="84" y="150" fill="#de7152"/><rect x="88" y="150" fill="#de7655"/><rect x="92" y="150" fill="#dd7956"/><rect x="96" y="150" fill="#db7d58"/><rect x="100" y="150" fill="#da825a"/><rect x="104" y="150" fill="#d9845b"/><rect x="108" y="150" fill="#d9855c"/><rect x="112" y="150" fill="#d8885d"/><rect x="116" y="150" fill="#d78a5f"/><rect x="120" y="150" fill="#d78b60"/><rect x="124" y="150" fill="#d78b60"/><rect x="128" y="150" fill="#d78c61"/><rect x="132" y="150" fill="#d78e62"/><rect x="136" y="150" fill="#d78d62"/><rect x="140" y="150" fill="#d78c61"/><rect x="144" y="150" fill="#d78c60"/><rect x="148" y="150" fill="#d68c61"/><rect x="152" y="150" fill="#d68b61"/><rect x="156" y="150" fill="#d68b61"/><rect x="160" y="150" fill="#d68a61"/><rect x="164" y="150" fill="#d58a62"/><rect x="168" y="150" fill="#d38a64"/><rect x="172" y="150" fill="#d18a67"/><rect x="176" y="150" fill="#ce8a6a"/><rect x="180" y="150" fill="#c98a71"/><rect x="184" y="150" fill="#c38a7a"/><rect x="188" y="150" fill="#c68976"/><rect x="192" y="150" fill="#ce876d"/><rect x="196" y="150" fill="#d18769"/><rect x="200" y="150" fill="#d2876b"/><rect x="204" y="150" fill="#d3896e"/><rect x="208" y="150" fill="#d18973"/><rect x="212" y="150" fill="#cc8a7f"/><rect x="216" y="150" fill="#c78a8c"/><rect x="220" y="150" fill="#c88a8b"/><rect x="224" y="150" fill="#cc8882"/><rect x="36" y="154" fill="#df4630"/><rect x="40" y="154" fill="#df422d"/><rect x="44" y="154" fill="#df412c"/><rect x="48" y="154" fill="#df452f"/><rect x="52" y="154" fill="#e04832"/><rect x="56" y="154" fill="#e04631"/><rect x="60" y="154" fill="#e04832"/><rect x="64" y="154" fill="#e0513a"/><rect x="68" y="154" fill="#e15b44"/><rect x="72" y="154" fill="#e2604a"/><rect x="76" y="154" fill="#e1634b"/><rect x="80" y="154" fill="#de6b4e"/><rect x="84" y="154" fill="#db7553"/><rect x="88" y="154" fill="#d97a56"/><rect x="92" y="154" fill="#d97b57"/><rect x="96" y="154" fill="#d97f59"/><rect x="100" y="154" fill="#d8865d"/><rect x="104" y="154" fill="#d7885f"/><rect x="108" y="154" fill="#d8875e"/><rect x="112" y="154" fill="#d78a5f"/><rect x="116" y="154" fill="#d68f62"/><rect x="120" y="154" fill="#d68f63"/><rect x="124" y="154" fill="#d68d61"/><rect x="128" y="154" fill="#d68e62"/><rect x="132" y="154" fill="#d59064"/><rect x="136" y="154" fill="#d68f63"/><rect x="140" y="154" fill="#d68d61"/><rect x="144" y="154" fill="#d68d61"/><rect x="148" y="154" fill="#d58e61"/><rect x="152" y="154" fill="#d58d62"/><rect x="156" y="154" fill="#d58e63"/><rect x="160" y="154" fill="#d49166"/><rect x="164" y="154" fill="#d39367"/><rect x="168" y="154" fill="#d19069"/><rect x="172" y="154" fill="#cc8f6e"/><rect x="176" y="154" fill="#c79274"/><rect x="180" y="154" fill="#bc9283"/><rect x="184" y="154" fill="#a68fa2"/><rect x="188" y="154" fill="#af8d96"/><rect x="192" y="154" fill="#c08a80"/><rect x="196" y="154" fill="#ca8974"/><rect x="200" y="154" fill="#ce8870"/><rect x="204" y="154" fill="#d08870"/><rect x="208" y="154" fill="#d08873"/><rect x="212" y="154" fill="#cf8979"/><rect x="216" y="154" fill="#cd897e"/><rect x="220" y="154" fill="#cd887e"/><rect x="224" y="154" fill="#cf887a"/><rect x="36" y="158" fill="#df452f"/><rect x="40" y="158" fill="#df3f2b"/><rect x="44" y="158" fill="#df3e2a"/><rect x="48" y="158" fill="#df432e"/><rect x="52" y="158" fill="#e04731"/><rect x="56" y="158" fill="#e0422e"/><rect x="60" y="158" fill="#e0432e"/><rect x="64" y="158" fill="#e0513a"/><rect x="68" y="158" fill="#e25e48"/><rect x="72" y="158" fill="#e3624d"/><rect x="76" y="158" fill="#e3634d"/><rect x="80" y="158" fill="#de6c4f"/><rect x="84" y="158" fill="#d97955"/><rect x="88" y="158" fill="#d77c57"/><rect x="92" y="158" fill="#d87c57"/><rect x="96" y="158" fill="#d8805a"/><rect x="100" y="158" fill="#d78960"/><rect x="104" y="158" fill="#d78b61"/><rect x="108" y="158" fill="#d7895f"/><rect x="112" y="158" fill="#d68c61"/><rect x="116" y="158" fill="#d59365"/><rect x="120" y="158" fill="#d59365"/><rect x="124" y="158" fill="#d68e63"/><rect x="128" y="158" fill="#d58f63"/><rect x="132" y="158" fill="#d59365"/><rect x="136" y="158" fill="#d59265"/><rect x="140" y="158" fill="#d58e62"/><rect x="144" y="158" fill="#d58e61"/><rect x="148" y="158" fill="#d58f62"/><rect x="152" y="158" fill="#d58e62"/><rect x="156" y="158" fill="#d48f64"/><rect x="160" y="158" fill="#d39568"/><rect x="164" y="158" fill="#d29768"/><rect x="168" y="158" fill="#d1936a"/><rect x="172" y="158" fill="#cb9271"/><rect x="176" y="158" fill="#c99771"/><rect x="180" y="158" fill="#c2967b"/><rect x="184" y="158" fill="#9090bf"/><rect x="188" y="158" fill="#a08fab"/><rect x="200" y="158" fill="#cb8975"/><rect x="204" y="158" fill="#ce8873"/><rect x="208" y="158" fill="#cf8873"/><rect x="212" y="158" fill="#d08874"/><rect x="36" y="162" fill="#df4630"/><rect x="40" y="162" fill="#df422d"/><rect x="44" y="162" fill="#df412c"/><rect x="48" y="162" fill="#df4630"/><rect x="52" y="162" fill="#e04933"/><rect x="56" y="162" fill="#e04732"/><rect x="60" y="162" fill="#e04933"/><rect x="64" y="162" fill="#e0553d"/><rect x="68" y="162" fill="#e15f47"/><rect x="72" y="162" fill="#e2634c"/><rect x="76" y="162" fill="#e1664d"/><rect x="80" y="162" fill="#dd6e50"/><rect x="84" y="162" fill="#da7754"/><rect x="88" y="162" fill="#d87b56"/><rect x="92" y="162" fill="#d87c57"/><rect x="96" y="162" fill="#d8805a"/><rect x="100" y="162" fill="#d7865e"/><rect x="104" y="162" fill="#d78960"/><rect x="108" y="162" fill="#d7885f"/><rect x="112" y="162" fill="#d68a61"/><rect x="116" y="162" fill="#d58f63"/><rect x="120" y="162" fill="#d58f63"/><rect x="124" y="162" fill="#d58d63"/><rect x="128" y="162" fill="#d58e63"/><rect x="132" y="162" fill="#d59164"/><rect x="136" y="162" fill="#d58f64"/><rect x="140" y="162" fill="#d58d62"/><rect x="144" y="162" fill="#d58d62"/><rect x="148" y="162" fill="#d58e62"/><rect x="152" y="162" fill="#d48e63"/><rect x="156" y="162" fill="#d48f65"/><rect x="160" y="162" fill="#d39368"/><rect x="164" y="162" fill="#d29469"/><rect x="168" y="162" fill="#cf926c"/><rect x="172" y="162" fill="#ca9273"/><rect x="176" y="162" fill="#c59478"/><rect x="180" y="162" fill="#ba9388"/><rect x="184" y="162" fill="#a390a6"/><rect x="188" y="162" fill="#a98f9f"/><rect x="32" y="166" fill="#df4932"/><rect x="36" y="166" fill="#df4630"/><rect x="40" y="166" fill="#df452f"/><rect x="44" y="166" fill="#df4731"/><rect x="48" y="166" fill="#e04933"/><rect x="52" y="166" fill="#e04a34"/><rect x="56" y="166" fill="#e04d36"/><rect x="60" y="166" fill="#e0533b"/><rect x="64" y="166" fill="#e15d43"/><rect x="68" y="166" fill="#e16349"/><rect x="72" y="166" fill="#e0664b"/><rect x="76" y="166" fill="#df6b4e"/><rect x="80" y="166" fill="#dc7251"/><rect x="84" y="166" fill="#da7754"/><rect x="88" y="166" fill="#d97a55"/><rect x="92" y="166" fill="#d87d58"/><rect x="96" y="166" fill="#d8815a"/><rect x="100" y="166" fill="#d7845c"/><rect x="104" y="166" fill="#d7865e"/><rect x="108" y="166" fill="#d6885f"/><rect x="112" y="166" fill="#d48b62"/><rect x="116" y="166" fill="#d48c62"/><rect x="120" y="166" fill="#d48c63"/><rect x="124" y="166" fill="#d38d64"/><rect x="128" y="166" fill="#d28e65"/><rect x="132" y="166" fill="#d38e64"/><rect x="136" y="166" fill="#d48d63"/><rect x="140" y="166" fill="#d38d63"/><rect x="144" y="166" fill="#d38d63"/><rect x="148" y="166" fill="#d48d63"/><rect x="152" y="166" fill="#d48d64"/><rect x="156" y="166" fill="#d38f66"/><rect x="160" y="166" fill="#d39068"/><rect x="164" y="166" fill="#d1916a"/><rect x="168" y="166" fill="#cf926f"/><rect x="172" y="166" fill="#cc9375"/><rect x="176" y="166" fill="#c5947e"/><rect x="180" y="166" fill="#ba938e"/><rect x="184" y="166" fill="#b2929a"/><rect x="188" y="166" fill="#b39197"/><rect x="28" y="170" fill="#df4c34"/><rect x="32" y="170" fill="#df4630"/><rect x="36" y="170" fill="#df402c"/><rect x="40" y="170" fill="#e0412c"/><rect x="44" y="170" fill="#e04731"/><rect x="48" y="170" fill="#e04832"/><rect x="52" y="170" fill="#e04430"/><rect x="56" y="170" fill="#e04833"/><rect x="60" y="170" fill="#e0563d"/><rect x="64" y="170" fill="#e26448"/><rect x="68" y="170" fill="#e3694d"/><rect x="72" y="170" fill="#e1694d"/><rect x="76" y="170" fill="#de6e4f"/><rect x="80" y="170" fill="#da7652"/><rect x="84" y="170" fill="#d77b54"/><rect x="88" y="170" fill="#d87c55"/><rect x="92" y="170" fill="#d87f59"/><rect x="96" y="170" fill="#d6865d"/><rect x="100" y="170" fill="#d5865e"/><rect x="104" y="170" fill="#d6865e"/><rect x="108" y="170" fill="#d48b62"/><rect x="112" y="170" fill="#d09166"/><rect x="116" y="170" fill="#d18f65"/><rect x="120" y="170" fill="#d38c64"/><rect x="124" y="170" fill="#d09068"/><rect x="128" y="170" fill="#cc956d"/><rect x="132" y="170" fill="#cf9169"/><rect x="136" y="170" fill="#d28d64"/><rect x="140" y="170" fill="#d19066"/><rect x="144" y="170" fill="#d09167"/><rect x="148" y="170" fill="#d28e65"/><rect x="152" y="170" fill="#d38e65"/><rect x="156" y="170" fill="#d39168"/><rect x="160" y="170" fill="#d39268"/><rect x="164" y="170" fill="#d2916a"/><rect x="168" y="170" fill="#d0946f"/><rect x="172" y="170" fill="#d09872"/><rect x="176" y="170" fill="#ca977b"/><rect x="180" y="170" fill="#b096a4"/><rect x="184" y="170" fill="#a696b4"/><rect x="188" y="170" fill="#af94a3"/><rect x="28" y="174" fill="#df4c35"/><rect x="32" y="174" fill="#df452f"/><rect x="36" y="174" fill="#e03f2a"/><rect x="40" y="174" fill="#e03f2a"/><rect x="44" y="174" fill="#e04731"/><rect x="48" y="174" fill="#e04832"/><rect x="52" y="174" fill="#e0422e"/><rect x="56" y="174" fill="#e04631"/><rect x="60" y="174" fill="#e0573e"/><rect x="64" y="174" fill="#e2664a"/><rect x="68" y="174" fill="#e3694d"/><rect x="72" y="174" fill="#e26a4d"/><rect x="76" y="174" fill="#de7050"/><rect x="80" y="174" fill="#d97853"/><rect x="84" y="174" fill="#d77c54"/><rect x="88" y="174" fill="#d77c55"/><rect x="92" y="174" fill="#d78059"/><rect x="96" y="174" fill="#d5875e"/><rect x="100" y="174" fill="#d5885e"/><rect x="104" y="174" fill="#d6865e"/><rect x="108" y="174" fill="#d38b63"/><rect x="112" y="174" fill="#cf9368"/><rect x="116" y="174" fill="#d09066"/><rect x="120" y="174" fill="#d38b63"/><rect x="124" y="174" fill="#ce916a"/><rect x="128" y="174" fill="#cb976f"/><rect x="132" y="174" fill="#ce916a"/><rect x="136" y="174" fill="#d28c64"/><rect x="140" y="174" fill="#d09167"/><rect x="144" y="174" fill="#cf9368"/><rect x="148" y="174" fill="#d28e65"/><rect x="152" y="174" fill="#d38d65"/><rect x="156" y="174" fill="#d39368"/><rect x="160" y="174" fill="#d39368"/><rect x="164" y="174" fill="#d2916a"/><rect x="168" y="174" fill="#d1956f"/><rect x="172" y="174" fill="#d29a70"/><rect x="176" y="174" fill="#cd9978"/><rect x="180" y="174" fill="#aa97ae"/><rect x="184" y="174" fill="#a197be"/><rect x="188" y="174" fill="#ad95a9"/><rect x="28" y="178" fill="#df4f37"/><rect x="32" y="178" fill="#e04b33"/><rect x="36" y="178" fill="#e04630"/><rect x="40" y="178" fill="#e04731"/><rect x="44" y="178" fill="#e04d35"/><rect x="48" y="178" fill="#e04f36"/><rect x="52" y="178" fill="#e04c35"/><rect x="56" y="178" fill="#e05038"/><rect x="60" y="178" fill="#e05b41"/><rect x="64" y="178" fill="#e16549"/><rect x="68" y="178" fill="#e26a4d"/><rect x="72" y="178" fill="#e16d4f"/><rect x="76" y="178" fill="#de7151"/><rect x="80" y="178" fill="#db7754"/><rect x="84" y="178" fill="#d97a55"/><rect x="88" y="178" fill="#d97b56"/><rect x="92" y="178" fill="#d97e59"/><rect x="96" y="178" fill="#d7825c"/><rect x="100" y="178" fill="#d7835c"/><rect x="104" y="178" fill="#d8835d"/><rect x="108" y="178" fill="#d6865f"/><rect x="112" y="178" fill="#d38a62"/><rect x="116" y="178" fill="#d48861"/><rect x="120" y="178" fill="#d6855f"/><rect x="124" y="178" fill="#d38963"/><rect x="128" y="178" fill="#d18c66"/><rect x="132" y="178" fill="#d38862"/><rect x="136" y="178" fill="#d5855f"/><rect x="140" y="178" fill="#d38961"/><rect x="144" y="178" fill="#d38a62"/><rect x="148" y="178" fill="#d5875f"/><rect x="152" y="178" fill="#d58861"/><rect x="156" y="178" fill="#d48d65"/><rect x="160" y="178" fill="#d38f66"/><rect x="164" y="178" fill="#d38f69"/><rect x="168" y="178" fill="#d1926e"/><rect x="172" y="178" fill="#d09673"/><rect x="176" y="178" fill="#ca977c"/><rect x="180" y="178" fill="#ba9696"/><rect x="184" y="178" fill="#b196a4"/><rect x="188" y="178" fill="#b7949a"/><rect x="28" y="182" fill="#e05339"/><rect x="32" y="182" fill="#e05038"/><rect x="36" y="182" fill="#e05037"/><rect x="40" y="182" fill="#e05138"/><rect x="44" y="182" fill="#e0553a"/><rect x="48" y="182" fill="#e0593c"/><rect x="52" y="182" fill="#e05a3d"/><rect x="56" y="182" fill="#e05b3f"/><rect x="60" y="182" fill="#e06044"/><rect x="64" y="182" fill="#e1674a"/><rect x="68" y="182" fill="#e16d4f"/><rect x="72" y="182" fill="#e17253"/><rect x="76" y="182" fill="#e07454"/><rect x="80" y="182" fill="#dd7655"/><rect x="84" y="182" fill="#dc7958"/><rect x="88" y="182" fill="#db7b59"/><rect x="92" y="182" fill="#db7c5a"/><rect x="96" y="182" fill="#da7e5b"/><rect x="100" y="182" fill="#da7e5c"/><rect x="104" y="182" fill="#da7e5c"/><rect x="108" y="182" fill="#da7f5c"/><rect x="112" y="182" fill="#d97f5b"/><rect x="116" y="182" fill="#db7b58"/><rect x="120" y="182" fill="#db7b57"/><rect x="124" y="182" fill="#d97d59"/><rect x="128" y="182" fill="#d87c58"/><rect x="132" y="182" fill="#da7854"/><rect x="136" y="182" fill="#da7855"/><rect x="140" y="182" fill="#d87c57"/><rect x="144" y="182" fill="#d97a56"/><rect x="148" y="182" fill="#da7753"/><rect x="152" y="182" fill="#d97c58"/><rect x="156" y="182" fill="#d6855f"/><rect x="160" y="182" fill="#d58a63"/><rect x="164" y="182" fill="#d58c65"/><rect x="168" y="182" fill="#d3906a"/><rect x="172" y="182" fill="#d19572"/><rect x="176" y="182" fill="#d09979"/><rect x="180" y="182" fill="#cc9a80"/><rect x="184" y="182" fill="#c69786"/><rect x="188" y="182" fill="#c49487"/><rect x="32" y="186" fill="#e05239"/><rect x="36" y="186" fill="#e05038"/><rect x="40" y="186" fill="#e05138"/><rect x="44" y="186" fill="#e0583c"/><rect x="48" y="186" fill="#e15f3f"/><rect x="52" y="186" fill="#e15f40"/><rect x="56" y="186" fill="#e16042"/><rect x="60" y="186" fill="#e06446"/><rect x="64" y="186" fill="#e16b4c"/><rect x="68" y="186" fill="#e27353"/><rect x="72" y="186" fill="#e37757"/><rect x="76" y="186" fill="#e27757"/><rect x="80" y="186" fill="#df7757"/><rect x="84" y="186" fill="#dd7a5b"/><rect x="88" y="186" fill="#dc7b5d"/><rect x="92" y="186" fill="#dc7b5c"/><rect x="96" y="186" fill="#db7c5b"/><rect x="100" y="186" fill="#dc7c5d"/><rect x="104" y="186" fill="#dc7c5d"/><rect x="108" y="186" fill="#dc7c5b"/><rect x="112" y="186" fill="#dd7856"/><rect x="116" y="186" fill="#e07251"/><rect x="120" y="186" fill="#e07151"/><rect x="124" y="186" fill="#dd7654"/><rect x="128" y="186" fill="#dd7250"/><rect x="132" y="186" fill="#df6949"/><rect x="136" y="186" fill="#de6c4b"/><rect x="140" y="186" fill="#db7350"/><rect x="144" y="186" fill="#dd6d4b"/><rect x="148" y="186" fill="#df6545"/><rect x="152" y="186" fill="#dc6f4d"/><rect x="156" y="186" fill="#d8815b"/><rect x="160" y="186" fill="#d68a61"/><rect x="164" y="186" fill="#d68b62"/><rect x="168" y="186" fill="#d58e67"/><rect x="172" y="186" fill="#d49771"/><rect x="176" y="186" fill="#d6a279"/><rect x="180" y="186" fill="#d5a279"/><rect x="184" y="186" fill="#d09b7b"/><rect x="188" y="186" fill="#cc957c"/><rect x="32" y="190" fill="#e0543a"/><rect x="36" y="190" fill="#e05138"/><rect x="40" y="190" fill="#e05138"/><rect x="44" y="190" fill="#e0593d"/><rect x="48" y="190" fill="#e15f40"/><rect x="52" y="190" fill="#e16040"/><rect x="56" y="190" fill="#e16244"/><rect x="60" y="190" fill="#e06748"/><rect x="64" y="190" fill="#e16d4e"/><rect x="68" y="190" fill="#e27454"/><rect x="72" y="190" fill="#e37757"/><rect x="76" y="190" fill="#e27757"/><rect x="80" y="190" fill="#df7858"/><rect x="84" y="190" fill="#dd7a5b"/><rect x="88" y="190" fill="#dc7b5d"/><rect x="92" y="190" fill="#dc7b5c"/><rect x="96" y="190" fill="#dc7c5b"/><rect x="100" y="190" fill="#dc7c5c"/><rect x="104" y="190" fill="#dc7b5d"/><rect x="108" y="190" fill="#dc7b5a"/><rect x="112" y="190" fill="#de7755"/><rect x="116" y="190" fill="#e17151"/><rect x="120" y="190" fill="#e17150"/><rect x="124" y="190" fill="#de7352"/><rect x="128" y="190" fill="#dd6f4e"/><rect x="132" y="190" fill="#df6949"/><rect x="136" y="190" fill="#de6b4a"/><rect x="140" y="190" fill="#dc704e"/><rect x="144" y="190" fill="#dd6b4a"/><rect x="148" y="190" fill="#df6545"/><rect x="152" y="190" fill="#dd6e4c"/><rect x="156" y="190" fill="#d97f5a"/><rect x="160" y="190" fill="#d78a61"/><rect x="164" y="190" fill="#d68b62"/><rect x="168" y="190" fill="#d68e66"/><rect x="172" y="190" fill="#d59770"/><rect x="176" y="190" fill="#d6a278"/><rect x="180" y="190" fill="#d6a379"/><rect x="184" y="190" fill="#d39c77"/><rect x="188" y="190" fill="#d09676"/><rect x="28" y="194" fill="#e0573b"/><rect x="32" y="194" fill="#e0563b"/><rect x="36" y="194" fill="#e0563b"/><rect x="40" y="194" fill="#e0583c"/><rect x="44" y="194" fill="#e05d3f"/><rect x="48" y="194" fill="#e16143"/><rect x="52" y="194" fill="#e16445"/><rect x="56" y="194" fill="#e16849"/><rect x="60" y="194" fill="#e16a4b"/><rect x="64" y="194" fill="#e06e4e"/><rect x="68" y="194" fill="#e17252"/><rect x="72" y="194" fill="#e17555"/><rect x="76" y="194" fill="#e07656"/><rect x="80" y="194" fill="#de7958"/><rect x="84" y="194" fill="#dc7b5a"/><rect x="88" y="194" fill="#dc7c5b"/><rect x="92" y="194" fill="#dc7c5b"/><rect x="96" y="194" fill="#dc7c5a"/><rect x="100" y="194" fill="#dd7b5b"/><rect x="104" y="194" fill="#dd7b5a"/><rect x="108" y="194" fill="#dd7958"/><rect x="112" y="194" fill="#de7755"/><rect x="116" y="194" fill="#de7452"/><rect x="120" y="194" fill="#de7351"/><rect x="124" y="194" fill="#dd7351"/><rect x="128" y="194" fill="#dd704f"/><rect x="132" y="194" fill="#dd6d4d"/><rect x="136" y="194" fill="#dc6e4d"/><rect x="140" y="194" fill="#dc704e"/><rect x="144" y="194" fill="#dc6f4d"/><rect x="148" y="194" fill="#dd6e4c"/><rect x="152" y="194" fill="#db7451"/><rect x="156" y="194" fill="#d97f59"/><rect x="160" y="194" fill="#d78760"/><rect x="164" y="194" fill="#d78b63"/><rect x="168" y="194" fill="#d68f67"/><rect x="172" y="194" fill="#d6956d"/><rect x="176" y="194" fill="#d59a72"/><rect x="180" y="194" fill="#d59b74"/><rect x="184" y="194" fill="#d49873"/><rect x="24" y="198" fill="#e0573b"/><rect x="28" y="198" fill="#e0563a"/><rect x="32" y="198" fill="#e0563a"/><rect x="36" y="198" fill="#e0593c"/><rect x="40" y="198" fill="#e05c3e"/><rect x="44" y="198" fill="#e05f40"/><rect x="48" y="198" fill="#e16748"/><rect x="52" y="198" fill="#e27051"/><rect x="56" y="198" fill="#e27152"/><rect x="60" y="198" fill="#e16f4f"/><rect x="64" y="198" fill="#e06f4f"/><rect x="68" y="198" fill="#e07151"/><rect x="72" y="198" fill="#df7454"/><rect x="76" y="198" fill="#de7756"/><rect x="80" y="198" fill="#dc7a58"/><rect x="84" y="198" fill="#da7e5b"/><rect x="88" y="198" fill="#d9805c"/><rect x="92" y="198" fill="#da7f5c"/><rect x="96" y="198" fill="#dd7c5a"/><rect x="100" y="198" fill="#df7a59"/><rect x="104" y="198" fill="#e07958"/><rect x="108" y="198" fill="#df7857"/><rect x="112" y="198" fill="#de7553"/><rect x="116" y="198" fill="#de704f"/><rect x="120" y="198" fill="#de6f4e"/><rect x="124" y="198" fill="#dd704f"/><rect x="128" y="198" fill="#dc6d4c"/><rect x="132" y="198" fill="#dc6748"/><rect x="136" y="198" fill="#dc694a"/><rect x="140" y="198" fill="#dc6e4d"/><rect x="144" y="198" fill="#dd6d4b"/><rect x="148" y="198" fill="#dd6b49"/><rect x="152" y="198" fill="#dc724f"/><rect x="156" y="198" fill="#d97e59"/><rect x="160" y="198" fill="#d78760"/><rect x="164" y="198" fill="#d78b63"/><rect x="168" y="198" fill="#d69168"/><rect x="172" y="198" fill="#d6976e"/><rect x="176" y="198" fill="#d69870"/><rect x="180" y="198" fill="#d59770"/><rect x="24" y="202" fill="#e0563a"/><rect x="28" y="202" fill="#e05438"/><rect x="32" y="202" fill="#e05438"/><rect x="36" y="202" fill="#e0593c"/><rect x="40" y="202" fill="#e05c3d"/><rect x="44" y="202" fill="#e05c3c"/><rect x="48" y="202" fill="#e16a4a"/><rect x="52" y="202" fill="#e37b5b"/><rect x="56" y="202" fill="#e37959"/><rect x="60" y="202" fill="#e27253"/><rect x="76" y="202" fill="#dd7856"/><rect x="80" y="202" fill="#db7c5a"/><rect x="84" y="202" fill="#d8815d"/><rect x="88" y="202" fill="#d7835e"/><rect x="92" y="202" fill="#d8825d"/><rect x="96" y="202" fill="#dd7d5b"/><rect x="100" y="202" fill="#e27958"/><rect x="104" y="202" fill="#e37858"/><rect x="108" y="202" fill="#e07857"/><rect x="112" y="202" fill="#de7351"/><rect x="116" y="202" fill="#df6949"/><rect x="120" y="202" fill="#df6949"/><rect x="124" y="202" fill="#dd6e4e"/><rect x="128" y="202" fill="#dc6849"/><rect x="132" y="202" fill="#dc5c40"/><rect x="136" y="202" fill="#db6143"/><rect x="140" y="202" fill="#dc6c4b"/><rect x="144" y="202" fill="#de6746"/><rect x="148" y="202" fill="#df6040"/><rect x="152" y="202" fill="#dd6a48"/><rect x="156" y="202" fill="#d97f59"/><rect x="160" y="202" fill="#d78a61"/><rect x="164" y="202" fill="#d78c62"/><rect x="168" y="202" fill="#d79269"/><rect x="172" y="202" fill="#d69d72"/><rect x="176" y="202" fill="#d69c71"/><rect x="180" y="202" fill="#d6976f"/><rect x="24" y="206" fill="#e0573b"/><rect x="28" y="206" fill="#e05539"/><rect x="32" y="206" fill="#e05539"/><rect x="36" y="206" fill="#e05a3d"/><rect x="40" y="206" fill="#e05d3e"/><rect x="44" y="206" fill="#e05e3e"/><rect x="48" y="206" fill="#e1694a"/><rect x="52" y="206" fill="#e37858"/><rect x="56" y="206" fill="#e37757"/><rect x="60" y="206" fill="#e17252"/><rect x="76" y="206" fill="#dc7956"/><rect x="80" y="206" fill="#da7d5a"/><rect x="84" y="206" fill="#d8815d"/><rect x="88" y="206" fill="#d7835e"/><rect x="92" y="206" fill="#d9825d"/><rect x="96" y="206" fill="#dc805c"/><rect x="100" y="206" fill="#e17b59"/><rect x="104" y="206" fill="#e27958"/><rect x="108" y="206" fill="#df7b58"/><rect x="112" y="206" fill="#dd7754"/><rect x="116" y="206" fill="#de6d4c"/><rect x="120" y="206" fill="#df6c4c"/><rect x="124" y="206" fill="#dd7251"/><rect x="128" y="206" fill="#dc6d4d"/><rect x="132" y="206" fill="#db6244"/><rect x="136" y="206" fill="#db6648"/><rect x="140" y="206" fill="#db714f"/><rect x="144" y="206" fill="#dd6d4b"/><rect x="148" y="206" fill="#de6644"/><rect x="152" y="206" fill="#dc714d"/><rect x="156" y="206" fill="#d9815a"/><rect x="160" y="206" fill="#d78a61"/><rect x="164" y="206" fill="#d78c62"/><rect x="168" y="206" fill="#d79268"/><rect x="172" y="206" fill="#d79b70"/><rect x="176" y="206" fill="#d69a70"/><rect x="24" y="210" fill="#e05a3c"/><rect x="28" y="210" fill="#e0593c"/><rect x="32" y="210" fill="#e05a3c"/><rect x="36" y="210" fill="#e05c3e"/><rect x="40" y="210" fill="#e06041"/><rect x="44" y="210" fill="#e16444"/><rect x="48" y="210" fill="#e16848"/><rect x="52" y="210" fill="#e16e4e"/><rect x="56" y="210" fill="#e17050"/><rect x="60" y="210" fill="#e17050"/><rect x="80" y="210" fill="#db7d59"/><rect x="84" y="210" fill="#d9805c"/><rect x="88" y="210" fill="#d9835d"/><rect x="92" y="210" fill="#d9865f"/><rect x="96" y="210" fill="#da8a62"/><rect x="100" y="210" fill="#db8861"/><rect x="104" y="210" fill="#dd825d"/><rect x="108" y="210" fill="#dc825d"/><rect x="112" y="210" fill="#da825d"/><rect x="116" y="210" fill="#db7d59"/><rect x="120" y="210" fill="#dc7957"/><rect x="124" y="210" fill="#dc7b5a"/><rect x="128" y="210" fill="#dc7b5b"/><rect x="132" y="210" fill="#db7756"/><rect x="136" y="210" fill="#db7755"/><rect x="140" y="210" fill="#da7e58"/><rect x="144" y="210" fill="#d97f59"/><rect x="148" y="210" fill="#da7f58"/><rect x="152" y="210" fill="#d9865e"/><rect x="156" y="210" fill="#d88a61"/><rect x="160" y="210" fill="#d88a62"/><rect x="164" y="210" fill="#d78c63"/><rect x="168" y="210" fill="#d79067"/><rect x="172" y="210" fill="#d7946b"/><rect x="24" y="214" fill="#e05b3e"/><rect x="28" y="214" fill="#e05b3d"/><rect x="32" y="214" fill="#e05a3c"/><rect x="36" y="214" fill="#e05b3d"/><rect x="40" y="214" fill="#e06243"/><rect x="44" y="214" fill="#e16747"/><rect x="48" y="214" fill="#e16747"/><rect x="52" y="214" fill="#e16949"/><rect x="80" y="214" fill="#db7c59"/><rect x="84" y="214" fill="#da805b"/><rect x="88" y="214" fill="#da855f"/><rect x="92" y="214" fill="#d98d64"/><rect x="96" y="214" fill="#d7976a"/><rect x="100" y="214" fill="#d7976a"/><rect x="104" y="214" fill="#d98c63"/><rect x="108" y="214" fill="#d98962"/><rect x="112" y="214" fill="#d78d65"/><rect x="116" y="214" fill="#d88b63"/><rect x="120" y="214" fill="#da835f"/><rect x="124" y="214" fill="#dc8363"/><rect x="128" y="214" fill="#dc8667"/><rect x="132" y="214" fill="#dc8362"/><rect x="136" y="214" fill="#da835e"/><rect x="140" y="214" fill="#d88960"/><rect x="144" y="214" fill="#d78b61"/><rect x="148" y="214" fill="#d88d63"/><rect x="152" y="214" fill="#d7976a"/><rect x="156" y="214" fill="#d79569"/><rect x="160" y="214" fill="#d78e64"/><rect x="164" y="214" fill="#d78c64"/><rect x="168" y="214" fill="#d78d65"/><rect x="24" y="218" fill="#e05c3e"/><rect x="28" y="218" fill="#e05b3d"/><rect x="32" y="218" fill="#e05a3c"/><rect x="36" y="218" fill="#e05b3d"/><rect x="40" y="218" fill="#e06243"/><rect x="44" y="218" fill="#e16747"/><rect x="84" y="218" fill="#db805b"/><rect x="88" y="218" fill="#da865f"/><rect x="92" y="218" fill="#d88f65"/><rect x="96" y="218" fill="#d7976a"/><rect x="100" y="218" fill="#d7976a"/><rect x="104" y="218" fill="#d88e65"/><rect x="108" y="218" fill="#d88b63"/><rect x="112" y="218" fill="#d78e65"/><rect x="116" y="218" fill="#d78c64"/><rect x="120" y="218" fill="#da8661"/><rect x="124" y="218" fill="#dc8564"/><rect x="128" y="218" fill="#dc8667"/><rect x="132" y="218" fill="#dc8765"/><rect x="136" y="218" fill="#da8963"/><rect x="140" y="218" fill="#d88b61"/><rect x="144" y="218" fill="#d78b61"/><rect x="148" y="218" fill="#d78f64"/><rect x="152" y="218" fill="#d7986b"/><rect x="156" y="218" fill="#d79669"/><rect x="160" y="218" fill="#d79066"/><rect x="164" y="218" fill="#d88c64"/><rect x="124" y="222" fill="#db8763"/><rect x="128" y="222" fill="#dc8a66"/><rect x="132" y="222" fill="#dc9269"/><rect x="136" y="222" fill="#dc966b"/><rect x="140" y="222" fill="#da9066"/><rect x="144" y="222" fill="#d88d63"/><rect x="148" y="222" fill="#d88e64"/><rect x="152" y="222" fill="#d89266"/><rect x="156" y="222" fill="#d89166"/><rect x="128" y="226" fill="#dc9269"/><rect x="132" y="226" fill="#dd9f70"/><rect x="136" y="226" fill="#dda272"/><rect x="140" y="226" fill="#dc996c"/><rect x="144" y="226" fill="#da9066"/><rect x="148" y="226" fill="#d98d64"/><rect x="152" y="226" fill="#d88d64"/><rect x="128" y="230" fill="#dc9469"/><rect x="132" y="230" fill="#dd9d6f"/><rect x="136" y="230" fill="#dda071"/><rect x="140" y="230" fill="#dc996c"/><rect x="144" y="230" fill="#db9167"/>
</g>
<g mask="url(#mtex)"><use href="#temf" filter="url(#tex)"/></g>
<g clip-path="url(#clipS)"><path d="M153.0,35.4 L155.5,34.0 L157.5,33.6 L161.0,36.0 L165.5,35.2 L169.0,36.2 L171.8,38.0 L170.0,40.7 L171.8,43.4 L176.2,43.4 L177.1,40.7 L178.9,41.6 L179.8,45.2 L183.4,46.0 L184.3,49.6 L185.2,56.8 L184.3,61.2 L180.7,63.0 L177.1,64.8 L176.2,68.4 L175.4,72.9 L177.1,75.5 L182.9,78.6 L193.6,77.5 L195.0,78.4 L198.6,78.4 L202.1,76.6 L205.7,74.8 L209.3,74.8 L212.9,75.7 L217.3,75.7 L220.0,73.9 L221.8,74.8 L222.7,78.4 L221.8,82.0 L224.5,83.8 L228.0,84.6 L231.6,85.5 L235.2,87.3 L238.8,88.2 L240.5,90.0 L239.6,93.6 L238.8,98.9 L238.8,104.3 L237.0,107.9 L236.1,110.5 L235.0,113.6 L231.6,117.1 L228.9,119.8 L228.0,123.4 L225.4,127.0 L221.8,127.9 L218.2,128.8 L214.6,130.5 L212.9,132.3 L212.0,135.0 L212.9,137.7 L216.4,138.6 L217.3,142.1 L218.2,145.7 L220.0,148.4 L222.7,151.1 L220.0,152.9 L216.4,152.9 L212.9,153.8 L209.3,155.5 L205.7,154.6 L200.4,153.8 L195.0,152.9 L191.2,152.5 L188.6,154.3 L186.8,156.1 L185.9,158.8 L185.9,162.3 L186.8,165.9 L185.9,169.5 L185.0,173.9 L185.9,177.5 L186.5,182.0 L186.0,186.0 L184.5,189.0 L182.5,191.6 L178.9,193.4 L177.1,197.9 L176.2,202.3 L173.6,205.9 L169.1,209.5 L164.6,212.1 L160.2,215.7 L156.6,218.4 L153.9,221.1 L150.4,223.5 L148.6,223.6 L145.7,225.0 L143.6,225.7 L142.1,228.6 L140.0,230.0 L137.1,230.7 L134.3,230.0 L132.9,227.1 L132.9,223.6 L130.7,221.4 L127.9,219.3 L125.7,217.1 L122.9,217.1 L118.6,217.9 L113.6,217.9 L110.0,217.1 L106.4,217.9 L102.9,216.4 L100.2,214.8 L96.6,213.0 L93.0,214.8 L89.5,214.8 L86.8,211.2 L85.0,208.6 L82.9,205.0 L81.4,202.1 L80.0,198.6 L78.6,195.7 L76.4,196.4 L74.3,195.0 L71.4,195.0 L69.3,194.3 L68.6,191.4 L66.4,189.3 L64.3,188.6 L61.4,189.3 L59.3,190.7 L57.9,193.6 L56.4,197.9 L57.1,202.1 L56.4,207.9 L52.5,210.7 L48.0,213.4 L43.6,215.2 L39.1,216.4 L35.5,217.5 L32.9,217.0 L30.2,215.2 L28.4,212.5 L26.6,209.8 L27.5,207.1 L30.2,203.6 L32.9,200.0 L36.4,198.2 L40.0,194.6 L41.8,192.0 L42.7,188.4 L41.8,185.7 L38.2,183.0 L34.6,180.4 L33.4,177.3 L37.9,172.9 L40.5,167.5 L43.2,162.1 L44.1,156.8 L43.2,151.4 L42.3,147.0 L46.8,144.3 L51.2,141.6 L55.7,141.6 L64.5,141.6 L67.0,140.0 L67.2,137.9 L67.5,134.3 L66.8,130.7 L67.1,129.3 L69.3,127.9 L71.4,126.4 L74.3,125.7 L77.1,124.3 L81.4,123.6 L85.0,122.1 L87.1,120.0 L89.3,116.4 L90.0,113.6 L89.3,110.0 L87.9,107.9 L86.4,105.0 L87.1,102.9 L90.7,101.4 L93.6,100.7 L96.4,100.0 L99.3,98.6 L102.1,97.9 L104.3,95.7 L105.0,92.9 L106.4,90.0 L109.3,87.9 L113.6,87.9 L117.9,86.4 L120.7,84.0 L122.1,81.4 L122.9,77.9 L124.3,75.0 L127.1,72.1 L130.0,70.7 L131.4,68.6 L132.1,65.7 L132.9,62.9 L132.1,60.0 L132.9,56.4 L135.0,54.3 L138.6,54.3 L144.3,55.7 L149.5,56.8 L151.2,55.0 L152.1,47.9 L152.1,40.7 Z" fill="none" stroke="#dcd2a2" stroke-width="7" opacity="0.75" filter="url(#bl15)"/></g>

<g filter="url(#bl05)" opacity="0.8">
<path d="M65.6,181.4 C72,180 76,179 81.3,178.6 S90,177.5 95.6,177.1 S106,176 112.7,175.7 S121,175 124,174.3 S130,171.5 132.7,171.4 S140,173 144,172.9 S148,170.5 149.9,170 S155,168 158.4,167.1" fill="none" stroke="#4a5cc0" stroke-width="1.1" stroke-dasharray="7 1 4 1"/>
<ellipse cx="135.6" cy="172" rx="4.5" ry="3" fill="#4a5cc8"/>
<path d="M181,153 L188,153.5 L186,157 L185.5,163 L186.3,166 L185.4,170 L184.8,174 L185.6,178 L185.9,182 L185.5,186 L183.5,188.5 L181.8,186 L182.6,180 L182,174 L183,168 L182.3,162 L180.5,157 Z" fill="#4a5cc8"/>
<path d="M158.4,167.1 C162,165 166,163 170,160.5 S176,156 180,154" fill="none" stroke="#4a5cc0" stroke-width="1.3"/>
<ellipse cx="150" cy="170" rx="1.5" ry="1.2" fill="#4a5cc8"/><ellipse cx="164" cy="175" rx="1.2" ry="1.6" fill="#5a5cc8"/><ellipse cx="92" cy="160" rx="1.3" ry="1" fill="#6a60c8"/><ellipse cx="125" cy="150" rx="1" ry="1.4" fill="#7a60c8"/><ellipse cx="170" cy="150" rx="1.2" ry="1" fill="#7060c0"/>
<ellipse cx="108.4" cy="140.5" rx="1.2" ry="2.2" fill="#8070c8"/>
<ellipse cx="102.7" cy="157" rx="1.4" ry="1.3" fill="#5a60c8"/>
<ellipse cx="159.9" cy="147" rx="1.1" ry="1.5" fill="#9070c0"/>
<ellipse cx="152.7" cy="166" rx="2" ry="1.4" fill="#4a5cc8"/>
<ellipse cx="161" cy="166" rx="1.5" ry="2" fill="#4a5cc8"/>
<path d="M104,104 L106.5,100.5 L109.5,101.5 L112,99.5 L114.5,101.5 L113.5,104.5 L115,107 L111,107.5 L108.5,109 L105.5,107 Z" fill="#8a1c1c" stroke="#3a0a0a" stroke-width="0.5"/>
</g>

</g>
<path d="M153.0,39.8 L159.3,40.7 L164.6,42.5 L169.1,40.7 L171.8,38.0 M152.5,43.0 L155.7,43.4 L161.0,45.2 L165.5,47.0 L168.2,46.0 L171.8,44.3 M168.2,46.0 L168.2,47.9 L173.6,49.6 L178.9,49.6 L183.6,48.8 M168.2,47.9 L168.2,50.5 L169.1,54.1 L174.5,55.0 L180.7,55.9 L184.8,56.8 M151.2,55.0 L153.0,56.8 L154.8,65.7 L155.7,70.2 M155.7,70.2 L162.9,72.0 L170.0,73.8 L175.4,72.9 M132.5,65.0 L142.0,65.0 L149.5,66.2 L153.2,67.5 M124.5,73.8 L134.5,71.2 L144.5,70.0 L149.5,67.5 M122.0,87.5 L132.0,83.8 L142.0,81.2 L149.5,78.8 M121.0,95.0 L132.0,92.5 L144.5,91.2 L149.5,88.8 M149.5,67.5 L148.2,78.8 L147.0,90.0 L149.5,100.0 M153.2,67.5 L150.8,73.8 L154.5,76.2 L159.5,73.8 L163.2,70.0 L173.2,72.5 M154.5,76.2 L155.8,85.0 L157.0,93.8 L159.5,100.0 M159.5,73.8 L164.5,80.0 L165.8,87.5 L168.2,95.0 M173.2,72.5 L174.5,80.0 L173.2,90.0 L172.0,100.0 L167.5,101.0 L159.5,100.0 L156.3,105.0 M147.0,90.0 L152.0,89.0 L157.0,93.8 M148.2,78.8 L152.0,80.0 L155.8,85.0 M176.4,76.4 L181.0,80.0 L186.0,78.6 M124.3,97.5 L138.6,95.7 L149.0,96.5 L155.6,93.9 M124.3,97.5 L124.3,110.0 L127.9,120.7 M176.4,76.4 L181.0,80.0 L186.0,78.6 M195.7,78.4 L196.8,86.4 L195.9,91.8 L196.8,100.7 L199.5,109.6 L200.4,113.2 M221.8,82.0 L220.0,84.6 L217.3,85.5 L216.4,89.1 L217.3,93.6 L215.5,97.1 L212.9,98.9 L210.2,100.7 L208.4,103.4 L205.7,105.2 L203.0,109.6 L200.4,113.2 M198.4,117.1 L202.0,120.0 L205.6,122.9 L211.3,127.1 L217.0,128.5 M89.5,112.5 L97.1,111.4 L102.9,109.3 L105.5,108.0 M107.1,109.3 L115.7,107.9 L122.9,106.4 L130.0,105.0 L140.0,103.0 L144.0,102.5 M105.7,111.0 L115.7,110.7 L122.9,110.0 L130.0,108.6 L140.0,106.4 L144.0,105.5 M114.3,103.6 L122.9,102.1 L128.6,100.7 L140.0,99.3 L144.0,98.9 M105.7,111.0 L106.0,115.0 L108.6,118.6 L107.6,124.5 L109.6,129.4 L106.7,133.4 L102.7,136.3 L99.8,140.3 L100.7,146.2 L103.0,148.7 M119.0,112.5 L120.4,114.7 L122.4,120.6 L127.3,123.5 L130.8,126.6 M129.8,134.5 L125.4,136.3 L123.4,140.3 L117.6,140.0 M130.8,126.6 L129.8,134.5 L131.8,139.4 L135.7,143.3 L138.7,147.2 L145.5,149.2 L152.4,147.2 L159.3,148.2 L165.2,145.3 L168.1,139.4 L170.1,134.5 L169.1,128.6 L165.2,122.7 L161.3,118.8 L159.3,113.8 L158.3,108.9 L156.3,105.0 M122.0,110.0 L131.8,113.8 L143.6,112.9 L151.4,110.9 L156.3,108.0 M143.6,112.9 L143.6,118.8 L137.7,123.7 L132.8,126.6 L130.8,126.6 M169.1,128.6 L177.0,124.3 L186.0,121.5 L191.3,120.0 L198.4,117.1 L200.4,113.2 M159.3,148.2 L162.2,154.1 L159.3,160.0 M165.2,145.3 L172.1,152.2 L173.0,160.0 M64.5,142.0 L60.8,146.8 L59.8,149.7 L63.7,153.6 L66.7,158.5 L67.6,163.4 L69.6,167.4 L69.6,174.2 L68.6,180.1 L67.6,186.0 L64.3,188.6 M66.7,158.5 L71.6,155.6 L79.4,154.6 L86.3,153.6 L91.2,156.6 L97.1,155.5 L100.9,155.5 L106.8,154.0 L112.7,152.5 L117.6,149.5 M101.0,140.0 L102.9,139.5 L106.8,143.0 L112.7,142.0 L117.6,140.0 L119.6,135.0 M117.6,139.9 L116.6,146.8 L117.6,152.7 L116.6,158.6 L117.6,160.5 M68.6,182.0 L78.0,180.5 L86.0,177.3 L92.0,174.0 L95.0,173.0 L102.9,171.3 L108.8,168.4 L114.6,164.5 L117.6,160.5 L124.0,157.0 L130.0,155.5 L135.7,154.0 L142.0,151.0 L148.0,150.7 L152.4,147.2 M114.6,164.5 L116.6,168.4 L120.5,174.0 L120.5,178.2 L126.4,178.2 L134.3,176.3 L140.2,179.2 L145.1,177.2 L150.0,175.3 L156.0,171.0 L160.0,166.0 L160.0,157.9 M104.8,175.0 L109.1,181.4 L113.4,185.7 L116.6,192.1 M84.0,207.0 L92.0,210.0 L98.4,209.3 L104.8,206.0 L111.3,202.8 L115.6,199.6 L116.6,196.4 L119.8,192.1 L124.1,190.0 L124.1,183.6 L122.0,179.3 L120.5,178.2 M124.1,190.0 L130.5,190.0 L137.0,187.8 L138.0,183.6 L134.8,179.3 L134.3,176.3 M137.0,196.4 L141.3,195.3 L145.5,196.4 L148.7,200.7 L146.6,205.0 L147.7,208.2 L143.4,209.3 L140.2,207.1 L137.0,207.1 L135.9,202.8 L138.0,199.6 L137.0,196.4 M141.3,195.3 L143.4,190.0 L145.5,183.6 L145.1,177.2 M150.0,175.3 L149.8,183.6 L148.7,190.0 L152.0,196.4 L150.9,205.0 L154.1,211.4 L152.0,217.8 L150.4,223.5 M143.4,209.3 L144.5,215.7 L145.5,222.1 L145.7,225.0 M160.0,157.9 L164.0,155.0 L167.1,153.4 L170.7,149.8 L172.1,152.2 M172.1,152.2 L173.4,154.3 L171.6,157.9 L174.3,159.6 L179.6,157.9 L185.9,157.0 M158.9,175.7 L161.0,184.3 L167.5,183.2 L172.8,180.0 L178.2,176.8 L185.5,174.6 M150.3,170.3 L155.7,173.6 L158.9,175.7 M150.3,170.3 L153.6,166.0 L160.0,162.8 L166.4,160.7 L169.6,154.3 M161.0,184.3 L158.0,192.0 L152.0,196.4 M172.8,150.8 L183.1,152.9 L188.6,154.3" fill="none" stroke="#7a2414" stroke-width="0.7" stroke-linejoin="round"/>
<path d="M153.0,35.4 L155.5,34.0 L157.5,33.6 L161.0,36.0 L165.5,35.2 L169.0,36.2 L171.8,38.0 L170.0,40.7 L171.8,43.4 L176.2,43.4 L177.1,40.7 L178.9,41.6 L179.8,45.2 L183.4,46.0 L184.3,49.6 L185.2,56.8 L184.3,61.2 L180.7,63.0 L177.1,64.8 L176.2,68.4 L175.4,72.9 L177.1,75.5 L182.9,78.6 L193.6,77.5 L195.0,78.4 L198.6,78.4 L202.1,76.6 L205.7,74.8 L209.3,74.8 L212.9,75.7 L217.3,75.7 L220.0,73.9 L221.8,74.8 L222.7,78.4 L221.8,82.0 L224.5,83.8 L228.0,84.6 L231.6,85.5 L235.2,87.3 L238.8,88.2 L240.5,90.0 L239.6,93.6 L238.8,98.9 L238.8,104.3 L237.0,107.9 L236.1,110.5 L235.0,113.6 L231.6,117.1 L228.9,119.8 L228.0,123.4 L225.4,127.0 L221.8,127.9 L218.2,128.8 L214.6,130.5 L212.9,132.3 L212.0,135.0 L212.9,137.7 L216.4,138.6 L217.3,142.1 L218.2,145.7 L220.0,148.4 L222.7,151.1 L220.0,152.9 L216.4,152.9 L212.9,153.8 L209.3,155.5 L205.7,154.6 L200.4,153.8 L195.0,152.9 L191.2,152.5 L188.6,154.3 L186.8,156.1 L185.9,158.8 L185.9,162.3 L186.8,165.9 L185.9,169.5 L185.0,173.9 L185.9,177.5 L186.5,182.0 L186.0,186.0 L184.5,189.0 L182.5,191.6 L178.9,193.4 L177.1,197.9 L176.2,202.3 L173.6,205.9 L169.1,209.5 L164.6,212.1 L160.2,215.7 L156.6,218.4 L153.9,221.1 L150.4,223.5 L148.6,223.6 L145.7,225.0 L143.6,225.7 L142.1,228.6 L140.0,230.0 L137.1,230.7 L134.3,230.0 L132.9,227.1 L132.9,223.6 L130.7,221.4 L127.9,219.3 L125.7,217.1 L122.9,217.1 L118.6,217.9 L113.6,217.9 L110.0,217.1 L106.4,217.9 L102.9,216.4 L100.2,214.8 L96.6,213.0 L93.0,214.8 L89.5,214.8 L86.8,211.2 L85.0,208.6 L82.9,205.0 L81.4,202.1 L80.0,198.6 L78.6,195.7 L76.4,196.4 L74.3,195.0 L71.4,195.0 L69.3,194.3 L68.6,191.4 L66.4,189.3 L64.3,188.6 L61.4,189.3 L59.3,190.7 L57.9,193.6 L56.4,197.9 L57.1,202.1 L56.4,207.9 L52.5,210.7 L48.0,213.4 L43.6,215.2 L39.1,216.4 L35.5,217.5 L32.9,217.0 L30.2,215.2 L28.4,212.5 L26.6,209.8 L27.5,207.1 L30.2,203.6 L32.9,200.0 L36.4,198.2 L40.0,194.6 L41.8,192.0 L42.7,188.4 L41.8,185.7 L38.2,183.0 L34.6,180.4 L33.4,177.3 L37.9,172.9 L40.5,167.5 L43.2,162.1 L44.1,156.8 L43.2,151.4 L42.3,147.0 L46.8,144.3 L51.2,141.6 L55.7,141.6 L64.5,141.6 L67.0,140.0 L67.2,137.9 L67.5,134.3 L66.8,130.7 L67.1,129.3 L69.3,127.9 L71.4,126.4 L74.3,125.7 L77.1,124.3 L81.4,123.6 L85.0,122.1 L87.1,120.0 L89.3,116.4 L90.0,113.6 L89.3,110.0 L87.9,107.9 L86.4,105.0 L87.1,102.9 L90.7,101.4 L93.6,100.7 L96.4,100.0 L99.3,98.6 L102.1,97.9 L104.3,95.7 L105.0,92.9 L106.4,90.0 L109.3,87.9 L113.6,87.9 L117.9,86.4 L120.7,84.0 L122.1,81.4 L122.9,77.9 L124.3,75.0 L127.1,72.1 L130.0,70.7 L131.4,68.6 L132.1,65.7 L132.9,62.9 L132.1,60.0 L132.9,56.4 L135.0,54.3 L138.6,54.3 L144.3,55.7 L149.5,56.8 L151.2,55.0 L152.1,47.9 L152.1,40.7 Z" fill="none" stroke="#6a6a38" stroke-width="1.1"/>
<text x="165.75" y="61" class="lb" text-anchor="middle" fill="#5a2a20">DangTu</text><text x="176" y="106" class="lb" text-anchor="middle" fill="#5a2a20">XuanZhou</text><text x="206.4" y="92" class="lb" text-anchor="middle" fill="#5a2a20">LangXi</text><text x="220" y="108.8" class="lb" text-anchor="middle" fill="#5a2a20">GuangDe</text><text x="192" y="142" class="lb" text-anchor="middle" fill="#5a2a20">NingGuo</text><text x="144" y="107" class="lb" text-anchor="middle" fill="#5a2a20">NanLing</text><text x="134.5" y="92.3" class="lb" text-anchor="middle" fill="#5a2a20">FanChang</text><text x="119" y="103.6" class="lb" text-anchor="middle" fill="#5a2a20">WuHu</text><text x="97.5" y="107" class="lb" text-anchor="middle" fill="#5a2a20">Jiu</text><text x="148.5" y="133.7" class="lb" text-anchor="middle" fill="#5a2a20">Jing</text><text x="113.3" y="133.7" class="lb" text-anchor="middle" fill="#5a2a20">QingYang</text><text x="84.5" y="140.3" class="lb" text-anchor="middle" fill="#5a2a20">GuiChi</text><text x="51.7" y="174" class="lb" text-anchor="middle" fill="#5a2a20">DongZhi</text><text x="88.7" y="166.6" class="lb" text-anchor="middle" fill="#5a2a20">ShiTai</text><text x="131" y="157.6" class="lb" text-anchor="middle" fill="#5a2a20">HuangShan</text><text x="155.6" y="156.3" class="lb" text-anchor="middle" fill="#5a2a20">JingDe</text><text x="166.7" y="169.1" class="lb" text-anchor="middle" fill="#5a2a20">JiXi</text><text x="96.9" y="194.5" class="lb" text-anchor="middle" fill="#5a2a20">QiMen</text><text x="144" y="186.3" class="lb" text-anchor="middle" fill="#5a2a20">YiXian</text><text x="164.6" y="196.6" class="lb" text-anchor="middle" fill="#5a2a20">SheXian</text><text x="119.5" y="208.9" class="lb" text-anchor="middle" fill="#5a2a20">XiuNing</text><text x="162" y="89.5" class="lb" text-anchor="middle" fill="#5a2a20">WanZhi</text><text x="160.75" y="83" class="lb" text-anchor="middle" fill="#5a2a20">Wu</text><text x="162" y="40" class="lb" text-anchor="middle" fill="#5a2a20">HanShan</text><text x="178.25" y="50.8" class="lb" text-anchor="middle" fill="#5a2a20">BoWang</text><text x="140.75" y="68.5" class="lb" text-anchor="middle" fill="#5a2a20">WuWei</text><text x="143.25" y="82" class="lb" text-anchor="middle" fill="#5a2a20">SanShan</text>
<g transform="translate(0,1.2)"><text x="19.5" y="23.6" font-family='"Liberation Serif", serif' font-weight="bold" font-size="9.6">Legend</text>
<text x="19.5" y="36.6" font-family='"Liberation Serif", serif' font-weight="bold" font-size="7.3" textLength="26" lengthAdjust="spacingAndGlyphs">TEM(°C)</text>
<rect x="15.5" y="40" width="4" height="31" fill="#fcf0f6"/>
<rect x="19.5" y="40.3" width="11.5" height="30.5" fill="url(#gTemBar)"/>
<text x="33.5" y="43.8" class="t2">High: 17.536</text>
<text x="33.5" y="71.8" class="t2">Low: 8.106</text></g>
<text x="214.8" y="183.6" font-family="Liberation Sans, sans-serif" font-size="11.6" text-anchor="middle" stroke="#000" stroke-width="0.12">N</text>
<path d="M214.9,187.2 L206.6,214 L215,205.8 Z" fill="#000"/>
<path d="M214.9,187.2 L223.5,214 L215,205.8 Z" fill="#fff" stroke="#000" stroke-width="0.8"/>
<rect x="169" y="226.1" width="65.6" height="3.5" fill="#000"/>
<rect x="186" y="227.1" width="16.2" height="1.6" fill="#fff"/>
<text x="169.5" y="223.3" class="t" text-anchor="middle">0</text>
<text x="185.9" y="223.3" class="t" text-anchor="middle">25</text>
<text x="202" y="223.3" class="t" text-anchor="middle">50</text>
<text x="234.4" y="223.3" class="t" text-anchor="middle">100</text>
<text x="236" y="230.3" class="t">km</text>
</g>
<text x="132" y="276" font-family='"Liberation Serif", serif' font-weight="bold" font-size="10" text-anchor="middle">(a)</text>
<text x="415.5" y="275" font-family='"Liberation Serif", serif' font-weight="bold" font-size="10" text-anchor="middle">(b)</text>
</svg>
</body></html>
